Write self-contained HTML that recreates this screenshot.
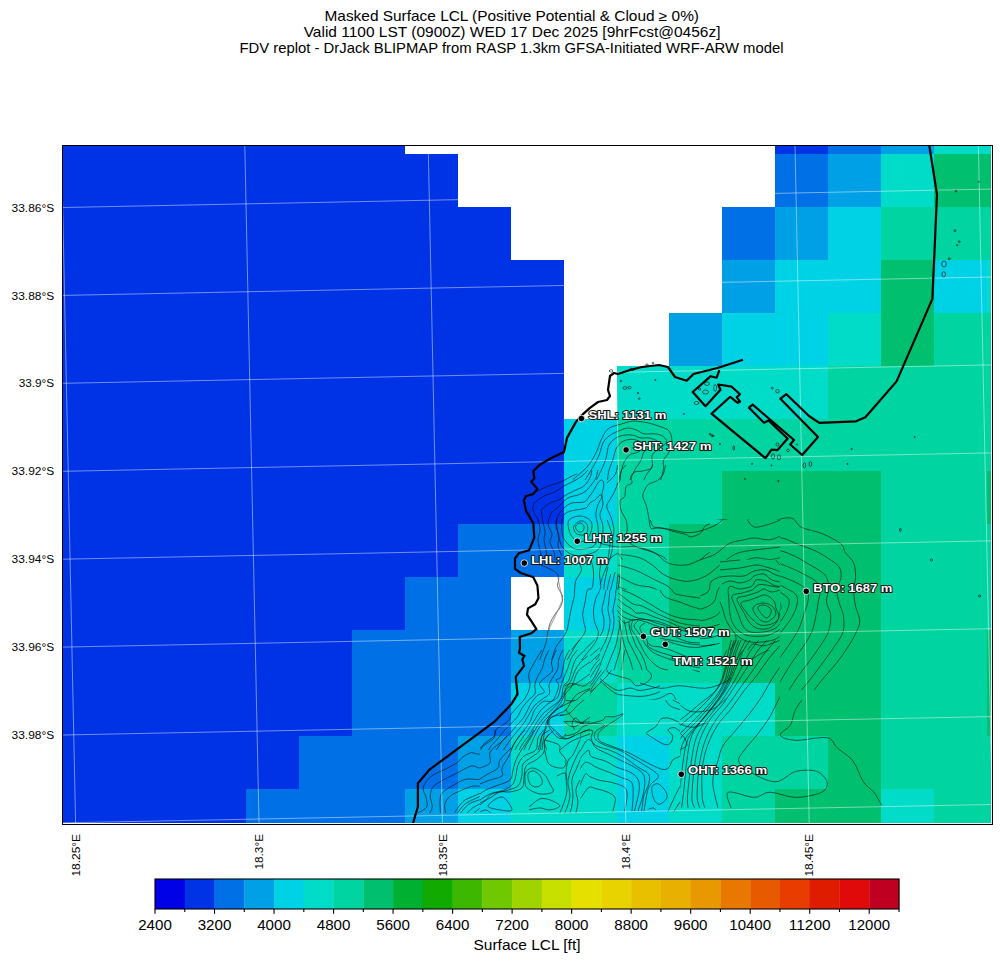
<!DOCTYPE html>
<html><head><meta charset="utf-8">
<style>
html,body{margin:0;padding:0;background:#fff;}
body{width:1001px;height:962px;overflow:hidden;position:relative;}
svg{position:absolute;left:0;top:0;}
text{font-family:"Liberation Sans",sans-serif;fill:#000;}
.st text{font-weight:bold;font-size:11.5px;fill:#fff;stroke:#111;stroke-width:1.9px;paint-order:stroke;stroke-linejoin:round;}
</style></head>
<body>
<svg width="1001" height="962" viewBox="0 0 1001 962">
<g font-size="14.1px">
<text x="511.75" y="21" text-anchor="middle" textLength="374.5" lengthAdjust="spacingAndGlyphs">Masked Surface LCL (Positive Potential &amp; Cloud ≥ 0%)</text>
<text x="512.1" y="37" text-anchor="middle" textLength="416.8" lengthAdjust="spacingAndGlyphs">Valid 1100 LST (0900Z) WED 17 Dec 2025 [9hrFcst@0456z]</text>
<text x="511.5" y="53" text-anchor="middle" textLength="544" lengthAdjust="spacingAndGlyphs">FDV replot - DrJack BLIPMAP from RASP 1.3km GFSA-Initiated WRF-ARW model</text>
</g>
<defs><clipPath id="ax"><rect x="63" y="146" width="928" height="677"/></clipPath><clipPath id="ctc"><rect x="63" y="146" width="928" height="667"/></clipPath></defs>
<g clip-path="url(#ax)">
<g shape-rendering="crispEdges"><rect x="63" y="146" width="342.0" height="8.0" fill="#0033e6"/>
<rect x="775" y="146" width="53.0" height="8.0" fill="#0033e6"/>
<rect x="828" y="146" width="53.0" height="8.0" fill="#0070e6"/>
<rect x="881" y="146" width="53.0" height="8.0" fill="#00a0e6"/>
<rect x="934" y="146" width="57.0" height="8.0" fill="#00dcc8"/>
<rect x="63" y="154" width="395.0" height="53.0" fill="#0033e6"/>
<rect x="775" y="154" width="53.0" height="53.0" fill="#0070e6"/>
<rect x="828" y="154" width="53.0" height="53.0" fill="#00a0e6"/>
<rect x="881" y="154" width="53.0" height="53.0" fill="#00dcc8"/>
<rect x="934" y="154" width="57.0" height="53.0" fill="#00c070"/>
<rect x="63" y="207" width="448.0" height="53.0" fill="#0033e6"/>
<rect x="722" y="207" width="53.0" height="53.0" fill="#0070e6"/>
<rect x="775" y="207" width="53.0" height="53.0" fill="#00a0e6"/>
<rect x="828" y="207" width="53.0" height="53.0" fill="#00d2e6"/>
<rect x="881" y="207" width="110.0" height="53.0" fill="#00d4a0"/>
<rect x="63" y="260" width="501.0" height="53.0" fill="#0033e6"/>
<rect x="722" y="260" width="53.0" height="53.0" fill="#00a0e6"/>
<rect x="775" y="260" width="106.0" height="53.0" fill="#00d2e6"/>
<rect x="881" y="260" width="53.0" height="53.0" fill="#00c070"/>
<rect x="934" y="260" width="53.0" height="53.0" fill="#00d2e6"/>
<rect x="987" y="260" width="4.0" height="53.0" fill="#00dcc8"/>
<rect x="63" y="313" width="501.0" height="53.0" fill="#0033e6"/>
<rect x="669" y="313" width="53.0" height="53.0" fill="#00a0e6"/>
<rect x="722" y="313" width="106.0" height="53.0" fill="#00d2e6"/>
<rect x="828" y="313" width="53.0" height="53.0" fill="#00dcc8"/>
<rect x="881" y="313" width="53.0" height="53.0" fill="#00c070"/>
<rect x="934" y="313" width="57.0" height="53.0" fill="#00d4a0"/>
<rect x="63" y="366" width="501.0" height="53.0" fill="#0033e6"/>
<rect x="617" y="366" width="211.0" height="53.0" fill="#00dcc8"/>
<rect x="828" y="366" width="163.0" height="53.0" fill="#00d4a0"/>
<rect x="63" y="419" width="501.0" height="52.0" fill="#0033e6"/>
<rect x="564" y="419" width="53.0" height="52.0" fill="#00d2e6"/>
<rect x="617" y="419" width="374.0" height="52.0" fill="#00d4a0"/>
<rect x="63" y="471" width="501.0" height="53.0" fill="#0033e6"/>
<rect x="564" y="471" width="53.0" height="53.0" fill="#00d2e6"/>
<rect x="617" y="471" width="105.0" height="53.0" fill="#00d4a0"/>
<rect x="722" y="471" width="159.0" height="53.0" fill="#00c070"/>
<rect x="881" y="471" width="106.0" height="53.0" fill="#00d4a0"/>
<rect x="987" y="471" width="4.0" height="53.0" fill="#00c070"/>
<rect x="63" y="524" width="395.0" height="53.0" fill="#0033e6"/>
<rect x="458" y="524" width="106.0" height="53.0" fill="#0070e6"/>
<rect x="564" y="524" width="53.0" height="53.0" fill="#00dcc8"/>
<rect x="617" y="524" width="52.0" height="53.0" fill="#00d4a0"/>
<rect x="669" y="524" width="212.0" height="53.0" fill="#00c070"/>
<rect x="881" y="524" width="110.0" height="53.0" fill="#00d4a0"/>
<rect x="63" y="577" width="342.0" height="53.0" fill="#0033e6"/>
<rect x="405" y="577" width="106.0" height="53.0" fill="#0070e6"/>
<rect x="564" y="577" width="53.0" height="53.0" fill="#00d2e6"/>
<rect x="617" y="577" width="52.0" height="53.0" fill="#00d4a0"/>
<rect x="669" y="577" width="212.0" height="53.0" fill="#00c070"/>
<rect x="881" y="577" width="110.0" height="53.0" fill="#00d4a0"/>
<rect x="63" y="630" width="289.0" height="53.0" fill="#0033e6"/>
<rect x="352" y="630" width="159.0" height="53.0" fill="#0070e6"/>
<rect x="511" y="630" width="53.0" height="53.0" fill="#00a0e6"/>
<rect x="564" y="630" width="53.0" height="53.0" fill="#00dcc8"/>
<rect x="617" y="630" width="105.0" height="53.0" fill="#00d4a0"/>
<rect x="722" y="630" width="159.0" height="53.0" fill="#00c070"/>
<rect x="881" y="630" width="106.0" height="53.0" fill="#00d4a0"/>
<rect x="987" y="630" width="4.0" height="53.0" fill="#00c070"/>
<rect x="63" y="683" width="289.0" height="53.0" fill="#0033e6"/>
<rect x="352" y="683" width="159.0" height="53.0" fill="#0070e6"/>
<rect x="511" y="683" width="53.0" height="53.0" fill="#00d2e6"/>
<rect x="564" y="683" width="53.0" height="53.0" fill="#00d4a0"/>
<rect x="617" y="683" width="158.0" height="53.0" fill="#00dcc8"/>
<rect x="775" y="683" width="106.0" height="53.0" fill="#00c070"/>
<rect x="881" y="683" width="106.0" height="53.0" fill="#00d4a0"/>
<rect x="987" y="683" width="4.0" height="53.0" fill="#00c070"/>
<rect x="63" y="736" width="236.0" height="53.0" fill="#0033e6"/>
<rect x="299" y="736" width="159.0" height="53.0" fill="#0070e6"/>
<rect x="458" y="736" width="53.0" height="53.0" fill="#00a0e6"/>
<rect x="511" y="736" width="106.0" height="53.0" fill="#00dcc8"/>
<rect x="617" y="736" width="52.0" height="53.0" fill="#00d2e6"/>
<rect x="669" y="736" width="53.0" height="53.0" fill="#00dcc8"/>
<rect x="722" y="736" width="106.0" height="53.0" fill="#00d4a0"/>
<rect x="828" y="736" width="53.0" height="53.0" fill="#00c070"/>
<rect x="881" y="736" width="110.0" height="53.0" fill="#00d4a0"/>
<rect x="63" y="789" width="183.0" height="34.0" fill="#0033e6"/>
<rect x="246" y="789" width="159.0" height="34.0" fill="#0070e6"/>
<rect x="405" y="789" width="53.0" height="34.0" fill="#00a0e6"/>
<rect x="458" y="789" width="53.0" height="34.0" fill="#00d2e6"/>
<rect x="511" y="789" width="106.0" height="34.0" fill="#00dcc8"/>
<rect x="617" y="789" width="52.0" height="34.0" fill="#00d2e6"/>
<rect x="669" y="789" width="53.0" height="34.0" fill="#00dcc8"/>
<rect x="722" y="789" width="53.0" height="34.0" fill="#00d4a0"/>
<rect x="775" y="789" width="106.0" height="34.0" fill="#00c070"/>
<rect x="881" y="789" width="53.0" height="34.0" fill="#00dcc8"/>
<rect x="934" y="789" width="57.0" height="34.0" fill="#00d4a0"/></g>
<g clip-path="url(#ctc)"><g fill="none" stroke="#000" stroke-opacity="0.7" stroke-width="0.8" stroke-linejoin="round">
<defs><mask id="cx0" maskUnits="userSpaceOnUse" x="0" y="0" width="1001" height="962"><rect x="0" y="0" width="1001" height="962" fill="#fff"/><rect x="470" y="650" width="120" height="100" fill="#000"/><rect x="480" y="730" width="100" height="85" fill="#000"/></mask><mask id="cx1" maskUnits="userSpaceOnUse" x="0" y="0" width="1001" height="962"><rect x="0" y="0" width="1001" height="962" fill="#fff"/><rect x="600" y="520" width="180" height="140" fill="#000"/><rect x="530" y="470" width="100" height="90" fill="#000"/><rect x="560" y="410" width="140" height="70" fill="#000"/><rect x="590" y="465" width="120" height="95" fill="#000"/></mask><mask id="cx2" maskUnits="userSpaceOnUse" x="0" y="0" width="1001" height="962"><rect x="0" y="0" width="1001" height="962" fill="#fff"/><rect x="560" y="560" width="140" height="120" fill="#000"/><rect x="640" y="640" width="260" height="175" fill="#000"/><rect x="600" y="520" width="180" height="140" fill="#000"/><rect x="720" y="560" width="100" height="90" fill="#000"/><rect x="780" y="490" width="120" height="210" fill="#000"/></mask><mask id="cx3" maskUnits="userSpaceOnUse" x="0" y="0" width="1001" height="962"><rect x="0" y="0" width="1001" height="962" fill="#fff"/><rect x="540" y="640" width="120" height="100" fill="#000"/><rect x="470" y="650" width="120" height="100" fill="#000"/><rect x="560" y="700" width="120" height="115" fill="#000"/><rect x="640" y="640" width="260" height="175" fill="#000"/></mask><mask id="cx4" maskUnits="userSpaceOnUse" x="0" y="0" width="1001" height="962"><rect x="0" y="0" width="1001" height="962" fill="#fff"/><rect x="600" y="520" width="180" height="140" fill="#000"/><rect x="560" y="410" width="140" height="70" fill="#000"/><rect x="590" y="465" width="120" height="95" fill="#000"/></mask><mask id="cx5" maskUnits="userSpaceOnUse" x="0" y="0" width="1001" height="962"><rect x="0" y="0" width="1001" height="962" fill="#fff"/><rect x="500" y="560" width="120" height="100" fill="#000"/><rect x="540" y="660" width="120" height="80" fill="#000"/><rect x="600" y="520" width="180" height="140" fill="#000"/><rect x="600" y="590" width="100" height="80" fill="#000"/><rect x="560" y="680" width="140" height="60" fill="#000"/></mask><mask id="cx8" maskUnits="userSpaceOnUse" x="0" y="0" width="1001" height="962"><rect x="0" y="0" width="1001" height="962" fill="#fff"/><rect x="560" y="465" width="45" height="95" fill="#000"/></mask><mask id="cx10" maskUnits="userSpaceOnUse" x="0" y="0" width="1001" height="962"><rect x="0" y="0" width="1001" height="962" fill="#fff"/><rect x="700" y="490" width="80" height="210" fill="#000"/></mask><mask id="cx11" maskUnits="userSpaceOnUse" x="0" y="0" width="1001" height="962"><rect x="0" y="0" width="1001" height="962" fill="#fff"/><rect x="600" y="590" width="100" height="80" fill="#000"/></mask><mask id="cx12" maskUnits="userSpaceOnUse" x="0" y="0" width="1001" height="962"><rect x="0" y="0" width="1001" height="962" fill="#fff"/><rect x="470" y="650" width="120" height="100" fill="#000"/><rect x="600" y="590" width="100" height="80" fill="#000"/><rect x="560" y="700" width="120" height="40" fill="#000"/></mask><mask id="cx13" maskUnits="userSpaceOnUse" x="0" y="0" width="1001" height="962"><rect x="0" y="0" width="1001" height="962" fill="#fff"/><rect x="555" y="730" width="25" height="85" fill="#000"/></mask><mask id="cx15" maskUnits="userSpaceOnUse" x="0" y="0" width="1001" height="962"><rect x="0" y="0" width="1001" height="962" fill="#fff"/><rect x="640" y="700" width="40" height="115" fill="#000"/><rect x="640" y="600" width="260" height="40" fill="#000"/><rect x="600" y="590" width="100" height="80" fill="#000"/><rect x="780" y="490" width="120" height="210" fill="#000"/></mask><mask id="cx16" maskUnits="userSpaceOnUse" x="0" y="0" width="1001" height="962"><rect x="0" y="0" width="1001" height="962" fill="#fff"/><rect x="720" y="560" width="100" height="90" fill="#000"/><rect x="600" y="590" width="100" height="80" fill="#000"/></mask><mask id="cx17" maskUnits="userSpaceOnUse" x="0" y="0" width="1001" height="962"><rect x="0" y="0" width="1001" height="962" fill="#fff"/><rect x="780" y="490" width="120" height="210" fill="#000"/></mask><mask id="cx18" maskUnits="userSpaceOnUse" x="0" y="0" width="1001" height="962"><rect x="0" y="0" width="1001" height="962" fill="#fff"/><rect x="605" y="465" width="105" height="95" fill="#000"/></mask></defs>
<g mask="url(#cx0)">
<path d="M418.4,812.6 C419.8,811.7 425.4,809.6 426.7,807.1 C428.0,804.5 426.6,800.6 426.0,797.3 C425.4,794.1 422.4,791.0 423.2,787.6 C424.1,784.1 427.3,779.4 430.9,776.4 C434.5,773.4 440.4,771.8 444.8,769.4 C449.3,767.1 454.4,764.6 457.4,762.5 C460.4,760.4 460.6,758.5 463.0,756.9 C465.3,755.3 468.5,753.2 471.3,752.7 C474.1,752.3 477.8,755.0 479.7,754.1 C481.5,753.2 480.6,749.0 482.5,747.1 C484.3,745.3 488.7,744.8 490.8,743.0 C492.9,741.1 494.3,738.1 495.0,736.0 C495.7,733.9 493.9,732.3 495.0,730.4 C496.2,728.6 499.4,727.2 502.0,724.8 C504.5,722.5 508.7,719.5 510.3,716.5 C512.0,713.5 510.1,709.7 511.7,706.7 C513.4,703.7 517.8,701.1 520.1,698.4 C522.4,695.6 524.8,691.4 525.7,690.0"/>
<path d="M428.1,815.4 C428.8,814.0 432.0,810.3 432.3,807.1 C432.6,803.8 430.0,799.4 430.2,795.9 C430.4,792.4 431.3,789.0 433.7,786.2 C436.1,783.4 441.1,781.3 444.8,779.2 C448.6,777.1 451.6,775.8 456.0,773.6 C460.4,771.4 467.4,766.9 471.3,766.0 C475.3,765.0 476.9,768.4 479.7,768.0 C482.5,767.7 486.2,765.7 488.0,763.9 C489.9,762.0 490.1,759.0 490.8,756.9 C491.5,754.8 490.8,753.6 492.2,751.3 C493.6,749.0 496.9,746.0 499.2,743.0 C501.5,739.9 503.4,736.9 506.2,733.2 C509.0,729.5 513.4,724.1 515.9,720.7 C518.5,717.2 519.9,714.9 521.5,712.3 C523.1,709.7 524.5,707.7 525.7,705.3 C526.8,703.0 528.0,699.5 528.5,698.4"/>
<path d="M440.7,815.4 C440.5,813.1 439.7,805.2 440.0,801.5 C440.2,797.8 440.1,795.7 442.1,793.1 C444.0,790.6 447.9,788.5 451.8,786.2 C455.8,783.8 460.9,780.4 465.7,779.2 C470.6,778.0 476.4,780.6 481.1,779.2 C485.7,777.8 490.1,774.1 493.6,770.8 C497.1,767.6 499.7,762.9 502.0,759.7 C504.3,756.4 505.7,754.1 507.6,751.3 C509.4,748.5 510.8,746.2 513.1,743.0 C515.5,739.7 518.7,734.8 521.5,731.8 C524.3,728.8 528.6,726.0 530.0,724.8"/>
<path d="M446.2,815.4 C446.0,813.6 444.1,807.5 444.8,804.3 C445.5,801.0 447.6,798.2 450.4,795.9 C453.2,793.6 457.9,792.0 461.6,790.3 C465.3,788.7 469.0,786.9 472.7,786.2 C476.4,785.5 479.9,786.9 483.9,786.2 C487.8,785.5 492.0,784.1 496.4,782.0 C500.8,779.9 506.6,776.9 510.3,773.6 C514.1,770.4 515.4,766.2 518.7,762.5 C522.0,758.8 528.1,753.2 530.0,751.3"/>
<path d="M454.6,812.6 C456.0,810.8 459.7,804.3 463.0,801.5 C466.2,798.7 469.9,797.8 474.1,795.9 C478.3,794.1 483.9,791.7 488.0,790.3 C492.2,789.0 495.5,789.4 499.2,787.6 C502.9,785.7 506.6,782.5 510.3,779.2 C514.1,775.9 518.2,771.3 521.5,768.0 C524.8,764.8 528.6,761.1 530.0,759.7"/>
<path d="M458.8,815.4 C460.4,813.6 464.6,807.1 468.5,804.3 C472.5,801.5 478.3,800.6 482.5,798.7 C486.7,796.9 489.7,794.5 493.6,793.1 C497.6,791.7 502.5,792.2 506.2,790.3 C509.9,788.5 512.7,785.2 515.9,782.0 C519.2,778.7 523.3,773.6 525.7,770.8 C528.0,768.0 529.3,766.2 530.0,765.3"/>
<path d="M471.3,815.4 C472.7,814.3 476.4,810.6 479.7,808.5 C482.9,806.4 487.1,805.0 490.8,802.9 C494.6,800.8 498.3,797.5 502.0,795.9 C505.7,794.3 509.9,794.8 513.1,793.1 C516.4,791.5 518.7,788.5 521.5,786.2 C524.3,783.8 528.6,780.4 530.0,779.2"/>
<path d="M489.4,805.7 C488.7,804.1 493.4,801.5 496.4,801.5 C499.4,801.5 504.8,804.3 507.6,805.7 C510.3,807.1 514.3,808.9 513.1,809.9 C512.0,810.8 504.5,812.0 500.6,811.3 C496.6,810.6 490.1,807.3 489.4,805.7Z"/>
<path d="M456.7,814.0 C458.0,812.5 461.4,807.1 464.4,804.5 C467.5,801.9 471.4,800.4 475.0,798.7 C478.7,796.9 482.5,795.3 486.3,793.8 C490.1,792.4 494.3,791.6 498.0,790.0 C501.7,788.5 505.3,786.7 508.5,784.4 C511.8,782.0 514.6,778.9 517.5,776.0 C520.4,773.1 523.8,769.3 525.9,767.1 C528.0,764.8 529.3,763.2 530.0,762.5"/>
<path d="M465.1,815.4 C466.3,814.2 469.8,810.0 472.6,807.9 C475.4,805.9 478.7,804.6 481.8,802.9 C484.9,801.3 488.2,799.7 491.3,798.2 C494.5,796.7 497.7,795.1 500.9,793.8 C504.2,792.5 507.8,792.1 510.8,790.4 C513.8,788.7 516.3,785.9 518.8,783.6 C521.4,781.2 524.5,778.0 526.4,776.1 C528.2,774.2 529.4,772.9 530.0,772.2"/>
</g>
<g mask="url(#cx1)">
<path d="M575.9,525.1 C576.6,523.8 579.4,521.6 580.7,521.9 C582.1,522.2 583.8,525.1 583.9,526.7 C584.1,528.3 582.7,531.0 581.5,531.5 C580.3,532.0 577.7,531.0 576.7,529.9 C575.8,528.8 575.3,526.4 575.9,525.1Z"/>
<path d="M571.2,521.9 C572.0,519.2 576.5,517.1 579.1,517.1 C581.8,517.1 585.5,519.5 587.1,521.9 C588.7,524.3 589.5,529.1 588.7,531.5 C587.9,533.9 584.7,536.0 582.3,536.3 C579.9,536.5 576.2,535.5 574.3,533.1 C572.5,530.7 570.4,524.6 571.2,521.9Z"/>
<path d="M566.4,518.7 C567.7,514.4 573.5,512.8 577.5,512.3 C581.5,511.8 587.7,512.8 590.3,515.5 C593.0,518.2 593.5,524.6 593.5,528.3 C593.5,532.0 592.7,535.5 590.3,537.9 C587.9,540.3 582.6,542.7 579.1,542.7 C575.7,542.7 571.7,541.9 569.6,537.9 C567.4,533.9 565.0,523.0 566.4,518.7Z"/>
<path d="M540.8,509.1 C542.6,507.5 548.0,502.2 552.0,499.5 C556.0,496.8 560.5,495.3 564.8,493.1 C569.0,491.0 573.8,488.9 577.5,486.7 C581.3,484.6 584.2,483.0 587.1,480.3 C590.1,477.7 593.0,474.5 595.1,470.7 C597.3,467.0 598.1,462.7 599.9,458.0 C601.8,453.2 604.5,446.5 606.3,442.0 C608.2,437.4 609.0,433.7 611.1,430.8 C613.2,427.8 615.6,426.0 619.1,424.4 C622.6,422.8 627.1,421.5 631.9,421.2 C636.7,420.9 642.5,421.5 647.9,422.8 C653.2,424.1 659.9,426.0 663.9,429.2 C667.9,432.4 670.8,437.2 671.9,442.0 C672.9,446.8 670.5,455.3 670.3,458.0"/>
<path d="M534.4,502.7 C536.8,501.1 544.0,496.1 548.8,493.1 C553.6,490.2 558.6,487.5 563.2,485.1 C567.7,482.7 572.0,480.9 575.9,478.7 C579.9,476.6 584.2,475.0 587.1,472.3 C590.1,469.7 591.7,466.5 593.5,462.7 C595.4,459.0 596.7,454.5 598.3,450.0 C599.9,445.4 601.3,439.6 603.1,435.6 C605.0,431.6 606.3,428.6 609.5,426.0 C612.7,423.3 620.2,420.7 622.3,419.6"/>
<path d="M552.0,512.3 C553.6,511.2 557.8,508.0 561.6,505.9 C565.3,503.8 570.1,501.4 574.3,499.5 C578.6,497.6 582.9,496.3 587.1,494.7 C591.4,493.1 596.7,492.3 599.9,489.9 C603.1,487.5 604.5,484.1 606.3,480.3 C608.2,476.6 610.0,471.8 611.1,467.5 C612.2,463.3 611.4,459.6 612.7,454.8 C614.0,450.0 615.9,442.8 619.1,438.8 C622.3,434.8 626.6,431.8 631.9,430.8 C637.2,429.7 645.7,431.0 651.1,432.4 C656.4,433.7 662.3,435.3 663.9,438.8 C665.5,442.2 662.5,449.2 660.7,453.2 C658.8,457.2 654.0,461.2 652.7,462.7"/>
<path d="M556.8,521.9 C558.1,520.6 560.8,516.3 564.8,513.9 C568.8,511.5 575.9,509.1 580.7,507.5 C585.5,505.9 589.8,506.2 593.5,504.3 C597.3,502.4 600.5,499.2 603.1,496.3 C605.8,493.4 608.4,488.3 609.5,486.7"/>
<path d="M620.7,442.0 C622.6,439.6 627.9,437.4 631.9,437.2 C635.9,436.9 641.5,438.5 644.7,440.4 C647.9,442.2 651.6,445.7 651.1,448.4 C650.5,451.0 645.2,454.8 641.5,456.4 C637.8,458.0 632.2,458.8 628.7,458.0 C625.2,457.2 622.0,454.2 620.7,451.6 C619.4,448.9 618.8,444.4 620.7,442.0Z"/>
<path d="M540.8,509.1 C540.5,511.2 538.9,517.1 539.2,521.9 C539.4,526.7 541.6,531.5 542.4,537.9 C543.2,544.2 543.7,556.3 544.0,559.9"/>
<path d="M552.0,512.3 C551.4,514.4 548.8,520.3 548.8,525.1 C548.8,529.9 550.9,535.3 552.0,541.1 C553.0,546.9 554.6,556.8 555.2,559.9"/>
<path d="M560.0,521.9 C559.7,524.6 557.8,533.1 558.4,537.9 C558.9,542.7 561.6,547.0 563.2,550.7 C564.8,554.3 567.2,558.4 568.0,559.9"/>
<path d="M534.4,502.7 C533.6,504.6 529.6,509.4 529.6,513.9 C529.6,518.4 533.3,524.6 534.4,529.9 C535.5,535.2 536.3,540.9 536.0,545.9 C535.7,550.9 533.3,557.6 532.8,559.9"/>
<path d="M537.6,505.9 C539.1,504.8 543.3,501.1 546.4,499.0 C549.5,497.0 552.8,495.2 556.1,493.4 C559.4,491.6 562.8,490.1 566.1,488.3 C569.3,486.4 572.7,484.7 575.7,482.5 C578.6,480.3 581.4,477.8 583.8,475.2 C586.2,472.6 588.0,469.6 590.1,466.7 C592.2,463.9 594.5,461.2 596.4,458.1 C598.3,455.1 599.4,451.2 601.5,448.2 C603.5,445.2 606.1,442.5 608.6,440.3 C611.2,438.1 614.1,436.4 616.8,435.0 C619.5,433.5 622.2,432.4 625.0,431.6 C627.7,430.8 630.7,430.1 633.2,430.2 C635.7,430.2 638.1,430.8 640.0,431.8 C641.9,432.9 643.6,435.2 644.7,436.4 C645.7,437.5 646.0,438.4 646.3,438.8"/>
<path d="M546.4,510.7 C548.1,509.4 553.2,505.1 556.9,502.8 C560.6,500.5 564.7,498.7 568.6,496.8 C572.6,494.9 576.7,493.3 580.7,491.5 C584.6,489.6 589.1,488.2 592.4,485.6 C595.7,482.9 598.4,479.3 600.6,475.5 C602.7,471.8 604.0,467.4 605.3,463.2 C606.7,459.1 607.5,454.8 608.9,450.6 C610.3,446.5 611.3,441.9 613.7,438.4 C616.0,434.9 619.2,431.7 622.8,429.7 C626.4,427.7 630.9,426.6 635.1,426.3 C639.4,425.9 644.0,426.5 648.2,427.6 C652.5,428.6 657.5,429.9 660.4,432.4 C663.3,434.9 665.2,438.8 665.8,442.5 C666.4,446.2 664.6,451.5 663.8,454.5 C663.1,457.5 661.9,459.4 661.5,460.4"/>
<path d="M546.4,510.7 C546.0,513.0 544.1,520.0 544.2,524.7 C544.3,529.4 546.3,534.0 547.0,538.7 C547.8,543.4 548.3,549.3 548.7,552.9 C549.2,556.4 549.4,558.8 549.6,559.9"/>
<path d="M556.0,517.1 C555.6,519.2 553.8,525.4 553.9,529.5 C553.9,533.7 555.2,537.8 556.2,541.9 C557.2,545.9 558.8,551.0 559.7,554.0 C560.6,557.0 561.2,558.9 561.6,559.9"/>
<path d="M537.6,505.9 C537.1,507.9 534.7,513.7 534.6,517.6 C534.6,521.6 536.7,525.6 537.4,529.6 C538.1,533.6 538.8,537.7 539.1,541.7 C539.3,545.8 539.0,550.8 538.9,553.9 C538.8,556.9 538.5,558.9 538.4,559.9"/>
</g>
<g mask="url(#cx2)">
<path d="M660.0,526.4 C664.4,527.5 679.0,533.3 686.4,533.0 C693.7,532.6 698.1,526.4 704.0,524.2 C709.8,522.0 714.2,519.8 721.5,519.8 C728.9,519.8 742.4,522.7 747.9,524.2 C753.4,525.6 750.8,528.9 754.5,528.6 C758.2,528.2 763.7,523.6 769.9,522.0 C776.1,520.3 786.4,517.6 791.9,518.7 C797.4,519.8 797.4,525.8 802.9,528.6 C808.4,531.3 818.2,532.2 824.8,535.2 C831.4,538.1 838.0,542.5 842.4,546.2 C846.8,549.8 849.0,552.0 851.2,557.1 C853.4,562.3 855.2,570.0 855.6,576.9 C856.0,583.9 852.7,591.6 853.4,598.9 C854.1,606.2 860.0,614.7 860.0,620.9 C860.0,627.1 856.7,630.8 853.4,636.3 C850.1,641.8 845.0,647.3 840.2,653.8 C835.5,660.4 829.2,668.1 824.8,675.8 C820.4,683.5 815.7,696.0 813.8,700.0"/>
<path d="M660.0,548.4 C665.1,548.0 682.7,547.3 690.8,546.2 C698.8,545.1 701.4,542.9 708.4,541.8 C715.3,540.7 725.2,540.3 732.5,539.6 C739.9,538.8 746.1,537.0 752.3,537.4 C758.5,537.7 763.3,540.7 769.9,541.8 C776.5,542.9 784.5,542.1 791.9,544.0 C799.2,545.8 807.3,549.1 813.8,552.7 C820.4,556.4 827.0,561.9 831.4,565.9 C835.8,570.0 838.4,571.4 840.2,576.9 C842.1,582.4 842.8,591.6 842.4,598.9 C842.1,606.2 840.6,613.6 838.0,620.9 C835.5,628.2 831.1,635.5 827.0,642.9 C823.0,650.2 818.2,657.5 813.8,664.8 C809.5,672.2 804.0,681.0 800.7,686.8 C797.4,692.7 795.2,697.8 794.1,700.0"/>
<path d="M660.0,563.7 C664.8,564.1 679.4,567.0 688.6,565.9 C697.7,564.8 707.6,559.3 714.9,557.1 C722.3,554.9 726.3,554.6 732.5,552.7 C738.8,550.9 745.3,546.2 752.3,546.2 C759.3,546.2 767.7,550.5 774.3,552.7 C780.9,554.9 786.0,556.4 791.9,559.3 C797.7,562.3 804.7,566.3 809.5,570.3 C814.2,574.4 817.5,578.4 820.4,583.5 C823.4,588.6 827.0,594.5 827.0,601.1 C827.0,607.7 823.0,616.5 820.4,623.1 C817.9,629.7 815.7,634.1 811.6,640.7 C807.6,647.3 801.0,655.3 796.3,662.6 C791.5,670.0 786.0,678.4 783.1,684.6 C780.1,690.8 779.4,697.4 778.7,700.0"/>
<path d="M660.0,574.7 C663.7,576.2 674.7,583.9 682.0,583.5 C689.3,583.2 696.6,575.8 704.0,572.5 C711.3,569.2 718.6,566.3 725.9,563.7 C733.3,561.2 741.3,557.9 747.9,557.1 C754.5,556.4 759.6,557.9 765.5,559.3 C771.4,560.8 777.2,562.6 783.1,565.9 C788.9,569.2 796.3,574.7 800.7,579.1 C805.1,583.5 807.3,587.2 809.5,592.3 C811.6,597.4 814.6,604.0 813.8,609.9 C813.1,615.8 808.7,621.6 805.1,627.5 C801.4,633.3 796.3,638.8 791.9,645.1 C787.5,651.3 783.1,657.9 778.7,664.8 C774.3,671.8 768.4,681.0 765.5,686.8 C762.6,692.7 761.8,697.8 761.1,700.0"/>
<path d="M660.0,587.9 C663.7,589.4 673.9,596.7 682.0,596.7 C690.0,596.7 701.0,591.2 708.4,587.9 C715.7,584.6 719.3,579.9 725.9,576.9 C732.5,574.0 740.6,571.1 747.9,570.3 C755.2,569.6 763.3,570.7 769.9,572.5 C776.5,574.4 782.3,578.0 787.5,581.3 C792.6,584.6 797.7,588.3 800.7,592.3 C803.6,596.3 805.8,600.4 805.1,605.5 C804.3,610.6 799.9,617.2 796.3,623.1 C792.6,628.9 787.5,634.8 783.1,640.7 C778.7,646.5 774.3,651.6 769.9,658.2 C765.5,664.8 759.6,673.3 756.7,680.2 C753.8,687.2 753.0,696.7 752.3,700.0"/>
<path d="M660.0,601.1 C664.4,602.2 677.2,608.1 686.4,607.7 C695.5,607.3 708.4,602.2 714.9,598.9 C721.5,595.6 720.4,590.8 725.9,587.9 C731.4,585.0 741.3,582.1 747.9,581.3 C754.5,580.6 759.6,582.4 765.5,583.5 C771.4,584.6 777.9,586.1 783.1,587.9 C788.2,589.7 793.3,591.6 796.3,594.5 C799.2,597.4 801.4,601.5 800.7,605.5 C799.9,609.5 795.5,614.3 791.9,618.7 C788.2,623.1 783.1,626.7 778.7,631.9 C774.3,637.0 769.9,642.9 765.5,649.5 C761.1,656.0 755.2,663.0 752.3,671.4 C749.4,679.9 748.6,695.2 747.9,700.0"/>
<path d="M660.0,612.1 C665.5,612.8 683.1,616.8 693.0,616.5 C702.9,616.1 713.5,613.2 719.3,609.9 C725.2,606.6 722.6,600.0 728.1,596.7 C733.6,593.4 745.3,590.5 752.3,590.1 C759.3,589.7 764.4,593.0 769.9,594.5 C775.4,596.0 781.6,596.3 785.3,598.9 C788.9,601.5 792.2,605.9 791.9,609.9 C791.5,613.9 786.7,618.7 783.1,623.1 C779.4,627.5 774.3,631.1 769.9,636.3 C765.5,641.4 760.7,647.3 756.7,653.8 C752.7,660.4 747.9,668.1 745.7,675.8 C743.5,683.5 743.9,696.0 743.5,700.0"/>
<path d="M730.3,603.3 C733.3,602.2 741.3,596.7 747.9,596.7 C754.5,596.7 764.0,601.1 769.9,603.3 C775.8,605.5 781.6,606.6 783.1,609.9 C784.5,613.2 782.0,619.4 778.7,623.1 C775.4,626.7 767.7,628.2 763.3,631.9 C758.9,635.5 756.0,639.2 752.3,645.1 C748.6,650.9 743.5,657.9 741.3,667.0 C739.1,676.2 739.5,694.5 739.1,700.0"/>
<path d="M736.9,605.5 C738.0,602.2 748.3,602.2 754.5,603.3 C760.7,604.4 771.0,608.8 774.3,612.1 C777.6,615.4 776.5,620.5 774.3,623.1 C772.1,625.6 765.5,627.5 761.1,627.5 C756.7,627.5 751.9,626.7 747.9,623.1 C743.9,619.4 735.8,608.8 736.9,605.5Z"/>
<path d="M752.3,607.7 C753.0,605.1 759.6,602.6 763.3,603.3 C767.0,604.0 773.2,609.2 774.3,612.1 C775.4,615.0 772.5,619.8 769.9,620.9 C767.3,622.0 761.8,620.9 758.9,618.7 C756.0,616.5 751.6,610.3 752.3,607.7Z"/>
<path d="M756.7,607.7 C757.1,605.5 763.3,604.4 765.5,605.5 C767.7,606.6 770.3,612.1 769.9,614.3 C769.5,616.5 765.5,619.8 763.3,618.7 C761.1,617.6 756.3,609.9 756.7,607.7Z"/>
<path d="M660.0,631.9 C663.7,633.3 674.7,639.2 682.0,640.7 C689.3,642.1 696.6,641.4 704.0,640.7 C711.3,639.9 722.3,637.0 725.9,636.3"/>
<path d="M660.0,649.5 C665.5,650.2 683.8,653.5 693.0,653.8 C702.1,654.2 708.4,652.4 714.9,651.6 C721.5,650.9 728.9,648.4 732.5,649.5 C736.2,650.5 736.2,656.8 736.9,658.2"/>
<path d="M660.0,671.4 C665.5,671.4 683.1,671.4 693.0,671.4 C702.9,671.4 712.7,672.2 719.3,671.4 C725.9,670.7 730.3,667.8 732.5,667.0"/>
<path d="M660.0,686.8 C663.7,687.2 674.7,689.0 682.0,689.0 C689.3,689.0 697.4,687.9 704.0,686.8 C710.5,685.7 718.6,683.2 721.5,682.4"/>
<path d="M660.0,537.4 C663.1,537.7 672.4,539.3 678.5,539.1 C684.6,538.9 690.5,537.5 696.5,536.2 C702.5,534.8 708.4,532.1 714.5,531.2 C720.6,530.3 727.0,530.7 733.1,531.0 C739.3,531.3 745.2,533.2 751.2,533.2 C757.2,533.2 763.0,531.4 769.1,531.0 C775.2,530.7 781.8,529.9 787.6,531.1 C793.5,532.4 798.5,536.3 804.2,538.7 C809.9,541.1 816.2,542.6 821.6,545.5 C827.1,548.5 832.8,552.0 836.9,556.4 C841.1,560.8 844.8,566.3 846.7,572.0 C848.6,577.6 848.4,584.4 848.5,590.6 C848.6,596.8 847.6,603.1 847.2,609.1 C846.8,615.1 847.7,621.1 846.1,626.8 C844.5,632.6 840.7,638.1 837.5,643.5 C834.3,648.9 830.5,653.9 827.0,659.1 C823.6,664.3 819.9,669.5 816.8,674.9 C813.6,680.3 810.1,687.3 808.0,691.5 C805.9,695.7 804.6,698.6 804.0,700.0"/>
<path d="M660.0,556.0 C663.4,556.0 673.6,556.6 680.4,556.0 C687.1,555.5 693.7,554.2 700.3,553.0 C706.9,551.7 713.5,549.8 720.1,548.5 C726.8,547.1 733.5,545.7 740.2,544.9 C746.8,544.1 753.3,543.2 759.9,543.7 C766.5,544.2 773.2,546.2 779.8,548.0 C786.3,549.8 792.9,551.7 799.0,554.5 C805.1,557.4 811.2,560.8 816.4,565.1 C821.5,569.4 826.9,574.4 829.9,580.2 C832.8,585.9 834.2,593.1 834.1,599.7 C834.1,606.2 831.9,613.1 829.7,619.5 C827.6,625.9 824.5,632.0 821.2,638.0 C818.0,643.9 814.0,649.5 810.4,655.3 C806.9,661.0 803.1,666.7 799.7,672.6 C796.3,678.5 792.3,686.0 790.1,690.5 C787.9,695.1 787.0,698.4 786.4,700.0"/>
<path d="M660.0,569.2 C663.3,570.0 673.3,573.8 679.8,573.8 C686.4,573.7 692.7,570.9 699.1,568.9 C705.5,566.9 711.9,564.0 718.3,561.8 C724.8,559.5 731.4,556.9 737.9,555.5 C744.5,554.1 751.1,552.8 757.7,553.4 C764.3,554.0 771.1,556.4 777.4,558.9 C783.8,561.3 790.1,564.4 795.6,568.2 C801.1,572.1 806.7,576.6 810.6,582.0 C814.4,587.4 818.2,594.2 818.9,600.5 C819.6,606.8 817.2,613.5 814.9,619.7 C812.6,625.9 808.6,631.8 805.1,637.7 C801.5,643.5 797.4,649.0 793.6,654.7 C789.9,660.5 785.9,666.1 782.5,672.0 C779.0,678.0 775.0,685.5 772.9,690.2 C770.8,694.8 770.4,698.4 769.9,700.0"/>
<path d="M660.0,581.3 C663.0,582.5 672.2,588.2 678.2,588.6 C684.3,589.1 690.3,586.1 696.3,584.1 C702.4,582.0 708.4,579.0 714.3,576.4 C720.3,573.8 726.1,570.5 732.2,568.5 C738.3,566.4 744.7,564.3 751.1,564.1 C757.5,563.9 764.3,565.3 770.4,567.3 C776.5,569.2 782.5,572.3 787.8,575.9 C793.2,579.5 799.2,583.5 802.5,588.7 C805.8,593.8 808.1,600.8 807.8,606.7 C807.5,612.7 803.8,618.7 800.7,624.3 C797.7,629.9 793.2,635.0 789.4,640.3 C785.6,645.6 781.5,650.8 777.9,656.2 C774.2,661.7 770.6,667.2 767.5,672.9 C764.4,678.6 761.1,686.0 759.3,690.5 C757.5,695.1 757.1,698.4 756.7,700.0"/>
<path d="M660.0,594.5 C663.2,595.5 672.8,600.2 679.2,600.7 C685.6,601.3 692.2,599.4 698.5,597.6 C704.8,595.7 711.0,592.7 716.9,589.8 C722.9,586.8 728.0,582.2 734.1,580.0 C740.3,577.7 747.2,576.4 753.7,576.5 C760.3,576.5 767.1,578.1 773.5,580.1 C779.8,582.2 786.8,584.6 791.6,588.7 C796.3,592.7 801.7,598.9 801.9,604.4 C802.1,609.9 796.4,616.2 792.7,621.6 C789.1,627.1 784.2,632.0 780.1,637.3 C776.0,642.7 771.9,648.1 768.1,653.7 C764.4,659.3 760.2,664.8 757.5,670.9 C754.8,676.9 753.2,685.2 752.0,690.1 C750.8,694.9 750.4,698.3 750.1,700.0"/>
<path d="M660.0,606.6 C663.2,607.2 672.7,609.7 679.0,610.3 C685.3,610.8 691.6,610.8 697.8,609.7 C704.0,608.6 710.7,606.9 716.1,603.9 C721.5,600.9 724.7,594.6 730.1,591.8 C735.5,588.9 742.3,587.4 748.5,586.9 C754.8,586.5 761.2,587.7 767.5,589.0 C773.7,590.2 781.2,591.3 785.9,594.7 C790.5,598.0 795.7,604.1 795.3,609.1 C795.0,614.1 787.9,619.6 783.8,624.6 C779.7,629.5 774.8,633.8 770.7,638.8 C766.7,643.8 762.9,649.1 759.5,654.5 C756.0,660.0 752.2,665.5 750.1,671.5 C748.0,677.4 747.6,685.6 746.9,690.4 C746.2,695.2 745.9,698.4 745.7,700.0"/>
<path d="M660.0,640.7 C662.7,641.3 670.7,643.6 676.2,644.7 C681.6,645.8 687.0,646.8 692.5,647.1 C698.1,647.3 703.8,646.7 709.3,646.2 C714.8,645.6 722.0,643.7 725.7,643.9 C729.4,644.1 730.5,646.7 731.4,647.3"/>
<path d="M660.0,660.4 C662.9,660.6 671.5,661.3 677.3,661.7 C683.0,662.0 688.8,662.5 694.5,662.5 C700.3,662.4 706.1,662.0 711.8,661.5 C717.6,661.1 725.0,659.6 728.8,659.8 C732.6,660.0 733.7,662.2 734.7,662.6"/>
<path d="M660.0,679.1 C663.2,679.3 672.9,679.9 679.3,680.0 C685.8,680.1 692.2,680.0 698.6,679.5 C705.0,679.1 713.0,678.3 717.8,677.5 C722.5,676.7 725.5,675.2 727.0,674.7"/>
</g>
<g mask="url(#cx3)">
<path d="M740.2,680.0 C738.0,682.2 732.2,688.8 727.0,693.2 C721.9,697.6 715.3,701.2 709.5,706.4 C703.6,711.5 695.5,718.1 691.9,724.0 C688.2,729.8 689.7,736.4 687.5,741.5 C685.3,746.7 681.6,750.3 678.7,754.7 C675.8,759.1 672.8,762.8 669.9,767.9 C667.0,773.0 664.0,779.6 661.1,785.5 C658.2,791.4 654.5,798.7 652.3,803.1 C650.1,807.5 648.6,810.4 647.9,811.9"/>
<path d="M744.6,680.0 C742.4,682.9 736.6,692.5 731.4,697.6 C726.3,702.7 719.3,705.6 713.8,710.8 C708.4,715.9 701.8,722.5 698.5,728.4 C695.2,734.2 696.3,740.8 694.1,745.9 C691.9,751.1 688.2,754.0 685.3,759.1 C682.3,764.2 679.0,770.8 676.5,776.7 C673.9,782.6 672.5,788.4 669.9,794.3 C667.3,800.1 662.6,808.9 661.1,811.9"/>
<path d="M749.0,680.0 C746.8,683.3 741.0,693.9 735.8,699.8 C730.7,705.6 723.4,709.7 718.2,715.2 C713.1,720.7 708.0,726.9 705.1,732.7 C702.1,738.6 702.9,745.2 700.7,750.3 C698.5,755.5 694.4,758.4 691.9,763.5 C689.3,768.6 687.8,775.2 685.3,781.1 C682.7,787.0 679.0,793.6 676.5,798.7 C673.9,803.8 671.0,809.7 669.9,811.9"/>
<path d="M753.4,680.0 C751.2,683.7 745.3,695.4 740.2,702.0 C735.1,708.6 727.4,713.7 722.6,719.6 C717.9,725.4 714.2,731.3 711.6,737.1 C709.1,743.0 709.5,748.9 707.3,754.7 C705.1,760.6 701.0,766.4 698.5,772.3 C695.9,778.2 694.4,783.3 691.9,789.9 C689.3,796.5 684.5,808.2 683.1,811.9"/>
<path d="M757.8,684.4 C755.6,688.1 749.4,699.8 744.6,706.4 C739.9,713.0 733.6,718.1 729.2,724.0 C724.8,729.8 720.8,735.7 718.2,741.5 C715.7,747.4 716.0,753.3 713.8,759.1 C711.6,765.0 707.3,770.8 705.1,776.7 C702.9,782.6 702.1,788.4 700.7,794.3 C699.2,800.1 697.0,808.9 696.3,811.9"/>
<path d="M762.2,688.8 C760.4,692.8 755.6,706.4 751.2,713.0 C746.8,719.6 739.9,722.9 735.8,728.4 C731.8,733.8 729.6,739.3 727.0,745.9 C724.5,752.5 722.3,760.6 720.4,767.9 C718.6,775.2 717.1,782.6 716.0,789.9 C714.9,797.2 714.2,808.2 713.8,811.9"/>
<path d="M771.0,693.2 C768.8,697.9 761.8,714.4 757.8,721.8 C753.8,729.1 750.1,731.6 746.8,737.1 C743.5,742.6 741.3,746.7 738.0,754.7 C734.7,762.8 728.9,776.0 727.0,785.5 C725.2,795.0 727.0,807.5 727.0,811.9"/>
<path d="M780.0,702.0 C778.1,707.1 773.2,725.4 768.8,732.7 C764.4,740.1 757.4,740.8 753.4,745.9 C749.4,751.1 747.2,756.9 744.6,763.5 C742.1,770.1 739.5,777.4 738.0,785.5 C736.6,793.6 736.2,807.5 735.8,811.9"/>
<path d="M727.0,794.3 C730.3,794.3 739.9,792.8 746.8,794.3 C753.8,795.8 763.3,800.9 768.8,803.1 C774.3,805.3 778.1,806.7 780.0,807.5"/>
<path d="M623.7,713.0 C620.4,715.5 605.8,723.6 604.0,728.4 C602.1,733.1 608.4,737.9 612.7,741.5 C617.1,745.2 624.5,746.7 630.3,750.3 C636.2,754.0 643.5,759.5 647.9,763.5 C652.3,767.5 656.0,771.2 656.7,774.5 C657.4,777.8 653.8,779.3 652.3,783.3 C650.8,787.3 649.4,793.9 647.9,798.7 C646.4,803.4 644.2,809.7 643.5,811.9"/>
<path d="M604.0,724.0 C602.1,726.2 593.0,733.5 593.0,737.1 C593.0,740.8 598.5,742.6 604.0,745.9 C609.5,749.2 619.3,752.5 625.9,756.9 C632.5,761.3 641.0,766.8 643.5,772.3 C646.1,777.8 642.4,783.3 641.3,789.9 C640.2,796.5 637.7,808.2 636.9,811.9"/>
<path d="M588.6,732.7 C588.2,734.9 583.8,742.3 586.4,745.9 C588.9,749.6 598.1,751.1 604.0,754.7 C609.8,758.4 616.8,763.5 621.5,767.9 C626.3,772.3 630.7,776.0 632.5,781.1 C634.4,786.2 632.9,793.6 632.5,798.7 C632.2,803.8 630.7,809.7 630.3,811.9"/>
<path d="M577.6,737.1 C577.9,739.7 576.8,748.1 579.8,752.5 C582.7,756.9 589.3,759.5 595.2,763.5 C601.0,767.5 610.2,772.3 614.9,776.7 C619.7,781.1 622.3,784.0 623.7,789.9 C625.2,795.8 623.7,808.2 623.7,811.9"/>
<path d="M566.6,745.9 C567.3,748.9 567.7,758.8 571.0,763.5 C574.3,768.3 580.9,770.8 586.4,774.5 C591.9,778.2 599.2,781.5 604.0,785.5 C608.7,789.5 612.7,794.3 614.9,798.7 C617.1,803.1 616.8,809.7 617.1,811.9"/>
<path d="M560.0,763.5 C561.5,766.4 565.1,776.7 568.8,781.1 C572.5,785.5 576.8,787.0 582.0,789.9 C587.1,792.8 595.2,795.0 599.6,798.7 C604.0,802.3 606.9,809.7 608.4,811.9"/>
<path d="M582.0,776.7 C584.2,772.3 589.7,770.8 595.2,772.3 C600.7,773.8 612.4,780.4 614.9,785.5 C617.5,790.6 614.2,799.0 610.5,803.1 C606.9,807.1 597.7,810.4 593.0,809.7 C588.2,808.9 583.8,804.2 582.0,798.7 C580.1,793.2 579.8,781.1 582.0,776.7Z"/>
<path d="M599.6,680.0 C603.2,682.2 613.5,691.0 621.5,693.2 C629.6,695.4 639.1,693.9 647.9,693.2 C656.7,692.5 668.4,687.3 674.3,688.8 C680.1,690.3 680.1,701.2 683.1,702.0 C686.0,702.7 686.7,695.4 691.9,693.2 C697.0,691.0 708.0,691.0 713.8,688.8 C719.7,686.6 724.8,681.5 727.0,680.0"/>
<path d="M617.1,684.4 C621.5,688.1 634.7,703.4 643.5,706.4 C652.3,709.3 664.8,701.2 669.9,702.0 C675.0,702.7 669.9,710.0 674.3,710.8 C678.7,711.5 689.7,708.6 696.3,706.4 C702.9,704.2 710.9,699.0 713.8,697.6"/>
<path d="M645.7,732.7 C647.2,730.2 656.3,726.5 661.1,724.0 C665.9,721.4 671.0,716.3 674.3,717.4 C677.6,718.5 681.6,726.2 680.9,730.5 C680.1,734.9 674.7,742.3 669.9,743.7 C665.1,745.2 656.3,741.2 652.3,739.3 C648.3,737.5 644.2,735.3 645.7,732.7Z"/>
<path d="M656.7,785.5 C656.0,787.7 658.2,797.2 661.1,798.7 C664.0,800.1 673.6,796.5 674.3,794.3 C675.0,792.1 668.4,787.0 665.5,785.5 C662.6,784.0 657.4,783.3 656.7,785.5Z"/>
<path d="M560.0,693.2 C561.5,692.5 565.9,690.3 568.8,688.8 C571.7,687.3 573.9,685.9 577.6,684.4 C581.2,682.9 588.6,680.7 590.8,680.0"/>
<path d="M560.0,706.4 C562.2,704.9 568.8,700.1 573.2,697.6 C577.6,695.0 582.7,693.9 586.4,691.0 C590.0,688.1 593.7,681.8 595.2,680.0"/>
<path d="M560.0,719.6 C562.6,718.5 570.6,715.9 575.4,713.0 C580.1,710.0 583.8,705.3 588.6,702.0 C593.3,698.7 601.4,694.7 604.0,693.2"/>
<path d="M564.4,732.7 C567.3,730.9 575.4,725.1 582.0,721.8 C588.6,718.5 597.0,714.4 604.0,713.0 C610.9,711.5 620.4,713.0 623.7,713.0"/>
<path d="M742.4,680.0 C740.6,682.1 735.3,688.9 731.3,692.8 C727.2,696.8 722.5,700.0 718.2,703.6 C713.9,707.3 709.5,710.9 705.6,715.0 C701.6,719.0 697.3,723.0 694.8,727.9 C692.2,732.8 692.5,739.1 690.1,744.2 C687.8,749.3 683.8,753.6 680.9,758.5 C678.0,763.4 675.2,768.3 672.7,773.4 C670.1,778.4 668.1,783.7 665.7,788.9 C663.3,794.0 660.2,800.4 658.3,804.2 C656.5,808.1 655.1,810.6 654.5,811.9"/>
<path d="M746.8,680.0 C745.0,682.5 740.1,690.5 736.1,695.1 C732.0,699.8 726.9,703.3 722.5,707.6 C718.1,711.9 713.3,716.0 709.6,720.8 C705.9,725.6 702.9,731.0 700.3,736.4 C697.7,741.9 696.3,748.0 693.8,753.5 C691.2,759.1 687.5,764.2 684.8,769.7 C682.1,775.3 680.1,781.1 677.5,786.8 C675.0,792.4 671.7,799.4 669.6,803.6 C667.6,807.7 666.2,810.5 665.5,811.9"/>
<path d="M751.2,680.0 C749.6,682.5 745.1,690.5 741.5,695.3 C737.9,700.1 733.6,704.3 729.6,708.7 C725.5,713.1 720.9,717.1 717.3,721.8 C713.6,726.6 710.2,731.7 707.8,737.1 C705.4,742.5 704.9,748.8 702.7,754.4 C700.4,759.9 696.9,764.9 694.4,770.4 C691.8,775.8 689.9,781.6 687.6,787.1 C685.2,792.7 682.0,799.5 680.2,803.6 C678.3,807.7 677.1,810.5 676.5,811.9"/>
<path d="M755.6,682.2 C753.9,685.0 749.2,693.7 745.5,699.1 C741.7,704.4 737.1,709.1 733.0,714.2 C728.9,719.3 724.4,724.1 721.0,729.6 C717.7,735.2 715.4,741.3 712.9,747.3 C710.5,753.3 708.5,759.6 706.2,765.7 C703.8,771.8 701.0,777.7 698.7,783.8 C696.5,790.0 694.2,797.9 692.7,802.5 C691.2,807.2 690.2,810.3 689.7,811.9"/>
<path d="M760.0,686.6 C758.6,689.3 754.6,697.8 751.3,703.0 C748.1,708.2 744.1,712.9 740.4,717.8 C736.6,722.7 732.2,727.2 729.0,732.4 C725.8,737.6 723.4,743.4 721.2,749.1 C718.9,754.9 717.3,760.9 715.4,766.8 C713.6,772.7 711.6,778.5 710.1,784.5 C708.7,790.5 707.5,798.2 706.7,802.7 C705.8,807.3 705.3,810.3 705.1,811.9"/>
<path d="M766.6,691.0 C765.2,694.1 761.4,703.6 758.1,709.5 C754.8,715.3 750.4,720.4 746.8,726.1 C743.1,731.7 739.1,737.2 736.1,743.2 C733.1,749.2 730.9,755.7 728.7,762.1 C726.6,768.5 724.3,775.0 723.0,781.6 C721.7,788.2 721.4,796.7 721.0,801.7 C720.5,806.8 720.5,810.2 720.4,811.9"/>
<path d="M775.5,697.6 C774.0,701.1 770.3,712.0 766.8,718.7 C763.3,725.3 758.4,731.0 754.4,737.3 C750.4,743.7 745.8,749.8 742.6,756.6 C739.4,763.4 736.8,770.8 735.0,778.1 C733.2,785.4 732.5,794.8 731.9,800.5 C731.3,806.1 731.5,810.0 731.4,811.9"/>
<path d="M613.8,718.5 C612.0,720.2 604.6,725.3 603.0,728.8 C601.5,732.2 602.4,735.9 604.7,739.1 C606.9,742.2 612.3,745.2 616.4,747.8 C620.6,750.4 625.5,752.1 629.7,754.8 C633.9,757.6 638.1,760.8 641.4,764.2 C644.7,767.7 648.9,771.5 649.7,775.8 C650.4,780.1 647.1,785.3 645.9,790.1 C644.6,794.9 643.1,801.0 642.2,804.6 C641.2,808.3 640.5,810.7 640.2,811.9"/>
<path d="M596.3,728.4 C595.4,730.7 589.7,738.6 591.3,742.5 C592.8,746.3 601.0,748.3 605.8,751.3 C610.7,754.2 615.9,756.7 620.4,760.0 C625.0,763.4 630.3,767.0 633.1,771.5 C635.9,775.9 636.9,781.2 637.2,786.5 C637.6,791.9 635.8,799.2 635.2,803.5 C634.6,807.7 633.9,810.5 633.6,811.9"/>
<path d="M583.1,734.9 C583.3,737.4 581.8,745.7 584.1,749.4 C586.5,753.2 592.8,754.6 597.0,757.4 C601.2,760.2 605.5,763.1 609.5,766.2 C613.5,769.3 618.1,772.1 621.2,775.9 C624.3,779.7 627.0,784.3 628.1,789.0 C629.2,793.7 627.9,800.4 627.7,804.3 C627.5,808.1 627.1,810.6 627.0,811.9"/>
<path d="M572.1,741.5 C572.7,744.2 573.1,753.2 575.9,757.6 C578.7,761.9 584.5,764.5 589.0,767.7 C593.5,770.9 598.7,773.5 603.0,776.9 C607.2,780.4 611.9,784.0 614.7,788.4 C617.5,792.9 618.8,799.6 619.8,803.5 C620.7,807.5 620.3,810.5 620.4,811.9"/>
<path d="M563.3,754.7 C564.1,757.0 565.7,764.4 568.1,768.3 C570.6,772.2 574.4,775.2 578.1,778.1 C581.8,781.0 586.3,783.3 590.3,785.9 C594.4,788.5 598.9,790.6 602.3,793.8 C605.6,797.0 608.5,802.2 610.3,805.2 C612.0,808.2 612.3,810.8 612.7,811.9"/>
<path d="M560.0,699.8 C561.6,698.8 566.3,695.9 569.6,694.1 C572.8,692.3 576.3,690.7 579.5,688.9 C582.7,687.1 586.5,684.7 588.7,683.2 C590.9,681.8 592.3,680.5 593.0,680.0"/>
<path d="M560.0,713.0 C562.0,711.9 568.2,708.8 572.1,706.5 C576.0,704.2 579.8,701.6 583.5,699.0 C587.2,696.4 591.7,693.0 594.4,690.9 C597.0,688.8 598.7,687.3 599.6,686.6"/>
<path d="M562.2,726.2 C564.6,724.9 572.0,721.0 576.8,718.4 C581.5,715.7 586.1,712.6 591.0,710.3 C595.9,708.1 602.2,706.1 606.1,704.9 C609.9,703.7 612.5,703.4 613.8,703.1"/>
</g>
<g mask="url(#cx4)">
<path d="M673.1,452.8 C671.8,454.4 666.7,459.2 665.1,462.4 C663.5,465.6 664.9,468.8 663.5,472.0 C662.2,475.2 659.8,479.2 657.1,481.6 C654.5,484.0 649.9,484.0 647.5,486.4 C645.1,488.8 643.0,492.2 642.7,495.9 C642.5,499.7 644.9,504.7 645.9,508.7 C647.0,512.7 647.8,516.7 649.1,519.9 C650.5,523.1 650.5,526.3 653.9,527.9 C657.4,529.5 664.6,528.4 669.9,529.5 C675.3,530.6 680.6,534.0 685.9,534.3 C691.2,534.6 697.6,533.0 701.9,531.1 C706.2,529.2 708.0,525.0 711.5,523.1 C714.9,521.3 718.9,520.2 722.7,519.9 C726.4,519.7 729.3,521.5 733.9,521.5 C738.4,521.5 747.3,520.2 750.0,519.9"/>
<path d="M657.1,449.6 C656.1,451.2 652.1,456.0 650.7,459.2 C649.4,462.4 651.5,466.4 649.1,468.8 C646.7,471.2 639.6,471.4 636.4,473.6 C633.2,475.7 631.0,478.6 630.0,481.6 C628.9,484.5 631.3,488.0 630.0,491.2 C628.6,494.3 623.6,498.1 622.0,500.7 C620.4,503.4 619.8,503.9 620.4,507.1 C620.9,510.3 623.6,515.7 625.2,519.9 C626.8,524.2 628.4,529.0 630.0,532.7 C631.6,536.4 632.1,539.4 634.8,542.3 C637.4,545.2 641.4,547.6 645.9,550.3 C650.5,553.0 659.3,557.0 661.9,558.3"/>
<path d="M645.9,448.0 C644.6,449.9 641.4,456.0 638.0,459.2 C634.5,462.4 628.4,463.4 625.2,467.2 C622.0,470.9 619.8,477.0 618.8,481.6 C617.7,486.1 619.0,490.6 618.8,494.3 C618.5,498.1 616.9,499.1 617.2,503.9 C617.4,508.7 619.3,517.8 620.4,523.1 C621.4,528.4 622.2,531.6 623.6,535.9 C624.9,540.2 626.0,544.7 628.4,548.7 C630.8,552.7 636.4,558.2 638.0,560.0"/>
<path d="M615.6,440.0 C614.5,442.7 610.8,450.7 609.2,456.0 C607.6,461.3 607.6,466.6 606.0,472.0 C604.4,477.3 601.5,482.6 599.6,488.0 C597.7,493.3 596.1,499.1 594.8,503.9 C593.5,508.7 592.1,514.6 591.6,516.7"/>
<path d="M607.6,440.0 C606.8,442.7 604.4,450.7 602.8,456.0 C601.2,461.3 599.6,466.6 598.0,472.0 C596.4,477.3 594.5,484.0 593.2,488.0 C591.9,492.0 590.5,494.6 590.0,495.9"/>
<path d="M620.4,440.0 C619.8,442.7 618.8,450.7 617.2,456.0 C615.6,461.3 612.4,467.2 610.8,472.0 C609.2,476.8 609.2,480.5 607.6,484.8 C606.0,489.0 602.0,493.8 601.2,497.5 C600.4,501.3 601.5,504.5 602.8,507.1 C604.1,509.8 607.3,510.9 609.2,513.5 C611.0,516.2 613.7,519.4 614.0,523.1 C614.2,526.8 611.3,533.8 610.8,535.9"/>
<path d="M590.0,507.1 C591.3,507.9 596.1,509.3 598.0,511.9 C599.9,514.6 600.9,519.1 601.2,523.1 C601.5,527.1 599.1,531.6 599.6,535.9 C600.1,540.2 603.6,546.6 604.4,548.7"/>
<path d="M669.9,560.0 C675.3,558.7 692.6,554.8 701.9,551.9 C711.2,548.9 717.9,544.4 725.9,542.3 C733.9,540.2 746.0,539.6 750.0,539.1"/>
<path d="M717.9,560.0 C720.5,558.7 728.5,553.8 733.9,551.9 C739.2,550.0 747.3,549.2 750.0,548.7"/>
<path d="M665.1,451.2 C664.0,452.6 660.2,456.6 658.6,459.7 C657.1,462.9 657.6,467.1 655.9,470.0 C654.3,472.9 651.3,474.8 648.7,477.0 C646.1,479.1 642.2,480.3 640.3,482.8 C638.3,485.4 637.4,489.0 637.1,492.3 C636.8,495.6 638.3,499.5 638.4,502.7 C638.5,506.0 637.3,509.3 637.8,511.9 C638.4,514.4 639.7,516.1 641.6,518.1 C643.4,520.0 646.7,521.6 649.2,523.5 C651.7,525.4 654.2,527.9 656.7,529.5 C659.2,531.0 661.9,531.9 664.4,532.6 C666.8,533.3 668.8,533.3 671.5,533.6 C674.2,533.8 677.5,533.5 680.7,534.0 C683.8,534.5 687.3,535.9 690.6,536.6 C694.0,537.4 698.3,538.0 700.8,538.4 C703.4,538.8 705.1,539.0 706.0,539.1"/>
<path d="M651.5,448.8 C650.5,450.3 647.3,454.9 645.4,457.7 C643.4,460.6 642.3,463.8 639.9,466.1 C637.4,468.3 633.1,468.8 630.6,471.2 C628.1,473.6 626.3,477.1 625.1,480.3 C623.9,483.6 624.4,487.4 623.5,490.7 C622.6,494.1 620.4,497.0 619.8,500.4 C619.3,503.8 619.8,507.4 620.3,510.9 C620.9,514.4 622.2,517.9 623.2,521.4 C624.2,524.8 625.1,528.4 626.4,531.7 C627.6,535.0 629.0,538.4 630.9,541.3 C632.7,544.2 634.9,547.0 637.4,549.4 C639.8,551.8 643.6,554.3 645.7,555.9 C647.8,557.6 649.2,558.6 649.9,559.2"/>
<path d="M611.6,440.0 C610.9,442.0 608.6,447.9 607.3,451.9 C606.1,455.9 605.3,460.1 604.1,464.1 C603.0,468.2 601.5,472.2 600.2,476.2 C598.9,480.2 597.6,484.2 596.3,488.2 C595.1,492.2 593.6,497.3 592.7,500.3 C591.8,503.3 591.1,505.3 590.8,506.3"/>
<path d="M633.2,444.0 C632.3,445.8 630.2,451.6 628.2,454.8 C626.1,458.1 623.0,460.4 620.9,463.7 C618.9,466.9 617.0,470.7 615.7,474.5 C614.5,478.3 614.4,482.5 613.5,486.4 C612.7,490.3 611.1,494.2 610.7,498.1 C610.2,502.0 610.0,506.0 610.7,509.8 C611.3,513.6 613.1,517.3 614.5,521.0 C616.0,524.7 618.1,528.3 619.5,532.0 C620.9,535.6 622.0,540.1 622.9,542.8 C623.7,545.4 624.1,547.1 624.4,548.0"/>
</g>
<g mask="url(#cx5)">
<path d="M582.4,568.4 C581.4,570.5 577.5,577.7 576.8,581.0 C576.1,584.2 578.9,584.9 578.2,588.0 C577.5,591.0 574.0,594.5 572.6,599.2 C571.2,603.8 570.5,610.8 569.8,615.9 C569.1,621.1 569.3,626.2 568.4,629.9 C567.5,633.7 565.6,635.5 564.2,638.3 C562.8,641.1 560.7,645.3 560.0,646.7"/>
<path d="M593.6,560.0 C593.3,562.3 593.1,569.3 592.2,574.0 C591.2,578.6 589.1,583.3 588.0,588.0 C586.8,592.6 586.1,597.3 585.2,602.0 C584.2,606.6 582.4,611.3 582.4,615.9 C582.4,620.6 586.6,625.3 585.2,629.9 C583.8,634.6 577.0,639.3 574.0,643.9 C571.0,648.6 569.3,653.7 567.0,657.9 C564.7,662.1 561.2,667.2 560.0,669.1"/>
<path d="M602.0,565.6 C601.7,568.2 601.3,576.1 600.6,581.0 C599.9,585.9 598.9,590.3 597.8,595.0 C596.6,599.6 594.0,604.3 593.6,609.0 C593.1,613.6 594.5,619.0 595.0,622.9 C595.4,626.9 597.5,629.2 596.4,632.7 C595.2,636.2 591.2,639.7 588.0,643.9 C584.7,648.1 580.0,653.2 576.8,657.9 C573.5,662.6 569.8,669.6 568.4,671.9"/>
<path d="M609.0,568.4 C608.7,570.5 608.0,576.6 607.6,581.0 C607.1,585.4 607.1,591.0 606.2,595.0 C605.2,598.9 602.9,600.8 602.0,604.8 C601.0,608.7 599.9,614.1 600.6,618.7 C601.3,623.4 605.9,628.1 606.2,632.7 C606.4,637.4 605.0,642.5 602.0,646.7 C598.9,650.9 591.9,652.4 588.0,657.9 C584.0,663.4 579.8,676.3 578.2,680.0"/>
<path d="M615.9,576.8 C615.5,579.8 614.3,590.1 613.1,595.0 C612.0,599.9 609.9,602.0 609.0,606.2 C608.0,610.3 606.9,615.7 607.6,620.1 C608.3,624.6 612.7,628.3 613.1,632.7 C613.6,637.2 612.7,642.5 610.3,646.7 C608.0,650.9 602.9,652.4 599.2,657.9 C595.4,663.4 589.8,676.3 588.0,680.0"/>
<path d="M618.7,590.8 C618.0,593.6 615.0,602.7 614.5,607.6 C614.1,612.4 615.2,615.9 615.9,620.1 C616.6,624.3 618.3,628.3 618.7,632.7 C619.2,637.2 620.1,642.5 618.7,646.7 C617.3,650.9 613.8,652.4 610.3,657.9 C606.9,663.4 599.9,676.3 597.8,680.0"/>
<path d="M620.1,606.2 C619.9,608.3 618.0,614.3 618.7,618.7 C619.4,623.2 623.2,628.5 624.3,632.7 C625.5,636.9 626.7,639.7 625.7,643.9 C624.8,648.1 622.0,651.9 618.7,657.9 C615.5,663.9 608.3,676.3 606.2,680.0"/>
<path d="M618.7,596.4 C619.9,598.5 623.9,605.2 625.7,609.0 C627.6,612.7 629.5,614.8 629.9,618.7 C630.4,622.7 628.1,628.1 628.5,632.7 C629.0,637.4 633.0,642.5 632.7,646.7 C632.5,650.9 629.9,652.4 627.1,657.9 C624.3,663.4 617.8,676.3 615.9,680.0"/>
<path d="M618.7,588.0 C620.6,590.3 626.7,597.3 629.9,602.0 C633.2,606.6 635.5,613.1 638.3,615.9 C641.1,618.7 643.4,617.8 646.7,618.7 C650.0,619.7 653.7,620.1 657.9,621.5 C662.1,622.9 667.2,624.3 671.9,627.1 C676.6,629.9 681.2,635.5 685.9,638.3 C690.6,641.1 697.6,643.0 700.0,643.9"/>
<path d="M618.7,582.4 C621.1,584.2 628.5,589.8 632.7,593.6 C636.9,597.3 639.7,601.5 643.9,604.8 C648.1,608.0 653.2,610.8 657.9,613.1 C662.6,615.5 667.2,616.6 671.9,618.7 C676.6,620.8 681.2,623.4 685.9,625.7 C690.6,628.1 697.6,631.6 700.0,632.7"/>
<path d="M622.9,574.0 C625.3,575.9 632.3,581.4 636.9,585.2 C641.6,588.9 646.2,593.6 650.9,596.4 C655.6,599.2 660.2,600.1 664.9,602.0 C669.6,603.8 673.0,605.7 678.9,607.6 C684.7,609.4 696.5,612.2 700.0,613.1"/>
<path d="M624.3,565.6 C626.7,567.0 633.2,571.7 638.3,574.0 C643.4,576.3 650.0,577.9 655.1,579.6 C660.2,581.2 664.0,582.4 669.1,583.8 C674.2,585.2 680.7,586.6 685.9,588.0 C691.0,589.4 697.6,591.5 700.0,592.2"/>
<path d="M629.9,560.0 C632.3,560.9 639.3,563.7 643.9,565.6 C648.6,567.5 653.2,569.6 657.9,571.2 C662.6,572.8 667.2,574.2 671.9,575.4 C676.6,576.6 681.2,577.2 685.9,578.2 C690.6,579.1 697.6,580.5 700.0,581.0"/>
<path d="M631.3,621.5 C632.5,623.4 636.2,629.0 638.3,632.7 C640.4,636.5 643.4,640.2 643.9,643.9 C644.4,647.6 642.5,651.8 641.1,655.1 C639.7,658.4 636.5,662.1 635.5,663.5"/>
<path d="M629.9,624.3 C630.6,626.7 632.7,634.1 634.1,638.3 C635.5,642.5 638.1,645.8 638.3,649.5 C638.6,653.2 637.4,657.4 635.5,660.7 C633.7,664.0 628.5,667.7 627.1,669.1"/>
<path d="M643.9,643.9 C646.2,644.8 653.2,647.6 657.9,649.5 C662.6,651.4 667.2,653.7 671.9,655.1 C676.6,656.5 681.2,657.0 685.9,657.9 C690.6,658.8 697.6,660.2 700.0,660.7"/>
<path d="M632.7,618.7 C634.6,620.1 639.7,624.3 643.9,627.1 C648.1,629.9 653.2,632.7 657.9,635.5 C662.6,638.3 667.2,642.3 671.9,643.9 C676.6,645.5 681.2,644.8 685.9,645.3 C690.6,645.8 697.6,646.5 700.0,646.7"/>
<path d="M641.1,657.9 C643.9,658.8 651.6,662.1 657.9,663.5 C664.2,664.9 671.9,664.9 678.9,666.3 C685.9,667.7 696.5,671.0 700.0,671.9"/>
<path d="M669.1,560.0 C670.7,560.9 674.9,564.9 678.9,565.6 C682.8,566.3 689.3,564.7 692.9,564.2 C696.4,563.7 698.8,563.0 700.0,562.8"/>
<path d="M669.1,588.0 C671.0,589.4 676.3,594.3 680.3,596.4 C684.2,598.5 689.6,599.6 692.9,600.6 C696.2,601.5 698.8,601.7 700.0,602.0"/>
<path d="M669.1,599.2 C671.4,600.6 677.9,605.7 683.1,607.6 C688.2,609.4 697.2,609.9 700.0,610.3"/>
<path d="M613.1,649.5 C611.3,650.9 605.7,655.1 602.0,657.9 C598.2,660.7 594.3,662.6 590.8,666.3 C587.3,670.0 582.6,677.7 581.0,680.0"/>
<path d="M621.5,652.3 C619.7,653.7 614.1,657.4 610.3,660.7 C606.6,664.0 602.2,668.7 599.2,671.9 C596.1,675.1 593.3,678.6 592.2,680.0"/>
<path d="M588.0,564.2 C587.5,566.1 586.1,571.8 585.3,575.6 C584.5,579.4 584.0,583.2 583.1,586.9 C582.2,590.7 580.9,594.4 579.9,598.2 C578.9,601.9 577.6,605.8 577.2,609.6 C576.7,613.5 578.1,617.6 577.4,621.3 C576.8,625.0 574.8,628.3 573.3,631.8 C571.8,635.3 570.2,638.8 568.5,642.3 C566.8,645.8 564.4,650.2 562.9,652.8 C561.5,655.4 560.5,657.0 560.0,657.9"/>
<path d="M597.8,562.8 C597.5,565.1 597.2,572.0 596.5,576.5 C595.7,581.1 594.3,585.5 593.2,589.9 C592.1,594.4 590.7,598.8 589.9,603.3 C589.2,607.8 588.6,612.4 588.6,616.9 C588.7,621.4 591.5,626.4 590.5,630.5 C589.5,634.6 585.4,637.9 582.8,641.6 C580.2,645.3 577.4,649.0 574.9,652.8 C572.4,656.7 569.6,661.7 567.8,664.6 C566.0,667.5 564.8,669.5 564.2,670.5"/>
<path d="M605.5,567.0 C605.2,569.3 604.7,576.4 604.0,581.0 C603.4,585.7 602.8,590.3 601.7,594.9 C600.7,599.4 598.4,603.8 597.9,608.4 C597.4,612.9 598.4,617.5 598.8,622.1 C599.2,626.7 601.3,631.5 600.3,635.7 C599.3,639.9 595.5,643.5 592.7,647.1 C589.8,650.7 585.9,653.6 583.2,657.4 C580.5,661.1 578.2,666.6 576.5,669.7 C574.9,672.8 573.8,674.9 573.3,675.9"/>
<path d="M612.4,572.6 C612.1,574.9 611.4,581.8 610.6,586.4 C609.9,590.9 608.8,595.4 607.8,599.8 C606.8,604.3 604.8,608.8 604.7,613.2 C604.6,617.7 606.5,622.1 607.1,626.5 C607.6,630.9 608.9,635.6 608.0,639.7 C607.0,643.8 603.9,647.6 601.3,651.1 C598.6,654.7 594.5,657.4 592.0,661.2 C589.4,664.9 587.5,670.6 586.0,673.7 C584.6,676.9 583.6,679.0 583.1,680.0"/>
<path d="M618.7,585.2 C620.3,586.7 625.1,591.3 628.0,594.5 C631.0,597.8 633.5,601.6 636.5,604.6 C639.6,607.6 642.8,610.5 646.5,612.7 C650.2,614.9 654.6,616.0 658.7,617.6 C662.7,619.3 667.1,620.6 671.0,622.6 C674.9,624.6 678.4,627.4 682.2,629.6 C686.0,631.7 691.0,634.2 693.9,635.6 C696.9,637.1 699.0,637.9 700.0,638.3"/>
<path d="M620.8,578.2 C622.7,579.7 628.3,584.0 631.9,587.0 C635.5,590.1 638.8,593.5 642.5,596.4 C646.3,599.2 650.1,602.0 654.2,604.2 C658.3,606.5 662.9,608.0 667.2,609.9 C671.5,611.7 675.9,613.6 680.2,615.4 C684.6,617.2 690.1,619.2 693.4,620.4 C696.7,621.7 698.9,622.5 700.0,622.9"/>
<path d="M623.6,569.8 C625.7,571.2 631.9,575.8 636.2,578.5 C640.4,581.3 644.7,583.8 649.3,586.0 C653.8,588.2 658.6,589.9 663.4,591.6 C668.2,593.4 673.0,595.0 677.9,596.5 C682.8,598.0 688.9,599.6 692.6,600.6 C696.3,601.6 698.8,602.3 700.0,602.7"/>
<path d="M627.1,562.8 C629.2,563.8 635.4,567.2 639.6,569.0 C643.9,570.9 648.3,572.5 652.7,574.0 C657.1,575.5 661.5,577.0 666.0,578.2 C670.5,579.5 675.1,580.5 679.6,581.6 C684.1,582.8 689.8,584.1 693.2,584.9 C696.6,585.7 698.9,586.3 700.0,586.6"/>
<path d="M642.5,650.9 C644.6,651.7 650.8,654.1 655.0,655.5 C659.2,656.8 663.4,658.1 667.6,659.2 C671.9,660.2 676.3,660.9 680.6,661.8 C684.9,662.7 690.3,664.0 693.5,664.8 C696.8,665.5 698.9,666.0 700.0,666.3"/>
</g>
<g>
<path d="M541.9,650.0 C540.7,652.0 536.9,658.0 534.7,662.0 C532.5,666.0 529.6,670.0 528.8,674.0 C528.0,678.0 530.6,682.0 530.0,686.0 C529.4,690.0 527.4,694.4 525.2,698.0 C523.0,701.6 519.2,704.8 516.8,707.6 C514.4,710.4 512.0,712.7 510.8,714.7 C509.6,716.7 511.0,717.7 509.6,719.5 C508.2,721.3 504.6,723.9 502.4,725.5 C500.2,727.1 497.8,727.3 496.4,729.1 C495.0,730.9 496.0,733.9 494.0,736.3 C492.0,738.7 486.6,741.2 484.4,743.5 C482.2,745.8 481.4,748.9 480.8,750.0"/>
<path d="M556.3,650.0 C555.5,652.0 552.1,658.6 551.5,662.0 C550.9,665.4 553.5,668.0 552.7,670.4 C551.9,672.8 548.9,674.2 546.7,676.4 C544.5,678.6 539.9,681.0 539.5,683.6 C539.1,686.2 544.7,690.0 544.3,692.0 C543.9,694.0 539.5,693.4 537.1,695.6 C534.7,697.8 532.2,701.6 530.0,705.2 C527.8,708.8 526.4,713.5 524.0,717.1 C521.6,720.7 518.0,723.9 515.6,726.7 C513.2,729.5 511.8,731.5 509.6,733.9 C507.4,736.3 504.6,738.4 502.4,741.1 C500.2,743.8 497.4,748.5 496.4,750.0"/>
<path d="M569.5,650.0 C568.7,651.6 566.1,655.2 564.7,659.6 C563.3,664.0 562.5,673.0 561.1,676.4 C559.7,679.8 556.7,678.4 556.3,680.0 C555.9,681.6 559.3,682.6 558.7,686.0 C558.1,689.4 555.3,697.8 552.7,700.4 C550.1,703.0 546.1,700.0 543.1,701.6 C540.1,703.2 536.9,706.6 534.7,710.0 C532.5,713.3 532.0,718.3 530.0,721.9 C528.0,725.5 525.2,728.3 522.8,731.5 C520.4,734.7 517.6,738.0 515.6,741.1 C513.6,744.2 511.6,748.5 510.8,750.0"/>
<path d="M585.1,650.0 C583.5,651.6 577.9,655.6 575.5,659.6 C573.1,663.6 571.9,670.4 570.7,674.0 C569.5,677.6 569.5,679.2 568.3,681.2 C567.1,683.2 564.7,683.2 563.5,686.0 C562.3,688.8 562.7,694.8 561.1,698.0 C559.5,701.2 556.7,702.8 553.9,705.2 C551.1,707.6 547.1,709.6 544.3,712.4 C541.5,715.1 539.5,718.3 537.1,721.9 C534.7,725.5 532.4,730.3 530.0,733.9 C527.6,737.5 524.6,740.8 522.8,743.5 C521.0,746.2 519.8,748.9 519.2,750.0"/>
<path d="M590.0,662.0 C588.0,663.6 580.9,667.6 577.9,671.6 C574.9,675.6 573.9,682.4 571.9,686.0 C569.9,689.6 567.9,690.2 565.9,693.2 C563.9,696.2 562.3,700.6 559.9,704.0 C557.5,707.4 553.9,711.0 551.5,713.5 C549.1,716.1 547.7,716.9 545.5,719.5 C543.3,722.1 540.5,725.5 538.3,729.1 C536.1,732.7 533.9,737.6 532.4,741.1 C530.8,744.6 529.4,748.5 528.8,750.0"/>
<path d="M590.0,674.0 C588.0,675.4 581.9,679.8 577.9,682.4 C573.9,685.0 568.1,686.4 565.9,689.6 C563.7,692.8 565.9,698.6 564.7,701.6 C563.5,704.6 561.3,705.0 558.7,707.6 C556.1,710.2 551.1,713.9 549.1,717.1 C547.1,720.3 547.9,723.5 546.7,726.7 C545.5,729.9 543.3,732.5 541.9,736.3 C540.5,740.2 538.9,747.7 538.3,750.0"/>
<path d="M590.0,688.4 C587.6,689.6 579.5,692.0 575.5,695.6 C571.5,699.2 569.1,706.8 565.9,710.0 C562.7,713.1 559.3,712.7 556.3,714.7 C553.3,716.7 548.3,718.7 547.9,721.9 C547.5,725.1 551.7,731.1 553.9,733.9 C556.1,736.7 559.1,738.7 561.1,738.7 C563.1,738.7 565.1,734.7 565.9,733.9"/>
<path d="M563.5,705.2 C561.9,706.4 556.7,709.6 553.9,712.4 C551.1,715.1 548.3,718.3 546.7,721.9 C545.1,725.5 545.1,729.3 544.3,733.9 C543.5,738.6 542.3,747.3 541.9,750.0"/>
<path d="M563.5,714.7 C561.5,715.1 553.9,715.5 551.5,717.1 C549.1,718.7 548.3,721.9 549.1,724.3 C549.9,726.7 553.5,729.1 556.3,731.5 C559.1,733.9 562.3,738.3 565.9,738.7 C569.5,739.1 573.9,735.5 577.9,733.9 C581.9,732.3 588.0,729.9 590.0,729.1"/>
<path d="M590.0,717.1 C587.4,718.7 578.5,725.9 574.3,726.7 C570.1,727.5 566.3,722.7 564.7,721.9"/>
<path d="M546.7,750.0 C546.3,748.5 543.9,743.8 544.3,741.1 C544.7,738.4 548.3,735.1 549.1,733.9"/>
<path d="M590.0,733.9 C587.0,735.1 576.9,738.4 571.9,741.1 C566.9,743.8 561.9,748.5 559.9,750.0"/>
<path d="M564.7,686.0 C565.9,685.6 568.7,683.6 571.9,683.6 C575.1,683.6 580.9,686.4 583.9,686.0 C586.9,685.6 589.0,682.0 590.0,681.2"/>
<path d="M565.9,700.4 C567.5,700.4 572.5,701.6 575.5,700.4 C578.5,699.2 581.5,695.0 583.9,693.2 C586.3,691.4 589.0,690.2 590.0,689.6"/>
<path d="M565.9,710.0 C566.9,711.2 569.9,715.1 571.9,717.1 C573.9,719.1 574.9,721.1 577.9,721.9 C580.9,722.7 588.0,721.9 590.0,721.9"/>
<path d="M549.1,650.0 C548.4,651.5 545.9,655.9 544.7,658.9 C543.6,661.9 543.6,665.2 542.4,668.1 C541.2,671.0 539.0,673.6 537.7,676.4 C536.4,679.1 535.3,682.0 534.8,684.8 C534.4,687.7 536.1,691.0 535.0,693.6 C533.9,696.2 530.3,697.9 528.2,700.4 C526.0,702.8 523.8,705.4 522.0,708.2 C520.2,710.9 519.3,714.2 517.4,716.9 C515.5,719.5 513.0,721.7 510.8,724.1 C508.6,726.5 506.1,728.6 504.0,731.0 C501.8,733.4 500.0,736.1 497.9,738.6 C495.7,741.0 492.7,743.9 491.2,745.8 C489.6,747.7 489.0,749.3 488.6,750.0"/>
<path d="M562.9,650.0 C562.2,651.5 559.7,656.0 558.8,659.1 C558.0,662.3 558.7,665.9 557.7,668.9 C556.7,671.9 554.4,674.5 553.0,677.1 C551.6,679.7 549.7,681.9 549.1,684.7 C548.5,687.4 550.5,691.0 549.4,693.5 C548.2,695.9 544.6,697.4 542.2,699.3 C539.8,701.3 537.0,702.8 534.9,705.2 C532.8,707.6 531.2,710.7 529.5,713.5 C527.8,716.3 526.4,719.3 524.6,722.1 C522.7,724.8 520.5,727.3 518.4,729.9 C516.3,732.5 514.0,735.0 512.0,737.6 C510.0,740.3 507.6,743.7 506.2,745.7 C504.8,747.8 504.0,749.3 503.6,750.0"/>
<path d="M577.3,650.0 C576.3,651.4 572.7,655.5 571.1,658.6 C569.5,661.7 569.0,665.4 567.7,668.6 C566.5,671.9 564.7,675.0 563.6,678.1 C562.4,681.2 561.7,684.0 560.7,687.2 C559.7,690.4 559.4,694.8 557.5,697.4 C555.6,700.0 552.1,700.8 549.4,702.8 C546.7,704.9 543.6,707.1 541.2,709.7 C538.9,712.4 537.4,715.6 535.5,718.6 C533.5,721.5 531.7,724.6 529.7,727.6 C527.8,730.6 525.6,733.5 523.6,736.4 C521.6,739.4 519.0,743.0 517.5,745.3 C516.1,747.5 515.4,749.2 515.0,750.0"/>
<path d="M587.6,656.0 C586.3,657.1 582.2,660.2 580.1,662.7 C577.9,665.2 576.3,668.0 574.8,670.9 C573.3,673.8 572.8,677.4 571.3,680.3 C569.8,683.3 567.2,685.6 565.7,688.5 C564.1,691.4 563.6,694.8 562.0,697.7 C560.4,700.5 558.3,703.1 556.1,705.6 C553.9,708.1 551.1,710.1 548.7,712.4 C546.4,714.8 544.1,717.2 542.0,719.9 C539.9,722.5 538.0,725.3 536.2,728.1 C534.4,730.9 532.9,733.9 531.2,736.8 C529.5,739.7 527.3,743.3 526.1,745.5 C524.9,747.7 524.3,749.2 524.0,750.0"/>
</g>
<g>
<path d="M572.6,479.9 C575.2,477.6 584.0,470.6 588.0,465.9 C591.9,461.3 594.0,456.6 596.4,452.0 C598.7,447.3 599.9,441.9 602.0,438.0 C604.1,434.0 605.7,430.5 609.0,428.2 C612.2,425.9 617.6,425.2 621.5,424.0 C625.5,422.8 628.5,421.4 632.7,421.2 C636.9,421.0 642.1,421.7 646.7,422.6 C651.4,423.5 657.0,425.4 660.7,426.8 C664.4,428.2 667.2,428.6 669.1,431.0 C671.0,433.3 671.9,437.3 671.9,440.8 C671.9,444.3 670.5,448.7 669.1,452.0 C667.7,455.2 664.4,457.6 663.5,460.3 C662.6,463.1 664.0,465.5 663.5,468.7 C663.0,472.0 661.2,478.1 660.7,479.9"/>
<path d="M585.2,479.9 C586.6,477.6 591.2,470.1 593.6,465.9 C595.9,461.7 597.5,458.7 599.2,454.8 C600.8,450.8 601.5,445.4 603.4,442.2 C605.2,438.9 607.8,437.0 610.3,435.2 C612.9,433.3 615.9,432.1 618.7,431.0 C621.5,429.8 624.3,428.4 627.1,428.2 C629.9,427.9 632.7,428.6 635.5,429.6 C638.3,430.5 640.7,433.1 643.9,433.8 C647.2,434.5 651.8,433.3 655.1,433.8 C658.4,434.2 661.6,435.2 663.5,436.6 C665.4,438.0 666.8,440.3 666.3,442.2 C665.8,444.0 663.0,445.7 660.7,447.8 C658.4,449.9 653.7,451.7 652.3,454.8 C650.9,457.8 653.2,462.7 652.3,465.9 C651.4,469.2 648.1,472.0 646.7,474.3 C645.3,476.7 644.4,479.0 643.9,479.9"/>
<path d="M596.4,479.9 C597.3,478.1 600.3,472.5 602.0,468.7 C603.6,465.0 605.0,461.5 606.2,457.6 C607.3,453.6 607.3,448.2 609.0,445.0 C610.6,441.7 613.4,439.6 615.9,438.0 C618.5,436.3 621.5,435.6 624.3,435.2 C627.1,434.7 629.9,434.7 632.7,435.2 C635.5,435.6 638.3,437.5 641.1,438.0 C643.9,438.4 646.7,437.3 649.5,438.0 C652.3,438.7 657.7,440.5 657.9,442.2 C658.1,443.8 653.2,446.1 650.9,447.8 C648.6,449.4 645.5,449.9 643.9,452.0 C642.3,454.1 642.5,457.6 641.1,460.3 C639.7,463.1 637.4,465.5 635.5,468.7 C633.7,472.0 630.9,478.1 629.9,479.9"/>
<path d="M607.6,479.9 C607.8,478.3 608.0,473.6 609.0,470.1 C609.9,466.6 612.0,462.4 613.1,459.0 C614.3,455.5 614.5,452.0 615.9,449.2 C617.3,446.4 619.2,443.8 621.5,442.2 C623.9,440.5 627.1,439.6 629.9,439.4 C632.7,439.1 636.0,439.8 638.3,440.8 C640.7,441.7 643.9,443.1 643.9,445.0 C643.9,446.8 640.7,450.3 638.3,452.0 C636.0,453.6 632.3,453.1 629.9,454.8 C627.6,456.4 625.7,459.2 624.3,461.7 C622.9,464.3 622.5,467.1 621.5,470.1 C620.6,473.2 619.2,478.3 618.7,479.9"/>
</g>
<g mask="url(#cx8)">
<path d="M652.4,465.0 C652.2,465.6 652.7,467.6 651.2,468.6 C649.6,469.6 645.6,470.4 642.8,471.0 C640.0,471.6 636.4,471.2 634.4,472.2 C632.4,473.2 631.2,475.2 630.8,477.0 C630.4,478.8 632.8,481.4 632.0,483.0 C631.2,484.6 627.2,484.4 626.0,486.6 C624.8,488.8 625.8,493.8 624.8,496.2 C623.8,498.6 620.6,498.6 620.0,501.0 C619.4,503.4 620.2,507.4 621.2,510.6 C622.2,513.8 625.0,517.0 626.0,520.2 C627.0,523.4 627.2,526.6 627.2,529.7 C627.2,532.9 624.6,536.5 626.0,539.3 C627.4,542.1 631.6,544.5 635.6,546.5 C639.6,548.5 645.6,549.7 650.0,551.3 C654.3,552.9 659.1,554.7 661.9,556.1 C664.7,557.6 665.9,559.3 666.7,560.0"/>
<path d="M665.5,465.0 C665.1,466.6 664.5,472.0 663.1,474.6 C661.7,477.2 659.5,479.0 657.1,480.6 C654.7,482.2 650.8,482.8 648.8,484.2 C646.8,485.6 646.2,487.0 645.2,489.0 C644.2,491.0 642.6,493.4 642.8,496.2 C643.0,499.0 645.4,502.2 646.4,505.8 C647.4,509.4 648.0,514.0 648.8,517.8 C649.6,521.6 649.4,527.0 651.2,528.5 C652.9,530.1 656.1,527.0 659.5,527.4 C662.9,527.7 667.1,529.7 671.5,530.9 C675.9,532.1 682.7,533.5 685.9,534.5 C689.1,535.5 688.3,537.1 690.7,536.9 C693.1,536.7 697.9,535.1 700.3,533.3 C702.7,531.5 703.5,527.7 705.1,526.2 C706.7,524.6 709.2,524.2 710.0,523.8"/>
<path d="M626.0,465.0 C625.2,466.0 622.2,468.4 621.2,471.0 C620.2,473.6 620.8,478.4 620.0,480.6 C619.2,482.8 617.0,483.6 616.4,484.2"/>
<path d="M590.0,486.6 C591.2,485.6 595.6,483.4 597.2,480.6 C598.8,477.8 599.4,472.4 599.6,469.8 C599.8,467.2 598.6,465.8 598.4,465.0"/>
<path d="M590.0,503.4 C591.6,502.2 597.4,497.8 599.6,496.2 C601.8,494.6 603.2,493.2 603.2,493.8 C603.2,494.4 600.6,497.4 599.6,499.8 C598.6,502.2 597.2,505.6 597.2,508.2 C597.2,510.8 598.6,512.6 599.6,515.4 C600.6,518.2 603.0,521.4 603.2,525.0 C603.4,528.5 601.8,532.9 600.8,536.9 C599.8,540.9 599.0,545.7 597.2,548.9 C595.4,552.1 591.2,554.9 590.0,556.1"/>
<path d="M606.8,483.0 C608.2,481.6 613.4,477.6 615.2,474.6 C617.0,471.6 617.2,466.6 617.6,465.0"/>
<path d="M590.0,510.6 C590.8,511.4 594.2,513.4 594.8,515.4 C595.4,517.4 594.4,520.2 593.6,522.6 C592.8,525.0 590.6,528.5 590.0,529.7"/>
<path d="M604.4,465.0 C604.0,467.0 603.6,473.4 602.0,477.0 C600.4,480.6 596.8,484.0 594.8,486.6 C592.8,489.2 590.8,491.6 590.0,492.6"/>
<path d="M617.6,484.2 C617.0,485.6 615.4,489.8 614.0,492.6 C612.6,495.4 610.4,498.6 609.2,501.0 C608.0,503.4 606.4,504.0 606.8,507.0 C607.2,510.0 610.4,514.8 611.6,519.0 C612.8,523.2 614.2,528.1 614.0,532.1 C613.8,536.1 611.4,538.3 610.4,542.9 C609.4,547.6 608.4,557.1 608.0,560.0"/>
<path d="M590.0,539.3 C590.8,540.5 594.8,543.7 594.8,546.5 C594.8,549.3 590.8,554.5 590.0,556.1"/>
<path d="M608.0,560.0 C609.6,558.9 615.2,553.8 617.6,553.7 C620.0,553.7 621.6,558.7 622.4,559.7"/>
<path d="M700.3,560.0 C701.5,558.9 705.9,555.0 707.5,553.7 C709.1,552.5 709.6,552.7 710.0,552.5"/>
</g>
<g>
<path d="M622.0,590.0 C623.3,590.5 627.3,591.8 630.0,593.0 C632.6,594.2 635.5,595.7 638.0,597.0 C640.5,598.3 642.6,599.7 645.0,601.0 C647.3,602.3 649.5,603.5 651.9,605.0 C654.4,606.5 657.3,608.5 659.9,610.0 C662.6,611.5 665.3,612.8 667.9,614.0 C670.6,615.1 672.9,616.1 675.9,617.0 C678.9,617.8 681.9,618.5 685.9,619.0 C689.9,619.5 697.7,619.8 700.0,620.0"/>
<path d="M618.0,593.0 C619.3,594.0 623.5,597.2 626.0,599.0 C628.5,600.8 630.3,602.8 633.0,604.0 C635.6,605.2 639.1,605.0 642.0,606.0 C644.8,607.0 647.3,608.6 650.0,610.0 C652.6,611.3 655.4,612.8 657.9,614.0 C660.4,615.1 662.6,616.0 664.9,617.0 C667.3,618.0 669.4,619.0 671.9,620.0 C674.4,621.0 676.9,622.1 679.9,623.0 C682.9,623.8 686.6,624.5 689.9,625.0 C693.3,625.5 698.3,625.8 700.0,626.0"/>
<path d="M618.0,599.0 C619.1,600.0 622.6,603.3 625.0,605.0 C627.3,606.7 630.1,607.6 632.0,609.0 C633.8,610.3 634.0,612.3 636.0,613.0 C638.0,613.6 641.3,612.5 644.0,613.0 C646.6,613.5 649.3,615.0 651.9,616.0 C654.6,617.0 657.1,618.0 659.9,619.0 C662.8,620.0 665.9,620.8 668.9,622.0 C671.9,623.1 674.8,624.8 677.9,626.0 C681.1,627.1 684.2,628.3 687.9,629.0 C691.6,629.6 698.0,629.8 700.0,630.0"/>
<path d="M617.0,605.0 C618.0,606.0 621.0,609.5 623.0,611.0 C625.0,612.5 627.0,613.0 629.0,614.0 C631.0,615.0 632.8,616.1 635.0,617.0 C637.1,617.8 639.5,618.5 642.0,619.0 C644.5,619.5 647.0,619.5 650.0,620.0 C652.9,620.5 656.6,621.0 659.9,622.0 C663.3,623.0 666.6,624.6 669.9,626.0 C673.3,627.3 676.6,629.0 679.9,630.0 C683.3,631.0 686.6,631.3 689.9,632.0 C693.3,632.6 698.3,633.6 700.0,634.0"/>
<path d="M617.0,610.0 C617.8,611.0 620.1,614.5 622.0,616.0 C623.8,617.5 626.0,618.3 628.0,619.0 C630.0,619.6 632.0,620.0 634.0,620.0 C636.0,620.0 637.6,619.0 640.0,619.0 C642.3,619.0 645.3,619.3 648.0,620.0 C650.6,620.6 652.9,622.0 655.9,623.0 C658.9,624.0 662.6,624.5 665.9,626.0 C669.3,627.5 672.6,630.3 675.9,632.0 C679.3,633.6 681.9,635.1 685.9,636.0 C689.9,636.8 697.7,636.8 700.0,637.0"/>
<path d="M618.0,616.0 C618.8,617.0 621.6,620.8 623.0,622.0 C624.3,623.1 624.5,623.3 626.0,623.0 C627.5,622.6 630.0,620.5 632.0,620.0 C634.0,619.5 635.6,619.6 638.0,620.0 C640.3,620.3 643.3,621.1 646.0,622.0 C648.6,622.8 651.3,624.0 653.9,625.0 C656.6,626.0 659.3,626.6 661.9,628.0 C664.6,629.3 667.3,631.3 669.9,633.0 C672.6,634.6 674.9,636.5 677.9,638.0 C680.9,639.5 684.2,641.1 687.9,641.9 C691.6,642.8 698.0,642.8 700.0,642.9"/>
<path d="M619.0,620.0 C619.3,621.6 620.3,626.6 621.0,630.0 C621.6,633.3 622.1,636.6 623.0,640.0 C623.8,643.3 624.8,646.6 626.0,649.9 C627.1,653.3 628.8,656.6 630.0,659.9 C631.1,663.3 632.5,668.3 633.0,670.0"/>
<path d="M624.0,620.0 C624.3,621.6 625.3,626.6 626.0,630.0 C626.6,633.3 627.0,637.0 628.0,640.0 C629.0,642.9 630.6,645.3 632.0,647.9 C633.3,650.6 634.6,653.3 636.0,655.9 C637.3,658.6 639.0,661.6 640.0,663.9 C641.0,666.3 641.6,669.0 642.0,670.0"/>
<path d="M629.0,622.0 C629.1,623.3 629.3,627.3 630.0,630.0 C630.6,632.6 632.0,635.3 633.0,638.0 C634.0,640.6 634.8,643.6 636.0,645.9 C637.1,648.3 638.6,649.6 640.0,651.9 C641.3,654.3 642.8,656.9 644.0,659.9 C645.1,662.9 646.5,668.3 647.0,670.0"/>
<path d="M633.0,620.0 C632.6,621.3 630.5,625.3 631.0,628.0 C631.5,630.6 634.6,633.6 636.0,636.0 C637.3,638.3 638.0,640.0 639.0,641.9 C640.0,643.9 640.8,645.8 642.0,647.9 C643.1,650.1 644.3,652.6 646.0,654.9 C647.6,657.3 649.6,659.8 651.9,661.9 C654.3,664.1 657.3,666.6 659.9,667.9 C662.6,669.3 666.6,669.7 667.9,670.0"/>
<path d="M638.0,621.0 C637.3,621.8 634.0,624.1 634.0,626.0 C634.0,627.8 636.6,630.0 638.0,632.0 C639.3,634.0 640.8,636.0 642.0,638.0 C643.1,640.0 643.6,641.9 645.0,643.9 C646.3,645.9 648.1,648.3 650.0,649.9 C651.8,651.6 653.3,652.6 655.9,653.9 C658.6,655.3 662.3,656.6 665.9,657.9 C669.6,659.3 673.9,660.6 677.9,661.9 C681.9,663.3 686.2,664.9 689.9,665.9 C693.6,666.9 698.3,667.6 700.0,667.9"/>
<path d="M645.0,623.0 C644.1,623.6 640.5,625.3 640.0,627.0 C639.5,628.6 640.8,630.8 642.0,633.0 C643.1,635.1 646.0,637.8 647.0,640.0 C648.0,642.1 646.8,644.3 648.0,645.9 C649.1,647.6 651.6,648.8 653.9,649.9 C656.3,651.1 658.9,651.9 661.9,652.9 C664.9,653.9 668.3,654.8 671.9,655.9 C675.6,657.1 679.2,658.9 683.9,659.9 C688.6,660.9 697.3,661.6 700.0,661.9"/>
<path d="M647.0,641.9 C647.8,642.6 649.8,645.1 651.9,645.9 C654.1,646.8 656.9,646.3 659.9,646.9 C662.9,647.6 666.6,648.8 669.9,649.9 C673.3,651.1 676.6,652.6 679.9,653.9 C683.3,655.3 686.6,656.9 689.9,657.9 C693.3,658.9 698.3,659.6 700.0,659.9"/>
<path d="M659.9,638.0 C661.6,638.3 666.6,639.3 669.9,640.0 C673.3,640.6 676.6,641.3 679.9,641.9 C683.3,642.6 686.6,643.4 689.9,643.9 C693.3,644.4 698.3,644.8 700.0,644.9"/>
<path d="M663.9,640.0 C665.9,640.6 671.9,642.8 675.9,643.9 C679.9,645.1 683.9,646.4 687.9,646.9 C691.9,647.5 698.0,647.4 700.0,647.4"/>
<path d="M616.0,590.0 C615.8,591.7 615.5,596.7 615.0,600.0 C614.5,603.3 613.2,606.7 613.0,610.0 C612.8,613.3 614.0,616.6 614.0,620.0 C614.0,623.3 613.7,626.6 613.0,630.0 C612.3,633.3 611.2,636.6 610.0,640.0 C608.8,643.3 607.3,646.6 606.0,649.9 C604.7,653.3 603.0,657.3 602.0,659.9 C601.0,662.6 600.3,664.9 600.0,665.9"/>
<path d="M610.0,590.0 C609.8,591.7 609.3,596.7 609.0,600.0 C608.7,603.3 607.8,606.7 608.0,610.0 C608.2,613.3 609.8,616.6 610.0,620.0 C610.2,623.3 609.7,626.6 609.0,630.0 C608.3,633.3 607.2,637.0 606.0,640.0 C604.8,642.9 603.0,645.9 602.0,647.9 C601.0,649.9 600.3,651.3 600.0,651.9"/>
<path d="M606.0,590.0 C605.7,591.7 604.7,596.7 604.0,600.0 C603.3,603.3 602.0,606.7 602.0,610.0 C602.0,613.3 603.8,616.6 604.0,620.0 C604.2,623.3 603.7,627.3 603.0,630.0 C602.3,632.6 600.5,635.0 600.0,636.0"/>
<path d="M620.0,625.0 C619.6,626.6 618.6,631.6 618.0,635.0 C617.3,638.3 617.0,641.6 616.0,644.9 C615.0,648.3 613.3,651.6 612.0,654.9 C610.7,658.3 609.0,662.4 608.0,664.9 C607.0,667.4 606.3,669.2 606.0,670.0"/>
<path d="M622.0,630.0 C621.8,631.6 621.3,636.6 621.0,640.0 C620.6,643.3 620.6,646.6 620.0,649.9 C619.3,653.3 618.0,656.6 617.0,659.9 C616.0,663.3 614.5,668.3 614.0,670.0"/>
<path d="M625.0,649.9 C624.6,651.6 623.5,656.6 623.0,659.9 C622.5,663.3 622.1,668.3 622.0,670.0"/>
<path d="M659.9,590.0 C660.6,591.0 662.3,594.5 663.9,596.0 C665.6,597.5 667.3,598.0 669.9,599.0 C672.6,600.0 676.6,600.8 679.9,602.0 C683.3,603.2 686.6,604.8 689.9,606.0 C693.3,607.1 698.3,608.5 700.0,609.0"/>
<path d="M671.9,590.0 C672.6,590.7 673.6,593.0 675.9,594.0 C678.3,595.0 681.9,595.3 685.9,596.0 C689.9,596.7 697.7,597.7 700.0,598.0"/>
</g>
<g mask="url(#cx10)">
<path d="M760.0,527.4 C762.1,526.4 767.3,522.7 772.5,521.2 C777.7,519.6 786.3,517.0 791.2,518.1 C796.0,519.1 796.4,524.8 801.6,527.4 C806.8,530.0 815.8,530.9 822.4,533.7 C829.0,536.4 837.3,540.9 841.1,544.1 C844.9,547.2 843.2,549.3 845.2,552.4 C847.3,555.5 851.8,558.6 853.6,562.8 C855.3,566.9 855.6,572.8 855.6,577.3 C855.6,581.8 853.6,584.9 853.6,589.8 C853.6,594.6 854.6,601.2 855.6,606.4 C856.7,611.6 859.8,616.5 859.8,621.0 C859.8,625.5 857.7,628.9 855.6,633.5 C853.6,638.0 850.4,643.2 847.3,648.0 C844.2,652.9 840.7,657.7 836.9,662.6 C833.1,667.4 828.3,672.5 824.4,677.1 C820.6,681.7 815.8,687.9 814.1,690.0"/>
<path d="M760.0,539.9 C763.5,539.5 774.6,537.1 780.8,537.8 C787.0,538.5 791.9,542.0 797.4,544.1 C803.0,546.1 808.9,547.9 814.1,550.3 C819.3,552.7 824.4,555.8 828.6,558.6 C832.8,561.4 836.9,563.8 839.0,566.9 C841.1,570.0 841.4,573.5 841.1,577.3 C840.7,581.1 837.3,585.6 836.9,589.8 C836.6,594.0 838.0,598.1 839.0,602.3 C840.0,606.4 842.5,609.9 843.2,614.7 C843.9,619.6 844.5,626.2 843.2,631.4 C841.8,636.6 838.0,641.1 834.8,645.9 C831.7,650.8 828.3,655.3 824.4,660.5 C820.6,665.7 815.8,672.2 812.0,677.1 C808.2,682.0 803.3,687.9 801.6,690.0"/>
<path d="M760.0,550.3 C763.1,550.3 772.8,549.3 778.7,550.3 C784.6,551.3 790.1,554.1 795.3,556.5 C800.5,559.0 805.7,562.4 809.9,564.8 C814.1,567.3 817.5,569.0 820.3,571.1 C823.1,573.2 825.1,574.5 826.5,577.3 C827.9,580.1 828.6,583.6 828.6,587.7 C828.6,591.9 826.2,597.8 826.5,602.3 C826.9,606.8 830.3,609.9 830.7,614.7 C831.0,619.6 830.3,626.2 828.6,631.4 C826.9,636.6 823.4,641.1 820.3,645.9 C817.2,650.8 813.7,655.3 809.9,660.5 C806.1,665.7 800.9,672.2 797.4,677.1 C794.0,682.0 790.5,687.9 789.1,690.0"/>
<path d="M760.0,560.7 C762.8,561.0 771.1,561.4 776.6,562.8 C782.2,564.2 788.4,566.9 793.3,569.0 C798.1,571.1 801.9,573.2 805.7,575.2 C809.5,577.3 813.7,579.1 816.1,581.5 C818.6,583.9 819.9,586.3 820.3,589.8 C820.6,593.3 818.9,598.1 818.2,602.3 C817.5,606.4 817.2,609.9 816.1,614.7 C815.1,619.6 814.1,626.2 812.0,631.4 C809.9,636.6 806.8,641.1 803.7,645.9 C800.5,650.8 796.7,655.3 793.3,660.5 C789.8,665.7 785.6,672.2 782.9,677.1 C780.1,682.0 777.7,687.9 776.6,690.0"/>
<path d="M760.0,573.2 C762.8,573.5 771.8,574.2 776.6,575.2 C781.5,576.3 784.9,577.7 789.1,579.4 C793.3,581.1 798.5,583.6 801.6,585.6 C804.7,587.7 806.8,589.1 807.8,591.9 C808.9,594.6 808.5,598.5 807.8,602.3 C807.1,606.1 805.0,610.6 803.7,614.7 C802.3,618.9 801.6,622.7 799.5,627.2 C797.4,631.7 794.3,636.9 791.2,641.8 C788.1,646.6 784.3,651.1 780.8,656.3 C777.3,661.5 773.2,667.3 770.4,673.0 C767.6,678.6 765.2,687.2 764.2,690.0"/>
<path d="M760.0,579.4 C762.1,579.7 768.3,580.1 772.5,581.5 C776.6,582.9 781.1,585.6 784.9,587.7 C788.8,589.8 793.3,591.5 795.3,594.0 C797.4,596.4 797.8,598.8 797.4,602.3 C797.1,605.7 795.3,610.6 793.3,614.7 C791.2,618.9 788.1,623.1 784.9,627.2 C781.8,631.4 778.0,635.5 774.6,639.7 C771.1,643.8 766.6,649.4 764.2,652.2 C761.7,654.9 760.7,655.6 760.0,656.3"/>
<path d="M760.0,585.6 C762.1,586.0 768.7,586.3 772.5,587.7 C776.3,589.1 780.1,591.9 782.9,594.0 C785.6,596.0 788.4,597.4 789.1,600.2 C789.8,603.0 788.4,607.1 787.0,610.6 C785.6,614.0 783.2,617.5 780.8,621.0 C778.4,624.4 775.9,628.3 772.5,631.4 C769.0,634.5 762.1,638.3 760.0,639.7"/>
<path d="M760.0,591.9 C761.7,592.2 767.3,592.6 770.4,594.0 C773.5,595.3 777.0,597.8 778.7,600.2 C780.4,602.6 781.5,605.7 780.8,608.5 C780.1,611.3 777.3,614.0 774.6,616.8 C771.8,619.6 766.6,623.4 764.2,625.1 C761.7,626.9 760.7,626.9 760.0,627.2"/>
<path d="M760.0,598.1 C761.4,598.8 766.2,600.2 768.3,602.3 C770.4,604.3 773.2,608.2 772.5,610.6 C771.8,613.0 766.2,615.4 764.2,616.8 C762.1,618.2 760.7,618.6 760.0,618.9"/>
</g>
<g mask="url(#cx11)">
<path d="M540.8,564.8 C543.2,566.0 552.2,569.8 555.2,572.0 C558.2,574.2 558.4,575.6 558.8,578.0 C559.2,580.4 557.0,583.4 557.6,586.4 C558.2,589.4 561.8,592.8 562.4,596.0 C562.9,599.2 562.4,602.6 561.2,605.6 C560.0,608.6 557.0,611.2 555.2,614.0 C553.4,616.8 551.6,619.4 550.4,622.4 C549.2,625.3 548.8,628.3 548.0,631.9 C547.2,635.5 547.0,639.3 545.6,643.9 C544.2,648.6 540.6,657.3 539.6,660.0"/>
<path d="M576.7,560.0 C577.5,561.6 581.7,566.0 581.5,569.6 C581.3,573.2 576.7,577.2 575.5,581.6 C574.3,586.0 574.9,592.0 574.3,596.0 C573.7,600.0 572.7,602.0 571.9,605.6 C571.1,609.2 570.3,613.6 569.5,617.6 C568.7,621.6 568.1,626.3 567.1,629.5 C566.1,632.7 565.3,633.9 563.5,636.7 C561.8,639.5 558.4,642.5 556.4,646.3 C554.4,650.2 552.4,657.7 551.6,660.0"/>
<path d="M591.1,560.0 C591.5,562.0 593.3,567.4 593.5,572.0 C593.7,576.6 593.3,584.6 592.3,587.6 C591.3,590.6 588.7,587.6 587.5,590.0 C586.3,592.4 585.9,598.0 585.1,602.0 C584.3,606.0 582.9,610.6 582.7,614.0 C582.5,617.4 583.5,619.4 583.9,622.4 C584.3,625.3 586.3,628.3 585.1,631.9 C583.9,635.5 579.7,639.3 576.7,643.9 C573.7,648.6 568.7,657.3 567.1,660.0"/>
<path d="M600.7,564.8 C600.5,566.4 599.5,570.6 599.5,574.4 C599.5,578.2 601.3,583.6 600.7,587.6 C600.1,591.6 597.1,594.6 595.9,598.4 C594.7,602.2 593.7,606.4 593.5,610.4 C593.3,614.4 593.9,618.8 594.7,622.4 C595.5,625.9 598.1,628.7 598.3,631.9 C598.5,635.1 597.5,638.3 595.9,641.5 C594.3,644.7 591.1,648.0 588.7,651.1 C586.3,654.2 582.7,658.5 581.5,660.0"/>
<path d="M607.9,567.2 C607.3,570.0 605.1,578.8 604.3,584.0 C603.5,589.2 603.5,594.0 603.1,598.4 C602.7,602.8 602.3,606.4 601.9,610.4 C601.5,614.4 600.1,618.4 600.7,622.4 C601.3,626.3 604.5,630.7 605.5,634.3 C606.5,637.9 607.5,640.7 606.7,643.9 C605.9,647.1 602.5,650.8 600.7,653.5 C598.9,656.2 596.7,658.9 595.9,660.0"/>
<path d="M615.1,572.0 C614.5,574.4 612.7,581.6 611.5,586.4 C610.3,591.2 608.1,596.0 607.9,600.8 C607.7,605.6 609.7,610.8 610.3,615.2 C610.9,619.6 610.7,623.1 611.5,627.1 C612.3,631.1 614.7,635.3 615.1,639.1 C615.5,642.9 615.1,646.5 613.9,649.9 C612.7,653.4 608.9,658.3 607.9,660.0"/>
<path d="M620.0,574.4 C619.6,577.2 618.7,586.0 617.5,591.2 C616.3,596.4 613.1,601.2 612.7,605.6 C612.3,610.0 613.9,614.0 615.1,617.6 C616.3,621.2 619.2,625.5 620.0,627.1"/>
<path d="M620.0,596.0 C619.2,598.0 615.1,604.0 615.1,608.0 C615.1,612.0 619.2,618.0 620.0,620.0"/>
</g>
<g mask="url(#cx12)">
<path d="M579.6,640.0 C578.0,642.0 572.6,648.0 570.0,652.0 C567.4,656.0 564.2,660.0 564.0,664.0 C563.8,668.0 568.8,672.4 568.8,676.0 C568.8,679.6 565.2,682.2 564.0,685.6 C562.8,689.0 563.2,692.8 561.6,696.4 C560.0,700.0 556.8,704.1 554.4,707.1 C552.0,710.1 549.6,711.9 547.2,714.3 C544.8,716.7 541.2,720.3 540.0,721.5"/>
<path d="M609.5,640.0 C607.5,641.6 601.2,646.6 597.6,649.6 C594.0,652.6 590.6,655.6 588.0,658.0 C585.4,660.4 583.6,661.4 582.0,664.0 C580.4,666.6 580.2,670.6 578.4,673.6 C576.6,676.6 573.2,678.8 571.2,682.0 C569.2,685.2 567.8,689.4 566.4,692.8 C565.0,696.2 564.8,699.2 562.8,702.4 C560.8,705.5 557.0,709.1 554.4,711.9 C551.8,714.7 549.6,716.7 547.2,719.1 C544.8,721.5 541.2,725.1 540.0,726.3"/>
<path d="M616.7,647.2 C614.3,648.8 605.9,654.0 602.4,656.8 C598.8,659.6 597.2,661.6 595.2,664.0 C593.2,666.4 592.0,668.6 590.4,671.2 C588.8,673.8 588.0,676.8 585.6,679.6 C583.2,682.4 578.6,685.0 576.0,688.0 C573.4,691.0 572.0,694.4 570.0,697.6 C568.0,700.8 566.6,703.9 564.0,707.1 C561.4,710.3 557.2,713.9 554.4,716.7 C551.6,719.5 549.6,721.5 547.2,723.9 C544.8,726.3 541.2,729.9 540.0,731.1"/>
<path d="M621.5,652.0 C619.1,653.2 610.7,656.8 607.1,659.2 C603.5,661.6 602.0,663.6 600.0,666.4 C598.0,669.2 597.2,672.8 595.2,676.0 C593.2,679.2 590.6,682.6 588.0,685.6 C585.4,688.6 582.0,691.2 579.6,694.0 C577.2,696.8 575.6,699.4 573.6,702.4 C571.6,705.3 570.2,708.7 567.6,711.9 C565.0,715.1 560.8,718.7 558.0,721.5 C555.2,724.3 552.8,725.7 550.8,728.7 C548.8,731.8 546.8,738.1 546.0,740.0"/>
<path d="M623.9,658.0 C621.5,659.0 613.1,661.4 609.5,664.0 C605.9,666.6 604.5,670.8 602.4,673.6 C600.2,676.4 598.4,678.0 596.4,680.8 C594.4,683.6 592.6,687.2 590.4,690.4 C588.2,693.6 585.6,697.0 583.2,700.0 C580.8,702.9 578.2,705.5 576.0,708.3 C573.8,711.1 572.0,714.1 570.0,716.7 C568.0,719.3 566.6,721.5 564.0,723.9 C561.4,726.3 556.4,728.4 554.4,731.1 C552.4,733.8 552.4,738.5 552.0,740.0"/>
<path d="M623.9,662.8 C621.9,664.0 614.7,667.8 611.9,670.0 C609.1,672.2 609.1,673.8 607.1,676.0 C605.1,678.2 602.4,680.8 600.0,683.2 C597.6,685.6 595.2,687.6 592.8,690.4 C590.4,693.2 588.4,697.6 585.6,700.0 C582.8,702.4 579.2,703.5 576.0,704.7 C572.8,705.9 568.4,705.5 566.4,707.1 C564.4,708.7 563.4,711.5 564.0,714.3 C564.6,717.1 568.0,720.7 570.0,723.9 C572.0,727.1 574.4,730.8 576.0,733.5 C577.6,736.2 579.0,738.9 579.6,740.0"/>
<path d="M616.7,662.8 C620.7,661.2 626.3,660.6 631.1,661.6 C635.9,662.6 642.1,666.4 645.5,668.8 C648.9,671.2 651.5,673.6 651.5,676.0 C651.5,678.4 648.1,681.6 645.5,683.2 C642.9,684.8 638.5,686.2 635.9,685.6 C633.3,685.0 632.9,681.2 629.9,679.6 C626.9,678.0 621.7,677.4 617.9,676.0 C614.1,674.6 607.3,673.4 607.1,671.2 C606.9,669.0 612.7,664.4 616.7,662.8Z"/>
<path d="M600.0,678.4 C601.2,679.4 604.1,682.4 607.1,684.4 C610.1,686.4 614.1,689.8 617.9,690.4 C621.7,691.0 626.3,688.0 629.9,688.0 C633.5,688.0 635.5,690.4 639.5,690.4 C643.5,690.4 650.5,688.8 653.9,688.0 C657.3,687.2 659.0,686.0 660.0,685.6"/>
<path d="M600.0,680.8 C602.4,682.8 610.3,690.4 614.3,692.8 C618.3,695.2 619.3,694.6 623.9,695.2 C628.5,695.8 636.9,696.6 641.9,696.4 C646.9,696.2 650.9,694.8 653.9,694.0 C656.9,693.2 659.0,692.0 660.0,691.6"/>
<path d="M617.9,714.3 C616.1,714.7 612.1,715.5 607.1,716.7 C602.2,717.9 592.8,720.3 588.0,721.5 C583.2,722.7 580.8,721.9 578.4,723.9 C576.0,725.9 574.0,730.8 573.6,733.5 C573.2,736.2 575.6,738.9 576.0,740.0"/>
<path d="M622.7,714.3 C620.9,715.9 615.7,721.9 611.9,723.9 C608.1,725.9 603.5,725.1 600.0,726.3 C596.4,727.5 592.4,728.8 590.4,731.1 C588.4,733.4 588.4,738.5 588.0,740.0"/>
<path d="M645.5,733.5 C647.1,732.3 652.7,727.3 655.1,726.3 C657.5,725.3 659.2,727.3 660.0,727.5"/>
<path d="M621.5,640.0 C621.9,642.0 623.1,648.4 623.9,652.0 C624.7,655.6 625.9,660.0 626.3,661.6"/>
<path d="M626.3,640.0 C627.1,642.0 629.5,648.4 631.1,652.0 C632.7,655.6 635.1,660.0 635.9,661.6"/>
<path d="M635.9,640.0 C636.5,642.0 638.3,648.8 639.5,652.0 C640.7,655.2 639.7,657.2 643.1,659.2 C646.5,661.2 657.2,663.2 660.0,664.0"/>
<path d="M645.5,640.0 C645.9,641.6 645.5,647.2 647.9,649.6 C650.3,652.0 658.0,653.6 660.0,654.4"/>
<path d="M564.0,685.6 C565.0,686.4 568.0,689.0 570.0,690.4 C572.0,691.8 573.0,693.6 576.0,694.0 C579.0,694.4 584.8,693.8 588.0,692.8 C591.2,691.8 594.0,688.8 595.2,688.0"/>
<path d="M564.0,692.8 C565.6,693.6 570.4,696.8 573.6,697.6 C576.8,698.4 580.4,698.0 583.2,697.6 C586.0,697.2 589.2,695.6 590.4,695.2"/>
<path d="M594.6,640.0 C593.4,641.2 589.8,644.6 587.5,647.0 C585.2,649.3 582.9,651.7 580.8,654.2 C578.6,656.7 576.0,659.2 574.7,662.0 C573.5,664.7 574.1,667.9 573.3,670.8 C572.6,673.7 571.6,676.5 570.3,679.4 C569.1,682.3 567.2,685.2 565.9,688.2 C564.6,691.3 564.1,694.7 562.7,697.6 C561.3,700.6 559.3,703.3 557.3,706.0 C555.3,708.6 552.9,710.9 550.6,713.3 C548.3,715.7 545.3,718.6 543.5,720.4 C541.8,722.2 540.6,723.3 540.0,723.9"/>
<path d="M613.1,643.6 C611.7,644.7 607.2,647.8 604.4,650.0 C601.5,652.2 598.6,654.4 596.0,656.9 C593.4,659.3 590.7,661.9 588.6,664.7 C586.4,667.6 585.2,671.0 583.1,674.0 C581.1,676.9 578.4,679.3 576.3,682.2 C574.2,685.0 572.1,688.0 570.3,691.1 C568.5,694.2 567.2,697.7 565.4,700.7 C563.5,703.8 561.3,706.6 559.0,709.4 C556.7,712.1 554.1,714.6 551.5,717.2 C549.0,719.8 545.8,723.0 543.8,724.9 C541.9,726.8 540.6,728.1 540.0,728.7"/>
<path d="M619.1,649.6 C617.5,650.5 612.6,653.1 609.5,655.2 C606.5,657.2 603.4,659.3 600.8,661.9 C598.3,664.5 596.4,667.8 594.4,670.8 C592.3,673.9 590.7,677.3 588.4,680.2 C586.1,683.1 583.2,685.4 580.7,688.2 C578.3,690.9 576.0,693.8 573.9,696.8 C571.7,699.8 570.1,703.2 567.9,706.2 C565.7,709.1 563.2,711.9 560.7,714.6 C558.2,717.3 555.3,719.7 552.9,722.5 C550.4,725.2 547.7,728.8 546.0,731.0 C544.4,733.2 543.5,734.8 543.0,735.6"/>
<path d="M622.7,655.0 C621.1,655.8 615.8,657.7 612.8,659.6 C609.7,661.4 606.8,663.6 604.3,666.2 C601.9,668.8 600.1,672.1 598.0,675.1 C595.9,678.1 594.0,681.2 591.8,684.1 C589.6,687.0 587.3,689.8 585.0,692.7 C582.7,695.5 580.3,698.3 578.1,701.2 C575.9,704.1 573.9,707.2 571.7,710.1 C569.5,713.0 567.2,715.9 564.8,718.6 C562.3,721.3 559.3,723.5 557.0,726.2 C554.6,728.9 552.1,732.5 550.8,734.8 C549.5,737.1 549.3,739.1 549.0,740.0"/>
</g>
<g mask="url(#cx13)">
<path d="M560.0,736.0 C561.2,736.4 564.8,739.2 567.2,738.4 C569.6,737.6 573.6,733.6 574.4,731.2 C575.2,728.8 571.8,726.2 572.0,724.0 C572.2,721.8 573.6,718.0 575.6,718.0 C577.6,718.0 579.6,723.6 584.0,724.0 C588.4,724.4 598.4,721.6 602.0,720.4 C605.6,719.2 603.6,717.4 605.6,716.8 C607.6,716.2 611.0,717.3 614.0,716.8 C617.0,716.3 623.3,713.2 623.5,713.8 C623.7,714.4 618.2,718.3 615.2,720.4 C612.2,722.5 608.4,724.2 605.6,726.4 C602.8,728.6 599.4,731.2 598.4,733.6 C597.4,736.0 597.6,738.8 599.6,740.8 C601.6,742.8 606.0,743.8 610.4,745.6 C614.8,747.4 621.4,749.6 625.9,751.6 C630.5,753.6 633.7,755.4 637.9,757.6 C642.1,759.8 646.9,762.7 651.1,764.7 C655.3,766.7 660.1,769.1 663.1,769.5 C666.1,769.9 667.5,768.7 669.1,767.1 C670.7,765.5 670.9,761.8 672.7,760.0 C674.5,758.2 678.8,757.0 680.0,756.4"/>
<path d="M560.0,755.2 C561.2,756.0 565.2,760.8 567.2,760.0 C569.2,759.2 570.4,753.8 572.0,750.4 C573.6,747.0 575.4,743.2 576.8,739.6 C578.2,736.0 578.0,731.4 580.4,728.8 C582.8,726.2 587.2,724.6 591.2,724.0 C595.2,723.4 603.6,724.0 604.4,725.2 C605.2,726.4 597.6,729.0 596.0,731.2 C594.4,733.4 593.6,736.2 594.8,738.4 C596.0,740.6 599.0,742.4 603.2,744.4 C607.4,746.4 615.2,748.2 620.0,750.4 C624.7,752.6 627.9,755.2 631.9,757.6 C635.9,760.0 639.5,761.8 643.9,764.7 C648.3,767.7 657.1,772.3 658.3,775.5 C659.5,778.7 652.9,781.3 651.1,783.9 C649.3,786.5 648.7,786.5 647.5,791.1 C646.3,795.7 644.5,808.1 643.9,811.5"/>
<path d="M564.8,762.4 C565.8,760.8 568.4,756.2 570.8,752.8 C573.2,749.4 577.4,745.4 579.2,742.0 C581.0,738.6 579.4,734.3 581.6,732.4 C583.8,730.5 590.8,729.6 592.4,730.6 C594.0,731.6 590.6,735.9 591.2,738.4 C591.8,740.9 592.8,743.6 596.0,745.6 C599.2,747.6 605.6,748.4 610.4,750.4 C615.2,752.4 620.2,754.8 624.7,757.6 C629.3,760.4 633.9,764.3 637.9,767.1 C641.9,769.9 646.9,771.5 648.7,774.3 C650.5,777.1 649.5,780.3 648.7,783.9 C647.9,787.5 645.1,791.3 643.9,795.9 C642.7,800.5 641.9,808.9 641.5,811.5"/>
<path d="M566.0,771.9 C567.2,770.3 571.0,765.5 573.2,762.4 C575.4,759.2 577.0,756.4 579.2,752.8 C581.4,749.2 584.4,742.8 586.4,740.8 C588.4,738.8 589.6,739.6 591.2,740.8 C592.8,742.0 593.2,745.8 596.0,748.0 C598.8,750.2 604.0,752.0 608.0,754.0 C612.0,756.0 615.6,757.8 620.0,760.0 C624.3,762.2 630.3,764.5 634.3,767.1 C638.3,769.7 642.3,771.5 643.9,775.5 C645.5,779.5 644.9,785.1 643.9,791.1 C642.9,797.1 638.9,808.1 637.9,811.5"/>
<path d="M567.2,781.5 C568.4,779.5 572.0,773.7 574.4,769.5 C576.8,765.3 579.2,759.6 581.6,756.4 C584.0,753.2 587.2,750.4 588.8,750.4 C590.4,750.4 588.4,754.6 591.2,756.4 C594.0,758.2 601.4,759.4 605.6,761.2 C609.8,762.9 612.4,765.3 616.4,767.1 C620.4,768.9 625.9,769.9 629.5,771.9 C633.1,773.9 636.3,775.9 637.9,779.1 C639.5,782.3 639.7,785.7 639.1,791.1 C638.5,796.5 635.1,808.1 634.3,811.5"/>
<path d="M567.2,791.1 C568.4,789.1 571.8,783.5 574.4,779.1 C577.0,774.7 580.6,767.5 582.8,764.7 C585.0,762.0 585.4,762.0 587.6,762.4 C589.8,762.7 592.6,765.5 596.0,767.1 C599.4,768.7 603.6,770.1 608.0,771.9 C612.4,773.7 618.4,776.1 622.4,777.9 C626.3,779.7 630.1,779.7 631.9,782.7 C633.7,785.7 633.1,791.1 633.1,795.9 C633.1,800.7 632.1,808.9 631.9,811.5"/>
<path d="M567.2,801.9 C569.0,799.7 575.0,793.3 578.0,788.7 C581.0,784.1 583.2,776.3 585.2,774.3 C587.2,772.3 587.6,775.7 590.0,776.7 C592.4,777.7 595.8,779.3 599.6,780.3 C603.4,781.3 608.6,781.5 612.8,782.7 C617.0,783.9 622.4,785.3 624.7,787.5 C627.1,789.7 627.1,791.9 627.1,795.9 C627.1,799.9 625.1,808.9 624.7,811.5"/>
<path d="M569.6,811.5 C571.4,809.3 577.2,802.3 580.4,798.3 C583.6,794.3 586.2,789.1 588.8,787.5 C591.4,785.9 592.8,787.9 596.0,788.7 C599.2,789.5 604.8,790.7 608.0,792.3 C611.2,793.9 614.4,795.1 615.2,798.3 C616.0,801.5 613.2,809.3 612.8,811.5"/>
<path d="M652.3,786.3 C653.3,784.7 656.1,783.1 658.3,783.9 C660.5,784.7 664.1,788.7 665.5,791.1 C666.9,793.5 667.7,796.1 666.7,798.3 C665.7,800.5 661.5,803.9 659.5,804.3 C657.5,804.7 655.9,802.5 654.7,800.7 C653.5,798.9 652.7,795.9 652.3,793.5 C651.9,791.1 651.3,787.9 652.3,786.3Z"/>
<path d="M646.3,732.4 C647.9,731.4 653.5,728.6 655.9,726.4 C658.3,724.2 658.7,720.6 660.7,719.2 C662.7,717.8 665.1,717.6 667.9,718.0 C670.7,718.4 675.5,720.6 677.5,721.6 C679.5,722.6 679.6,723.6 680.0,724.0"/>
<path d="M646.3,733.6 C647.5,734.4 650.5,736.6 653.5,738.4 C656.5,740.2 661.5,743.6 664.3,744.4 C667.1,745.2 668.9,744.6 670.3,743.2 C671.7,741.8 673.1,738.2 672.7,736.0 C672.3,733.8 667.7,731.4 667.9,730.0 C668.1,728.6 671.9,727.4 673.9,727.6 C675.9,727.8 679.0,730.6 680.0,731.2"/>
<path d="M665.5,700.0 C666.3,701.0 667.9,704.4 670.3,706.0 C672.7,707.6 678.4,709.0 680.0,709.6"/>
<path d="M672.7,700.0 L680.0,703.6"/>
<path d="M667.9,811.5 C669.1,808.9 673.1,800.1 675.1,795.9 C677.1,791.7 679.2,787.9 680.0,786.3"/>
<path d="M673.9,811.5 L680.0,801.9"/>
<path d="M648.7,809.1 C649.5,808.9 652.3,807.7 653.5,807.9 C654.7,808.1 655.5,809.9 655.9,810.3"/>
<path d="M560.0,707.2 C561.2,706.6 564.8,704.8 567.2,703.6 C569.6,702.4 573.2,700.6 574.4,700.0"/>
<path d="M560.0,715.6 C561.6,715.2 566.6,715.0 569.6,713.2 C572.6,711.4 575.6,707.0 578.0,704.8 C580.4,702.6 583.0,700.8 584.0,700.0"/>
<path d="M563.6,721.6 C565.4,721.6 571.0,721.2 574.4,721.6 C577.8,722.0 582.4,723.6 584.0,724.0"/>
<path d="M560.0,769.5 C560.6,770.7 562.8,773.9 563.6,776.7 C564.4,779.5 565.4,783.1 564.8,786.3 C564.2,789.5 560.8,794.3 560.0,795.9"/>
</g>
<g>
<path d="M495.0,730.0 C494.8,731.3 495.5,735.7 494.0,738.0 C492.5,740.3 488.3,742.3 486.0,744.0 C483.7,745.7 481.0,747.3 480.0,748.0"/>
<path d="M507.0,736.0 C505.8,737.2 502.8,740.3 500.0,743.0 C497.1,745.7 491.7,748.6 490.0,752.0 C488.3,755.3 491.7,760.3 490.0,763.0 C488.3,765.6 481.7,767.1 480.0,768.0"/>
<path d="M511.0,748.0 C509.1,750.0 502.1,756.6 500.0,760.0 C497.8,763.3 500.0,765.6 498.0,768.0 C496.0,770.3 491.0,772.1 488.0,774.0 C485.0,775.8 481.3,778.1 480.0,779.0"/>
<path d="M525.0,730.0 C523.8,731.3 520.0,735.3 518.0,738.0 C516.0,740.7 514.5,743.0 513.0,746.0 C511.5,749.0 510.8,752.3 509.0,756.0 C507.1,759.6 503.1,764.6 502.0,768.0 C500.8,771.3 504.0,774.0 502.0,776.0 C500.0,778.0 493.7,778.6 490.0,780.0 C486.3,781.3 481.7,783.3 480.0,783.9"/>
<path d="M533.9,730.0 C532.9,731.7 530.0,736.8 528.0,740.0 C526.0,743.2 524.0,745.7 522.0,749.0 C520.0,752.3 517.5,756.5 516.0,760.0 C514.5,763.5 514.0,766.6 513.0,770.0 C512.0,773.3 512.8,777.3 510.0,780.0 C507.1,782.6 500.0,784.3 496.0,785.9 C492.0,787.6 488.7,788.6 486.0,789.9 C483.3,791.3 481.0,793.3 480.0,793.9"/>
<path d="M543.9,730.0 C542.9,731.3 539.3,734.7 537.9,738.0 C536.6,741.3 538.3,747.0 535.9,750.0 C533.6,753.0 527.0,753.5 524.0,756.0 C521.0,758.5 519.3,761.8 518.0,765.0 C516.6,768.1 516.8,771.8 516.0,775.0 C515.1,778.1 515.0,781.4 513.0,783.9 C511.0,786.4 507.8,788.3 504.0,789.9 C500.1,791.6 494.0,792.3 490.0,793.9 C486.0,795.6 481.7,798.9 480.0,799.9"/>
<path d="M549.9,730.0 C548.6,731.0 543.6,732.7 541.9,736.0 C540.3,739.3 541.6,746.5 539.9,750.0 C538.3,753.5 534.8,754.6 531.9,757.0 C529.1,759.3 524.6,761.0 523.0,764.0 C521.3,767.0 522.8,771.3 522.0,775.0 C521.1,778.6 520.8,783.3 518.0,785.9 C515.1,788.6 509.3,789.6 505.0,790.9 C500.6,792.3 495.2,792.4 492.0,793.9 C488.8,795.4 488.0,798.1 486.0,799.9 C484.0,801.8 481.0,804.1 480.0,804.9"/>
<path d="M553.9,730.0 C552.4,731.7 546.6,736.3 544.9,740.0 C543.3,743.7 545.4,748.6 543.9,752.0 C542.4,755.3 538.9,757.6 535.9,760.0 C532.9,762.3 528.0,763.0 526.0,766.0 C524.0,769.0 524.6,774.3 524.0,778.0 C523.3,781.6 524.3,785.6 522.0,787.9 C519.6,790.3 513.6,791.3 510.0,791.9 C506.3,792.6 503.3,790.9 500.0,791.9 C496.7,792.9 493.3,796.1 490.0,797.9 C486.7,799.8 481.7,802.1 480.0,802.9"/>
<path d="M528.0,774.0 C528.6,771.8 531.8,770.5 533.9,771.0 C536.1,771.5 539.6,774.8 540.9,777.0 C542.3,779.1 542.8,782.3 541.9,783.9 C541.1,785.6 537.9,786.9 535.9,786.9 C533.9,786.9 531.3,786.1 530.0,783.9 C528.6,781.8 527.3,776.1 528.0,774.0Z"/>
<path d="M526.0,772.0 C527.3,770.0 530.0,767.6 532.9,768.0 C535.9,768.3 541.1,771.3 543.9,774.0 C546.8,776.6 548.4,780.9 549.9,783.9 C551.4,786.9 554.6,790.3 552.9,791.9 C551.3,793.6 544.3,794.6 539.9,793.9 C535.6,793.3 529.5,790.3 527.0,787.9 C524.5,785.6 525.1,782.6 525.0,780.0 C524.8,777.3 524.6,774.0 526.0,772.0Z"/>
<path d="M544.9,740.0 C547.3,740.8 556.4,743.0 558.9,745.0 C561.4,747.0 558.8,749.5 559.9,752.0 C561.1,754.5 565.4,757.3 565.9,760.0 C566.4,762.6 565.6,767.1 562.9,768.0 C560.3,768.8 552.8,767.0 549.9,765.0 C547.1,763.0 546.8,758.5 545.9,756.0 C545.1,753.5 545.1,751.0 544.9,750.0"/>
<path d="M564.9,736.0 C566.4,735.7 571.4,735.0 573.9,734.0 C576.4,733.0 579.0,730.7 580.0,730.0"/>
<path d="M555.9,733.0 C557.3,734.0 560.9,738.5 563.9,739.0 C566.9,739.5 572.2,736.5 573.9,736.0"/>
<path d="M580.0,740.0 C578.8,742.5 574.9,751.5 572.9,755.0 C570.9,758.5 569.1,757.6 567.9,761.0 C566.7,764.3 566.1,770.1 565.9,775.0 C565.7,779.8 567.1,785.8 566.9,789.9 C566.7,794.1 566.1,796.1 564.9,799.9 C563.7,803.8 560.8,810.8 559.9,812.9"/>
<path d="M580.0,750.0 C579.2,751.6 576.4,756.6 574.9,760.0 C573.4,763.3 572.1,766.3 570.9,770.0 C569.7,773.6 568.1,777.8 567.9,781.9 C567.7,786.1 569.9,791.1 569.9,794.9 C569.9,798.8 568.7,801.9 567.9,804.9 C567.1,807.9 565.4,811.6 564.9,812.9"/>
<path d="M580.0,760.0 C579.3,761.6 577.3,766.6 575.9,770.0 C574.6,773.3 572.4,775.8 571.9,780.0 C571.4,784.1 572.9,790.6 572.9,794.9 C572.9,799.3 572.4,802.9 571.9,805.9 C571.4,808.9 570.2,811.8 569.9,812.9"/>
<path d="M580.0,780.0 C579.3,781.6 576.3,786.3 575.9,789.9 C575.6,793.6 577.9,798.1 577.9,801.9 C577.9,805.8 576.2,811.1 575.9,812.9"/>
<path d="M556.9,776.0 C558.3,775.5 563.3,772.3 564.9,773.0 C566.6,773.6 566.6,778.8 566.9,780.0"/>
<path d="M529.0,806.9 C530.8,805.6 536.4,800.1 539.9,798.9 C543.4,797.8 546.6,798.8 549.9,799.9 C553.3,801.1 559.9,804.3 559.9,805.9 C559.9,807.6 553.3,809.6 549.9,809.9 C546.6,810.3 543.4,807.9 539.9,807.9 C536.4,807.9 530.8,809.6 529.0,809.9"/>
<path d="M488.0,805.9 C488.3,803.8 498.0,796.3 502.0,796.9 C506.0,797.6 512.3,807.8 512.0,809.9 C511.6,812.1 504.0,810.6 500.0,809.9 C496.0,809.3 487.7,808.1 488.0,805.9Z"/>
<path d="M480.0,811.9 C481.0,811.6 484.0,809.6 486.0,809.9 C488.0,810.3 491.0,813.3 492.0,813.9"/>
</g>
<g mask="url(#cx15)">
<path d="M853.0,600.0 C854.3,603.5 860.3,614.3 860.8,620.8 C861.2,627.3 858.6,633.8 855.6,639.0 C852.6,644.2 847.4,646.3 842.6,651.9 C837.8,657.6 832.2,666.7 827.0,672.7 C821.8,678.8 816.6,682.3 811.4,688.3 C806.2,694.4 799.3,703.0 795.8,709.1 C792.4,715.2 793.2,720.3 790.6,724.7 C788.1,729.0 779.4,732.5 780.3,735.1 C781.1,737.7 788.1,739.8 795.8,740.3 C803.6,740.7 820.1,736.4 827.0,737.7 C833.9,739.0 833.1,744.2 837.4,748.1 C841.7,751.9 848.7,755.4 853.0,761.0 C857.3,766.7 859.9,776.6 863.4,781.8 C866.8,787.0 870.7,788.3 873.8,792.2 C876.8,796.1 880.3,803.0 881.6,805.2"/>
<path d="M832.2,600.0 C832.2,603.5 833.9,614.3 832.2,620.8 C830.5,627.3 825.7,632.9 821.8,639.0 C817.9,645.0 813.6,650.6 808.8,657.1 C804.1,663.6 798.0,671.4 793.2,677.9 C788.5,684.4 784.2,689.6 780.3,696.1 C776.4,702.6 773.8,710.4 769.9,716.9 C766.0,723.4 761.2,729.4 756.9,735.1 C752.6,740.7 746.9,746.3 743.9,750.6 C740.9,755.0 737.8,757.6 738.7,761.0 C739.6,764.5 743.0,768.0 749.1,771.4 C755.2,774.9 767.3,781.8 775.1,781.8 C782.9,781.8 788.9,773.2 795.8,771.4 C802.8,769.7 811.4,769.7 816.6,771.4 C821.8,773.2 826.1,778.4 827.0,781.8 C827.9,785.3 827.0,789.6 821.8,792.2 C816.6,794.8 804.5,797.4 795.8,797.4 C787.2,797.4 776.8,792.2 769.9,792.2 C762.9,792.2 761.2,797.4 754.3,797.4 C747.4,797.4 732.2,790.5 728.3,792.2 C724.4,793.9 730.5,805.2 730.9,807.8"/>
<path d="M816.6,600.0 C815.8,603.5 814.0,613.9 811.4,620.8 C808.8,627.7 805.4,635.1 801.0,641.6 C796.7,648.1 790.2,653.7 785.5,659.7 C780.7,665.8 776.4,671.9 772.5,677.9 C768.6,684.0 766.0,690.0 762.1,696.1 C758.2,702.2 753.4,708.7 749.1,714.3 C744.8,719.9 740.4,724.7 736.1,729.9 C731.8,735.1 726.1,740.3 723.1,745.5 C720.1,750.6 719.7,755.0 717.9,761.0 C716.2,767.1 712.7,774.0 712.7,781.8 C712.7,789.6 717.1,803.5 717.9,807.8"/>
<path d="M801.0,600.0 C800.2,603.5 798.4,614.3 795.8,620.8 C793.2,627.3 789.8,632.9 785.5,639.0 C781.1,645.0 774.6,651.1 769.9,657.1 C765.1,663.2 761.2,669.7 756.9,675.3 C752.6,681.0 748.2,685.3 743.9,690.9 C739.6,696.5 735.2,703.5 730.9,709.1 C726.6,714.7 721.8,718.6 717.9,724.7 C714.0,730.7 710.1,738.1 707.5,745.5 C704.9,752.8 703.2,760.2 702.3,768.8 C701.5,777.5 701.9,790.9 702.3,797.4 C702.8,803.9 704.5,806.1 704.9,807.8"/>
<path d="M788.1,600.0 C786.8,603.5 783.3,614.7 780.3,620.8 C777.2,626.8 773.8,631.2 769.9,636.4 C766.0,641.6 761.2,645.9 756.9,651.9 C752.6,658.0 747.8,666.7 743.9,672.7 C740.0,678.8 737.0,683.1 733.5,688.3 C730.0,693.5 727.0,698.7 723.1,703.9 C719.2,709.1 714.0,713.4 710.1,719.5 C706.2,725.5 702.3,732.5 699.7,740.3 C697.1,748.1 695.8,756.7 694.5,766.2 C693.2,775.8 691.9,790.5 691.9,797.4 C691.9,804.3 694.1,806.1 694.5,807.8"/>
<path d="M775.1,600.0 C773.8,602.6 770.3,610.4 767.3,615.6 C764.2,620.8 760.8,625.5 756.9,631.2 C753.0,636.8 747.4,643.3 743.9,649.4 C740.4,655.4 738.7,661.5 736.1,667.5 C733.5,673.6 731.3,680.1 728.3,685.7 C725.3,691.3 721.8,696.1 717.9,701.3 C714.0,706.5 709.3,711.3 704.9,716.9 C700.6,722.5 695.0,727.7 691.9,735.1 C688.9,742.4 688.1,752.4 686.8,761.0 C685.5,769.7 685.0,779.2 684.2,787.0 C683.3,794.8 682.0,804.3 681.6,807.8"/>
<path d="M759.5,600.0 C758.2,602.6 754.3,610.0 751.7,615.6 C749.1,621.2 746.5,627.7 743.9,633.8 C741.3,639.8 738.3,645.5 736.1,651.9 C733.9,658.4 733.1,666.2 730.9,672.7 C728.7,679.2 726.1,685.3 723.1,690.9 C720.1,696.5 716.6,701.3 712.7,706.5 C708.8,711.7 704.5,716.5 699.7,722.1 C695.0,727.7 687.6,733.8 684.2,740.3 C680.7,746.8 680.3,753.2 679.0,761.0 C677.7,768.8 677.7,779.2 676.4,787.0 C675.1,794.8 672.0,804.3 671.2,807.8"/>
<path d="M749.1,600.0 C748.2,602.6 745.6,610.0 743.9,615.6 C742.2,621.2 740.9,627.3 738.7,633.8 C736.5,640.3 733.1,647.2 730.9,654.5 C728.7,661.9 727.9,671.4 725.7,677.9 C723.5,684.4 721.4,688.3 717.9,693.5 C714.5,698.7 709.7,703.9 704.9,709.1 C700.2,714.3 694.5,719.5 689.4,724.7 C684.2,729.9 677.2,735.1 673.8,740.3 C670.3,745.5 669.9,748.9 668.6,755.8 C667.3,762.8 667.3,773.2 666.0,781.8 C664.7,790.5 661.6,803.5 660.8,807.8"/>
<path d="M738.7,610.4 C737.8,613.9 735.2,624.2 733.5,631.2 C731.8,638.1 730.0,644.6 728.3,651.9 C726.6,659.3 725.3,668.8 723.1,675.3 C721.0,681.8 719.2,686.1 715.3,690.9 C711.4,695.7 704.9,699.6 699.7,703.9 C694.5,708.2 689.8,712.6 684.2,716.9 C678.5,721.2 670.7,726.0 666.0,729.9 C661.2,733.8 657.7,735.1 655.6,740.3 C653.4,745.5 653.9,753.2 653.0,761.0 C652.1,768.8 651.3,779.2 650.4,787.0 C649.5,794.8 648.2,804.3 647.8,807.8"/>
<path d="M640.0,683.1 C643.5,684.0 654.3,687.9 660.8,688.3 C667.3,688.7 671.6,685.7 679.0,685.7 C686.3,685.7 697.6,688.7 704.9,688.3 C712.3,687.9 718.8,684.8 723.1,683.1 C727.4,681.4 729.6,678.8 730.9,677.9"/>
<path d="M640.0,701.3 C643.0,700.9 653.0,700.0 658.2,698.7 C663.4,697.4 667.7,692.6 671.2,693.5 C674.6,694.4 675.5,700.9 679.0,703.9 C682.4,706.9 686.3,710.8 691.9,711.7 C697.6,712.6 707.1,711.3 712.7,709.1 C718.4,706.9 723.5,700.4 725.7,698.7"/>
<path d="M640.0,722.1 C642.6,721.6 650.0,719.5 655.6,719.5 C661.2,719.5 667.7,720.8 673.8,722.1 C679.8,723.4 686.3,727.3 691.9,727.3 C697.6,727.3 704.9,722.9 707.5,722.1"/>
<path d="M645.2,735.1 C646.1,732.5 655.2,730.3 660.8,729.9 C666.4,729.4 674.6,729.9 679.0,732.5 C683.3,735.1 688.1,742.4 686.8,745.5 C685.5,748.5 676.4,750.6 671.2,750.6 C666.0,750.6 659.9,748.1 655.6,745.5 C651.3,742.9 644.3,737.7 645.2,735.1Z"/>
<path d="M794.5,600.0 C793.5,603.3 791.2,613.4 788.4,619.6 C785.7,625.8 781.9,631.7 777.9,637.2 C774.0,642.8 768.8,647.5 764.7,653.0 C760.6,658.5 757.1,664.4 753.1,670.0 C749.2,675.6 745.0,681.0 741.1,686.6 C737.1,692.2 733.3,697.9 729.2,703.4 C725.1,708.9 720.1,713.7 716.3,719.4 C712.5,725.0 709.0,731.1 706.4,737.4 C703.8,743.6 702.1,750.3 700.7,757.0 C699.3,763.6 698.5,770.5 698.0,777.3 C697.4,784.1 697.0,792.7 697.2,797.8 C697.5,802.9 699.3,806.1 699.7,807.8"/>
<path d="M781.6,600.0 C780.2,603.1 776.5,612.6 773.3,618.5 C770.0,624.5 766.0,630.0 762.1,635.5 C758.2,641.1 753.5,646.1 749.9,651.8 C746.3,657.5 743.7,663.8 740.5,669.7 C737.3,675.7 734.2,681.7 730.6,687.4 C727.1,693.2 723.2,698.8 719.1,704.2 C715.1,709.6 710.1,714.4 706.3,720.0 C702.5,725.5 698.7,731.3 696.3,737.6 C693.9,743.8 693.1,750.7 691.9,757.4 C690.7,764.1 690.1,770.8 689.4,777.6 C688.6,784.3 687.7,792.8 687.4,797.8 C687.2,802.8 687.9,806.1 688.1,807.8"/>
<path d="M767.3,600.0 C765.8,603.0 761.3,612.0 758.2,618.0 C755.1,623.9 751.7,629.7 748.6,635.5 C745.4,641.4 741.8,647.1 739.2,653.2 C736.5,659.3 735.1,665.9 732.6,672.1 C730.2,678.3 727.6,684.6 724.3,690.4 C721.0,696.2 716.8,701.6 712.8,706.9 C708.8,712.3 704.1,717.2 700.0,722.5 C695.9,727.8 690.9,732.6 688.1,738.5 C685.4,744.5 684.7,751.5 683.5,758.1 C682.3,764.6 682.0,771.4 681.2,778.0 C680.3,784.7 679.0,793.0 678.2,797.9 C677.4,802.9 676.7,806.1 676.4,807.8"/>
<path d="M754.3,600.0 C753.0,603.1 749.2,612.3 746.8,618.6 C744.4,624.8 742.2,631.2 739.9,637.4 C737.5,643.7 734.8,649.8 732.8,656.2 C730.8,662.6 730.3,669.5 728.1,675.7 C725.8,682.0 722.8,688.1 719.3,693.8 C715.8,699.4 711.4,704.6 707.1,709.7 C702.8,714.8 698.1,719.6 693.6,724.5 C689.0,729.4 683.2,733.6 679.9,739.3 C676.6,744.9 675.3,751.8 674.0,758.3 C672.6,764.8 672.8,771.6 671.8,778.2 C670.8,784.9 669.1,793.1 668.2,798.0 C667.2,802.9 666.3,806.2 666.0,807.8"/>
<path d="M743.9,605.2 C743.0,608.4 740.2,618.1 738.4,624.5 C736.5,630.9 734.8,637.4 733.0,643.8 C731.1,650.3 729.3,656.7 727.4,663.1 C725.5,669.5 724.5,676.3 721.5,682.2 C718.6,688.0 714.2,693.0 709.9,698.0 C705.6,703.0 700.6,707.6 695.7,712.1 C690.8,716.7 685.5,720.8 680.6,725.2 C675.6,729.7 669.2,733.5 666.0,739.0 C662.7,744.4 662.0,751.5 660.9,758.0 C659.7,764.5 659.6,771.4 658.8,778.0 C658.0,784.7 656.7,792.9 655.9,797.9 C655.1,802.8 654.6,806.1 654.3,807.8"/>
</g>
<g mask="url(#cx16)">
<path d="M650.4,520.0 C651.0,521.2 651.0,525.7 654.0,527.2 C657.0,528.7 662.9,528.1 668.3,529.0 C673.7,529.9 680.9,532.3 686.3,532.6 C691.7,532.9 695.9,532.0 700.7,530.8 C705.5,529.6 711.5,527.2 715.1,525.4 C718.7,523.6 721.1,520.9 722.3,520.0"/>
<path d="M747.5,520.0 C748.7,521.2 750.8,526.6 754.7,527.2 C758.6,527.8 766.6,524.8 770.9,523.6 C775.1,522.4 778.5,520.6 780.0,520.0"/>
<path d="M600.0,543.4 C603.0,544.0 612.0,546.4 618.0,547.0 C624.0,547.6 630.0,546.1 636.0,547.0 C642.0,547.9 648.6,549.7 654.0,552.4 C659.4,555.1 662.9,561.1 668.3,563.2 C673.7,565.3 680.9,565.6 686.3,565.0 C691.7,564.4 695.9,561.4 700.7,559.6 C705.5,557.8 710.3,556.9 715.1,554.2 C719.9,551.5 724.7,545.8 729.5,543.4 C734.3,541.0 739.7,540.7 743.9,539.8 C748.1,538.9 750.5,538.0 754.7,538.0 C758.9,538.0 764.8,540.1 769.1,539.8 C773.3,539.5 778.2,536.8 780.0,536.2"/>
<path d="M619.8,554.2 C623.1,554.8 634.2,556.0 639.6,557.8 C645.0,559.6 648.3,562.3 652.2,565.0 C656.1,567.7 659.1,571.6 662.9,574.0 C666.8,576.4 671.0,578.2 675.5,579.4 C680.0,580.6 684.8,581.8 689.9,581.2 C695.0,580.6 700.7,578.8 706.1,575.8 C711.5,572.8 717.5,566.8 722.3,563.2 C727.1,559.6 730.4,556.3 734.9,554.2 C739.4,552.1 744.2,551.5 749.3,550.6 C754.4,549.7 760.3,549.4 765.5,548.8 C770.6,548.2 777.6,547.3 780.0,547.0"/>
<path d="M618.0,565.0 C621.0,565.9 630.0,568.0 636.0,570.4 C642.0,572.8 648.6,576.7 654.0,579.4 C659.4,582.1 664.4,583.8 668.3,586.5 C672.2,589.2 673.1,593.7 677.3,595.5 C681.5,597.3 688.4,597.9 693.5,597.3 C698.6,596.7 704.9,594.6 707.9,591.9 C710.9,589.2 708.5,584.1 711.5,581.2 C714.5,578.2 721.1,577.0 725.9,574.0 C730.7,571.0 735.5,565.9 740.3,563.2 C745.1,560.5 749.9,558.4 754.7,557.8 C759.5,557.2 764.8,559.6 769.1,559.6 C773.3,559.6 778.2,558.1 780.0,557.8"/>
<path d="M618.0,575.8 C621.0,577.3 630.0,582.6 636.0,584.7 C642.0,586.8 648.6,585.9 654.0,588.3 C659.4,590.7 664.1,595.8 668.3,599.1 C672.5,602.4 674.3,606.3 679.1,608.1 C683.9,609.9 691.4,610.8 697.1,609.9 C702.8,609.0 709.7,606.3 713.3,602.7 C716.9,599.1 716.0,591.6 718.7,588.3 C721.4,585.0 725.3,585.3 729.5,582.9 C733.7,580.6 739.1,575.8 743.9,574.0 C748.7,572.2 753.8,572.2 758.3,572.2 C762.8,572.2 767.2,574.0 770.9,574.0 C774.5,574.0 778.5,572.5 780.0,572.2"/>
<path d="M618.0,586.5 C621.0,587.7 630.0,591.6 636.0,593.7 C642.0,595.8 648.9,596.4 654.0,599.1 C659.1,601.8 662.1,606.6 666.5,609.9 C671.0,613.2 675.2,617.1 680.9,618.9 C686.6,620.7 694.4,621.6 700.7,620.7 C707.0,619.8 714.5,617.7 718.7,613.5 C722.9,609.3 722.9,599.7 725.9,595.5 C728.9,591.3 732.5,590.4 736.7,588.3 C740.9,586.2 746.3,583.8 751.1,582.9 C755.9,582.1 760.6,582.6 765.5,582.9 C770.3,583.2 777.6,584.4 780.0,584.7"/>
<path d="M618.0,597.3 C621.0,598.5 630.6,602.4 636.0,604.5 C641.4,606.6 645.6,607.2 650.4,609.9 C655.2,612.6 659.4,617.7 664.7,620.7 C670.1,623.7 676.1,626.7 682.7,627.9 C689.3,629.1 697.1,629.1 704.3,627.9 C711.5,626.7 721.7,624.6 725.9,620.7 C730.1,616.8 726.5,608.4 729.5,604.5 C732.5,600.6 738.5,598.8 743.9,597.3 C749.3,595.8 755.8,595.5 761.9,595.5 C767.9,595.5 777.0,597.0 780.0,597.3"/>
<path d="M614.4,606.3 C616.5,607.5 621.9,611.7 627.0,613.5 C632.1,615.3 639.3,615.3 645.0,617.1 C650.7,618.9 656.1,621.3 661.2,624.3 C666.2,627.3 669.5,632.7 675.5,635.1 C681.5,637.5 689.9,638.7 697.1,638.7 C704.3,638.7 712.7,638.1 718.7,635.1 C724.7,632.1 730.1,625.5 733.1,620.7 C736.1,615.9 733.7,609.6 736.7,606.3 C739.7,603.0 745.4,601.5 751.1,600.9 C756.8,600.3 766.0,601.8 770.9,602.7 C775.7,603.6 778.5,605.7 780.0,606.3"/>
<path d="M616.2,613.5 C618.6,614.7 625.5,619.2 630.6,620.7 C635.7,622.2 641.1,620.7 646.8,622.5 C652.5,624.3 659.4,628.2 664.7,631.5 C670.1,634.8 673.1,639.9 679.1,642.3 C685.1,644.7 693.5,645.9 700.7,645.9 C707.9,645.9 716.3,644.7 722.3,642.3 C728.3,639.9 733.1,635.7 736.7,631.5 C740.3,627.3 740.9,620.7 743.9,617.1 C746.9,613.5 749.9,611.1 754.7,609.9 C759.5,608.7 768.4,609.3 772.7,609.9 C776.9,610.5 778.8,612.9 780.0,613.5"/>
<path d="M743.9,604.5 C746.3,600.9 756.5,598.8 761.9,599.1 C767.3,599.4 773.9,602.7 776.3,606.3 C778.7,609.9 778.7,617.1 776.3,620.7 C773.9,624.3 766.7,627.9 761.9,627.9 C757.1,627.9 750.5,624.6 747.5,620.7 C744.5,616.8 741.5,608.1 743.9,604.5Z"/>
<path d="M752.9,608.1 C754.1,605.4 762.2,603.9 765.5,604.5 C768.8,605.1 772.1,609.3 772.7,611.7 C773.3,614.1 771.5,617.4 769.1,618.9 C766.7,620.4 761.0,622.5 758.3,620.7 C755.6,618.9 751.7,610.8 752.9,608.1Z"/>
<path d="M733.1,595.5 C736.7,594.6 748.1,590.7 754.7,590.1 C761.3,589.5 768.4,590.1 772.7,591.9 C776.9,593.7 778.8,599.4 780.0,600.9"/>
<path d="M610.8,574.0 C610.2,577.0 607.2,586.5 607.2,591.9 C607.2,597.3 609.9,601.5 610.8,606.3 C611.7,611.1 611.4,615.6 612.6,620.7 C613.8,625.8 615.9,630.3 618.0,636.9 C620.1,643.5 624.0,656.2 625.2,660.1"/>
<path d="M618.0,574.0 C617.7,577.0 616.5,585.9 616.2,591.9 C615.9,597.9 615.3,604.5 616.2,609.9 C617.1,615.3 619.5,619.5 621.6,624.3 C623.7,629.1 626.4,632.7 628.8,638.7 C631.2,644.7 634.8,656.5 636.0,660.1"/>
<path d="M607.2,520.0 C608.1,523.0 612.0,532.0 612.6,538.0 C613.2,544.0 612.3,550.0 610.8,556.0 C609.3,562.0 605.4,569.2 603.6,574.0 C601.8,578.8 600.6,582.9 600.0,584.7"/>
<path d="M600.0,599.1 C601.2,600.9 605.7,605.1 607.2,609.9 C608.7,614.7 608.4,621.9 609.0,627.9 C609.6,633.9 609.9,640.5 610.8,645.9 C611.7,651.3 613.8,657.7 614.4,660.1"/>
<path d="M722.3,660.1 C723.5,657.7 726.5,649.5 729.5,645.9 C732.5,642.3 736.1,640.5 740.3,638.7 C744.5,636.9 749.9,636.3 754.7,635.1 C759.5,633.9 764.8,632.7 769.1,631.5 C773.3,630.3 778.2,628.5 780.0,627.9"/>
<path d="M736.7,660.1 C737.9,658.3 740.3,652.5 743.9,649.5 C747.5,646.5 753.5,644.1 758.3,642.3 C763.1,640.5 769.0,639.6 772.7,638.7 C776.3,637.8 778.8,637.2 780.0,636.9"/>
<path d="M751.1,660.1 C752.9,658.9 757.0,655.5 761.9,653.1 C766.7,650.7 777.0,647.1 780.0,645.9"/>
<path d="M632.4,617.1 C636.0,619.5 647.4,627.0 654.0,631.5 C660.6,636.0 665.3,641.4 671.9,644.1 C678.5,646.8 686.3,647.7 693.5,647.7 C700.7,647.7 711.5,644.7 715.1,644.1"/>
<path d="M632.4,627.9 C636.0,629.7 647.4,635.4 654.0,638.7 C660.6,642.0 664.7,645.6 671.9,647.7 C679.1,649.8 692.9,650.7 697.1,651.3"/>
</g>
<g mask="url(#cx17)">
<path d="M758.0,607.0 C758.6,605.8 761.8,604.6 764.0,605.0 C766.1,605.3 770.0,607.3 770.9,609.0 C771.9,610.6 770.8,613.4 770.0,614.9 C769.1,616.4 767.6,618.4 766.0,617.9 C764.3,617.4 761.3,613.8 760.0,611.9 C758.6,610.1 757.3,608.1 758.0,607.0Z"/>
<path d="M753.0,608.0 C753.6,605.5 758.8,603.3 762.0,603.0 C765.1,602.6 769.6,604.1 771.9,606.0 C774.3,607.8 776.1,611.6 775.9,613.9 C775.8,616.3 772.8,618.6 770.9,619.9 C769.1,621.3 767.1,622.3 765.0,621.9 C762.8,621.6 760.0,620.3 758.0,617.9 C756.0,615.6 752.3,610.4 753.0,608.0Z"/>
<path d="M741.0,603.0 C741.6,601.0 747.1,601.0 750.0,600.0 C752.8,599.0 755.3,597.8 758.0,597.0 C760.6,596.1 763.3,594.3 766.0,595.0 C768.6,595.6 772.3,598.8 773.9,601.0 C775.6,603.1 775.1,605.5 775.9,608.0 C776.8,610.4 778.9,613.6 778.9,615.9 C778.9,618.3 777.8,620.4 775.9,621.9 C774.1,623.4 770.6,624.4 768.0,624.9 C765.3,625.4 762.5,625.8 760.0,624.9 C757.5,624.1 755.3,622.1 753.0,619.9 C750.6,617.8 748.0,614.8 746.0,611.9 C744.0,609.1 740.3,605.0 741.0,603.0Z"/>
<path d="M737.0,599.0 C737.3,596.1 742.5,597.1 746.0,596.0 C749.5,594.8 755.0,593.1 758.0,592.0 C761.0,590.8 761.6,589.0 764.0,589.0 C766.3,589.0 768.6,592.0 771.9,592.0 C775.3,592.0 780.9,589.3 783.9,589.0 C786.9,588.6 789.3,588.5 789.9,590.0 C790.6,591.5 789.3,595.8 787.9,598.0 C786.6,600.1 783.3,600.6 781.9,603.0 C780.6,605.3 780.6,609.1 779.9,611.9 C779.3,614.8 779.1,617.6 777.9,619.9 C776.8,622.3 774.9,624.4 772.9,625.9 C770.9,627.4 768.8,628.6 766.0,628.9 C763.1,629.3 758.8,629.1 756.0,627.9 C753.1,626.8 751.0,624.4 749.0,621.9 C747.0,619.4 746.0,616.8 744.0,612.9 C742.0,609.1 736.7,601.8 737.0,599.0Z"/>
<path d="M732.0,596.0 C733.2,593.8 738.6,594.0 742.0,593.0 C745.3,592.0 749.3,591.3 752.0,590.0 C754.6,588.6 755.6,585.8 758.0,585.0 C760.3,584.1 763.0,584.6 766.0,585.0 C769.0,585.3 772.6,586.6 775.9,587.0 C779.3,587.3 782.6,586.1 785.9,587.0 C789.3,587.8 794.9,589.8 795.9,592.0 C796.9,594.1 793.6,597.6 791.9,600.0 C790.3,602.3 787.3,603.3 785.9,606.0 C784.6,608.6 784.9,612.9 783.9,615.9 C782.9,618.9 781.6,621.8 779.9,623.9 C778.3,626.1 776.6,627.6 773.9,628.9 C771.3,630.3 768.0,631.4 764.0,631.9 C760.0,632.4 753.5,632.9 750.0,631.9 C746.5,630.9 744.8,628.6 743.0,625.9 C741.1,623.3 740.3,619.3 739.0,615.9 C737.6,612.6 736.2,609.3 735.0,606.0 C733.8,602.6 730.8,598.1 732.0,596.0Z"/>
<path d="M729.0,587.0 C730.8,584.8 736.2,589.1 740.0,589.0 C743.8,588.8 749.3,587.5 752.0,586.0 C754.6,584.5 753.6,580.8 756.0,580.0 C758.3,579.1 762.6,580.0 766.0,581.0 C769.3,582.0 771.9,585.0 775.9,586.0 C779.9,587.0 786.1,585.6 789.9,587.0 C793.8,588.3 797.8,591.5 798.9,594.0 C800.1,596.5 798.4,599.6 796.9,602.0 C795.4,604.3 791.4,605.3 789.9,608.0 C788.4,610.6 788.9,614.9 787.9,617.9 C786.9,620.9 785.9,623.6 783.9,625.9 C781.9,628.3 779.1,630.3 775.9,631.9 C772.8,633.6 769.3,635.3 765.0,635.9 C760.6,636.6 754.1,636.6 750.0,635.9 C745.8,635.3 742.8,633.9 740.0,631.9 C737.1,629.9 734.7,626.9 733.0,623.9 C731.3,620.9 730.7,617.6 730.0,613.9 C729.3,610.3 729.2,606.5 729.0,602.0 C728.8,597.5 727.2,589.1 729.0,587.0Z"/>
<path d="M722.0,584.0 C723.3,583.5 727.0,581.1 730.0,581.0 C733.0,580.8 736.7,583.1 740.0,583.0 C743.3,582.8 747.6,581.1 750.0,580.0 C752.3,578.8 751.6,577.0 754.0,576.0 C756.3,575.0 761.0,573.3 764.0,574.0 C767.0,574.7 768.6,578.5 771.9,580.0 C775.3,581.5 779.9,581.5 783.9,583.0 C787.9,584.5 792.8,587.3 795.9,589.0 C799.1,590.6 802.4,590.5 802.9,593.0 C803.4,595.5 800.8,600.8 798.9,604.0 C797.1,607.1 793.4,609.0 791.9,611.9 C790.4,614.9 791.3,618.6 789.9,621.9 C788.6,625.3 786.3,629.1 783.9,631.9 C781.6,634.8 779.4,637.3 775.9,638.9 C772.4,640.6 767.3,641.4 763.0,641.9 C758.6,642.4 753.8,642.6 750.0,641.9 C746.1,641.3 743.0,639.9 740.0,637.9 C737.0,635.9 734.3,632.9 732.0,629.9 C729.7,626.9 727.5,623.3 726.0,619.9 C724.5,616.6 724.0,612.9 723.0,610.0 C722.0,607.0 720.5,603.3 720.0,602.0"/>
<path d="M720.0,577.0 C721.7,576.8 726.0,576.2 730.0,576.0 C734.0,575.8 740.0,576.8 744.0,576.0 C748.0,575.2 750.3,572.0 754.0,571.0 C757.6,570.0 762.3,569.3 766.0,570.0 C769.6,570.7 771.9,573.5 775.9,575.0 C779.9,576.5 785.4,577.6 789.9,579.0 C794.4,580.3 799.3,581.8 802.9,583.0 C806.6,584.1 809.1,585.8 811.9,586.0 C814.8,586.1 818.7,584.3 820.0,584.0"/>
<path d="M720.0,570.0 C721.7,569.8 726.7,569.3 730.0,569.0 C733.3,568.7 736.7,568.5 740.0,568.0 C743.3,567.5 747.0,566.5 750.0,566.0 C753.0,565.5 755.3,564.8 758.0,565.0 C760.6,565.2 763.0,566.2 766.0,567.0 C769.0,567.8 772.6,568.8 775.9,570.0 C779.3,571.2 781.9,572.8 785.9,574.0 C789.9,575.2 795.1,576.7 799.9,577.0 C804.7,577.3 811.6,576.3 814.9,576.0 C818.3,575.7 819.2,575.2 820.0,575.0"/>
<path d="M720.0,562.0 C721.7,561.8 726.7,561.3 730.0,561.0 C733.3,560.7 738.3,560.2 740.0,560.0"/>
<path d="M775.9,560.0 C776.9,561.0 778.6,564.7 781.9,566.0 C785.3,567.3 792.1,567.7 795.9,568.0 C799.8,568.3 801.8,568.2 804.9,568.0 C808.1,567.8 812.4,567.3 814.9,567.0 C817.4,566.7 819.2,566.2 820.0,566.0"/>
<path d="M820.0,592.0 C818.7,592.5 814.1,593.3 811.9,595.0 C809.7,596.6 808.4,599.1 806.9,602.0 C805.4,604.8 804.1,608.6 802.9,611.9 C801.8,615.3 801.1,618.6 799.9,621.9 C798.8,625.3 797.3,628.9 795.9,631.9 C794.6,634.9 793.6,636.9 791.9,639.9 C790.3,642.9 786.9,648.3 785.9,650.0"/>
<path d="M820.0,600.0 C819.2,601.3 816.6,605.3 814.9,608.0 C813.2,610.6 811.6,612.9 809.9,615.9 C808.2,618.9 806.4,622.6 804.9,625.9 C803.4,629.3 802.1,631.9 800.9,635.9 C799.8,639.9 798.4,647.7 797.9,650.0"/>
<path d="M820.0,619.9 C818.7,621.6 814.1,626.6 811.9,629.9 C809.7,633.3 808.2,636.6 806.9,639.9 C805.6,643.3 804.4,648.3 803.9,650.0"/>
<path d="M730.0,650.0 C731.0,648.3 735.3,642.9 736.0,639.9 C736.7,636.9 734.3,633.3 734.0,631.9"/>
<path d="M748.0,650.0 C748.8,649.0 750.5,644.6 753.0,643.9 C755.5,643.2 759.1,646.2 763.0,645.9 C766.8,645.6 772.4,643.3 775.9,641.9 C779.4,640.6 782.6,638.6 783.9,637.9"/>
</g>
<g mask="url(#cx18)">
<path d="M576.0,525.9 C576.6,524.9 578.6,522.9 580.0,522.9 C581.3,522.9 583.4,524.6 583.9,525.9 C584.4,527.3 583.8,529.9 582.9,530.9 C582.1,531.9 580.1,532.3 579.0,531.9 C577.8,531.6 576.5,529.9 576.0,528.9 C575.5,527.9 575.3,526.9 576.0,525.9Z"/>
<path d="M574.0,525.9 C575.0,524.4 578.0,521.4 580.0,520.9 C581.9,520.4 584.6,521.4 585.9,522.9 C587.3,524.4 588.3,527.9 587.9,529.9 C587.6,531.9 585.8,534.3 583.9,534.9 C582.1,535.6 578.6,534.8 577.0,533.9 C575.3,533.1 574.5,531.3 574.0,529.9 C573.5,528.6 573.0,527.4 574.0,525.9Z"/>
<path d="M569.0,520.0 C570.8,517.6 576.5,516.0 580.0,516.0 C583.4,516.0 587.9,518.0 589.9,520.0 C591.9,521.9 592.3,524.9 591.9,527.9 C591.6,530.9 589.9,535.6 587.9,537.9 C585.9,540.3 582.4,541.9 580.0,541.9 C577.5,541.9 574.8,539.9 573.0,537.9 C571.1,535.9 569.6,532.9 569.0,529.9 C568.3,526.9 567.1,522.3 569.0,520.0Z"/>
<path d="M563.0,517.0 C564.0,513.6 565.8,513.1 568.0,512.0 C570.1,510.8 573.0,510.6 576.0,510.0 C579.0,509.3 583.6,509.1 585.9,508.0 C588.3,506.8 588.4,504.3 589.9,503.0 C591.4,501.6 593.3,501.3 594.9,500.0 C596.6,498.6 598.8,495.5 599.9,495.0 C601.1,494.5 602.3,495.3 601.9,497.0 C601.6,498.6 598.9,502.0 597.9,505.0 C596.9,508.0 595.9,511.5 595.9,515.0 C595.9,518.5 597.6,522.1 597.9,525.9 C598.3,529.8 598.6,534.6 597.9,537.9 C597.3,541.3 596.1,544.1 593.9,545.9 C591.8,547.8 588.1,548.4 584.9,548.9 C581.8,549.4 578.1,550.1 575.0,548.9 C571.8,547.8 568.1,544.8 566.0,541.9 C563.8,539.1 562.5,536.1 562.0,531.9 C561.5,527.8 562.0,520.3 563.0,517.0Z"/>
<path d="M557.0,518.0 C558.1,514.6 561.5,510.5 564.0,508.0 C566.5,505.5 568.6,504.0 572.0,503.0 C575.3,502.0 581.1,503.0 583.9,502.0 C586.8,501.0 587.3,499.0 588.9,497.0 C590.6,495.0 592.4,492.3 593.9,490.0 C595.4,487.6 596.6,484.7 597.9,483.0 C599.3,481.3 600.9,479.7 601.9,480.0 C602.9,480.3 603.9,482.5 603.9,485.0 C603.9,487.5 602.1,491.6 601.9,495.0 C601.8,498.3 603.3,501.6 602.9,505.0 C602.6,508.3 599.9,511.5 599.9,515.0 C599.9,518.5 602.6,521.8 602.9,525.9 C603.3,530.1 602.8,535.9 601.9,539.9 C601.1,543.9 600.6,547.4 597.9,549.9 C595.3,552.4 590.1,554.1 585.9,554.9 C581.8,555.7 576.8,556.1 573.0,554.9 C569.1,553.7 565.3,550.8 563.0,547.9 C560.6,545.1 560.0,541.3 559.0,537.9 C558.0,534.6 557.3,531.3 557.0,527.9 C556.6,524.6 555.8,521.3 557.0,518.0Z"/>
<path d="M551.0,513.0 C552.1,512.0 555.1,509.5 558.0,507.0 C560.8,504.5 564.6,500.0 568.0,498.0 C571.3,496.0 575.0,496.1 578.0,495.0 C580.9,493.8 583.6,492.8 585.9,491.0 C588.3,489.1 590.3,486.2 591.9,484.0 C593.6,481.8 594.9,480.3 595.9,478.0 C596.9,475.7 597.6,471.3 597.9,470.0"/>
<path d="M541.0,510.0 C542.5,508.8 547.0,504.6 550.0,503.0 C553.0,501.3 556.3,501.3 559.0,500.0 C561.6,498.6 563.1,496.6 566.0,495.0 C568.8,493.3 573.0,491.5 576.0,490.0 C579.0,488.5 581.6,488.0 583.9,486.0 C586.3,484.0 588.6,480.7 589.9,478.0 C591.3,475.3 591.6,471.3 591.9,470.0"/>
<path d="M534.0,503.0 C535.7,501.8 540.5,497.8 544.0,496.0 C547.5,494.1 551.6,493.6 555.0,492.0 C558.3,490.3 560.8,487.8 564.0,486.0 C567.1,484.2 571.0,482.7 574.0,481.0 C577.0,479.3 579.6,477.8 581.9,476.0 C584.3,474.2 586.9,471.0 587.9,470.0"/>
<path d="M530.0,496.0 C531.0,495.3 533.3,493.5 536.0,492.0 C538.7,490.5 542.8,488.3 546.0,487.0 C549.1,485.7 552.1,485.0 555.0,484.0 C557.8,483.0 560.5,482.2 563.0,481.0 C565.5,479.8 567.6,478.2 570.0,477.0 C572.3,475.8 575.8,474.5 577.0,474.0"/>
<path d="M541.0,510.0 C541.3,512.0 542.3,518.3 543.0,521.9 C543.7,525.6 544.8,528.9 545.0,531.9 C545.2,534.9 543.8,536.9 544.0,539.9 C544.2,542.9 545.5,546.6 546.0,549.9 C546.5,553.3 546.8,558.3 547.0,560.0"/>
<path d="M551.0,513.0 C550.5,514.8 547.8,520.4 548.0,523.9 C548.1,527.4 551.6,530.9 552.0,533.9 C552.3,536.9 549.6,538.9 550.0,541.9 C550.3,544.9 553.1,548.9 554.0,551.9 C554.8,554.9 554.8,558.7 555.0,560.0"/>
<path d="M557.0,518.0 C556.8,519.3 555.6,522.9 556.0,525.9 C556.3,528.9 558.6,532.6 559.0,535.9 C559.3,539.3 557.5,542.6 558.0,545.9 C558.5,549.3 561.3,554.2 562.0,555.9"/>
<path d="M534.0,503.0 C533.8,504.1 532.3,507.1 533.0,510.0 C533.7,512.8 536.8,516.6 538.0,520.0 C539.2,523.3 540.0,526.6 540.0,529.9 C540.0,533.3 538.0,536.6 538.0,539.9 C538.0,543.3 539.3,546.6 540.0,549.9 C540.7,553.3 541.7,558.3 542.0,560.0"/>
<path d="M605.9,470.0 C606.1,471.7 605.8,479.5 606.9,480.0 C608.1,480.5 611.9,474.2 612.9,473.0"/>
<path d="M616.9,470.0 C616.7,472.2 617.1,479.3 615.9,483.0 C614.7,486.7 611.3,488.8 609.9,492.0 C608.6,495.1 608.6,498.6 607.9,502.0 C607.3,505.3 605.8,508.3 605.9,512.0 C606.1,515.6 608.4,520.3 608.9,523.9 C609.4,527.6 609.4,530.3 608.9,533.9 C608.4,537.6 605.8,541.6 605.9,545.9 C606.1,550.3 609.3,557.7 609.9,560.0"/>
<path d="M630.0,480.0 C629.3,481.2 627.6,483.7 625.9,487.0 C624.2,490.3 620.7,496.1 619.9,500.0 C619.1,503.8 619.9,506.6 620.9,510.0 C621.9,513.3 625.2,516.6 625.9,520.0 C626.6,523.3 624.2,526.6 624.9,529.9 C625.6,533.3 629.2,538.3 630.0,539.9"/>
<path d="M630.0,500.0 C629.5,501.6 626.9,507.0 626.9,510.0 C626.9,513.0 629.5,516.6 630.0,518.0"/>
</g>
</g></g>
<polyline points="557.8,577.2 560.3,589.7 562.4,600.0 556.1,614.6 549.9,627.1 546.8,640.0" fill="none" stroke="#777" stroke-width="0.7"/>
<g fill="none" stroke="#000" stroke-width="0.7" stroke-opacity="0.85"><ellipse cx="611" cy="371" rx="1.8" ry="1.3"/>
<ellipse cx="625" cy="388" rx="2" ry="1.4"/>
<ellipse cx="629.5" cy="387.6" rx="1.6" ry="1.2"/>
<ellipse cx="621" cy="381" rx="0.8" ry="0.8"/>
<ellipse cx="638" cy="393" rx="0.8" ry="0.8"/>
<ellipse cx="639.3" cy="398.6" rx="0.8" ry="0.8"/>
<ellipse cx="647" cy="365" rx="1.3" ry="1.1"/>
<ellipse cx="653" cy="363" rx="0.8" ry="0.8"/>
<ellipse cx="631" cy="369" rx="1" ry="0.8"/>
<ellipse cx="633" cy="370" rx="0.8" ry="0.7"/>
<ellipse cx="655.3" cy="380" rx="0.6" ry="0.6"/>
<ellipse cx="683.9" cy="414" rx="0.6" ry="0.6"/>
<ellipse cx="710" cy="434" rx="1" ry="0.8"/>
<ellipse cx="713" cy="436" rx="1" ry="0.8"/>
<ellipse cx="720" cy="444" rx="0.6" ry="0.6"/>
<ellipse cx="733.8" cy="448" rx="0.9" ry="2.2"/>
<ellipse cx="707" cy="383.7" rx="2.4" ry="1.8"/>
<ellipse cx="705.5" cy="392" rx="3" ry="2"/>
<ellipse cx="715.2" cy="388" rx="1.5" ry="3.3"/>
<ellipse cx="696.5" cy="403" rx="2.4" ry="1.5"/>
<ellipse cx="699.5" cy="389" rx="1.2" ry="1.2"/>
<ellipse cx="772.2" cy="388.2" rx="1" ry="1"/>
<ellipse cx="777.5" cy="391.2" rx="1.8" ry="1.8"/>
<ellipse cx="712" cy="435.5" rx="1" ry="0.8"/>
<ellipse cx="777.5" cy="444.5" rx="1.5" ry="1.5"/>
<ellipse cx="773" cy="456.4" rx="1.6" ry="2.6"/>
<ellipse cx="779" cy="457.2" rx="1.6" ry="2.6"/>
<ellipse cx="788" cy="450.4" rx="1.3" ry="1.3"/>
<ellipse cx="797" cy="444.5" rx="0.6" ry="0.6"/>
<ellipse cx="804.4" cy="465.4" rx="1.3" ry="2.6"/>
<ellipse cx="810.4" cy="464" rx="1.3" ry="2.6"/>
<ellipse cx="752" cy="464" rx="0.6" ry="0.6"/>
<ellipse cx="771.5" cy="465.4" rx="0.6" ry="0.6"/>
<ellipse cx="956" cy="191" rx="0.9" ry="0.9"/>
<ellipse cx="979" cy="181.8" rx="0.7" ry="0.7"/>
<ellipse cx="955" cy="230.7" rx="1" ry="1"/>
<ellipse cx="959.3" cy="241.7" rx="0.9" ry="0.9"/>
<ellipse cx="957.2" cy="245.2" rx="0.8" ry="0.8"/>
<ellipse cx="949.3" cy="258.8" rx="1" ry="1"/>
<ellipse cx="944" cy="264" rx="2.3" ry="3"/>
<ellipse cx="943.7" cy="274.3" rx="1.8" ry="2.6"/>
<ellipse cx="900.3" cy="530" rx="0.8" ry="1.6"/>
<ellipse cx="931.5" cy="560" rx="1.2" ry="0.9"/>
<ellipse cx="979.6" cy="596" rx="1.2" ry="0.9"/>
<ellipse cx="851.7" cy="449" rx="0.7" ry="0.7"/>
<ellipse cx="914.7" cy="437" rx="0.6" ry="0.6"/>
<ellipse cx="745" cy="479" rx="0.6" ry="0.6"/>
<ellipse cx="778.4" cy="481" rx="0.7" ry="0.7"/>
<ellipse cx="847.5" cy="464" rx="0.6" ry="0.6"/></g>
<g stroke="#fff" stroke-opacity="0.45" stroke-width="1">
<line x1="63" y1="207.5" x2="991" y2="189.1"/>
<line x1="63" y1="295.4" x2="991" y2="277.0"/>
<line x1="63" y1="383.3" x2="991" y2="364.9"/>
<line x1="63" y1="471.3" x2="991" y2="452.9"/>
<line x1="63" y1="559.2" x2="991" y2="540.8"/>
<line x1="63" y1="647.1" x2="991" y2="628.7"/>
<line x1="63" y1="735.0" x2="991" y2="716.6"/>
<line x1="63" y1="822.9" x2="991" y2="804.5"/>
<line x1="61.4" y1="146" x2="75.6" y2="823"/>
<line x1="244.8" y1="146" x2="259.0" y2="823"/>
<line x1="428.2" y1="146" x2="442.4" y2="823"/>
<line x1="611.6" y1="146" x2="625.8" y2="823"/>
<line x1="795.0" y1="146" x2="809.2" y2="823"/>
<line x1="978.4" y1="146" x2="992.6" y2="823"/>
</g>
<g fill="none" stroke="#000" stroke-width="2.2" stroke-linejoin="round">
<polyline points="412.7,824.1 417.9,806.7 417.9,783.3 429.5,769.6 493.9,722.2 511.4,704.1 517.5,694.2 515.7,676.8 524.0,665.9 522.3,659.3 524.5,656.0 519.0,652.8 520.0,648.4 519.7,637.0 531.2,633.3 536.4,629.2 531.2,620.9 527.0,614.6 528.0,608.4 535.3,604.2 538.5,598.0 537.4,585.5 533.3,577.2 520.8,573.0 515.0,568.9 515.0,558.5 518.7,553.3 529.1,550.2 534.3,537.7 533.3,523.2 526.0,510.7 523.9,500.3 526.0,496.1 533.3,494.0 537.4,488.9 531.2,481.6 534.3,478.5 533.3,471.2 539.5,465.0 549.9,458.7 564.0,451.9 567.0,437.9 576.0,421.9 581.0,415.9 590.0,407.9 598.0,402.0 607.0,400.0 610.0,396.0 608.0,390.0 610.0,376.0 614.0,373.0 618.0,374.0 630.0,370.0 642.0,367.0 659.0,365.0 668.0,367.0 675.0,377.0 686.7,380.7 693.5,374.0 717.5,368.0 743.0,359.7"/>
<polyline points="719.3,370.2 716.7,377.7 710.7,376.2 692.7,392.0 705.5,406.2 720.5,389.7 718.2,384.5 731.7,386.7 740.0,394.2 736.7,397.2 740.0,401.7 737.7,402.8 730.2,396.8 711.5,413.7 765.5,458.2 771.5,449.7 777.5,450.1 787.6,438.5 768.5,420.5 764.0,422.7 749.0,407.7 752.7,404.7 794.0,440.0 790.2,444.5 802.2,455.0 818.0,437.0 780.4,398.7 786.4,394.2 809.0,416.0 819.3,422.9 856.0,421.3 865.4,417.3 896.6,381.4 932.4,298.9 937.0,194.5 929.3,145.6"/>
</g>
<g class="st">
<circle cx="581.4" cy="418.5" r="3.3" fill="#000" stroke="#fff" stroke-width="0.8"/>
<circle cx="626.1" cy="449.9" r="3.3" fill="#000" stroke="#fff" stroke-width="0.8"/>
<circle cx="577.3" cy="541.2" r="3.3" fill="#000" stroke="#fff" stroke-width="0.8"/>
<circle cx="524.3" cy="563.1" r="3.3" fill="#000" stroke="#fff" stroke-width="0.8"/>
<circle cx="806.3" cy="591.3" r="3.3" fill="#000" stroke="#fff" stroke-width="0.8"/>
<circle cx="643.4" cy="636.4" r="3.3" fill="#000" stroke="#fff" stroke-width="0.8"/>
<circle cx="665.3" cy="644.3" r="3.3" fill="#000" stroke="#fff" stroke-width="0.8"/>
<circle cx="681.3" cy="774.3" r="3.3" fill="#000" stroke="#fff" stroke-width="0.8"/>
<text x="588.4" y="418.5" textLength="78" lengthAdjust="spacingAndGlyphs">SHL: 1131 m</text>
<text x="633.5" y="450.3" textLength="78" lengthAdjust="spacingAndGlyphs">SHT: 1427 m</text>
<text x="584.2" y="541.9" textLength="78" lengthAdjust="spacingAndGlyphs">LHT: 1255 m</text>
<text x="531.2" y="564.1" textLength="77" lengthAdjust="spacingAndGlyphs">LHL: 1007 m</text>
<text x="813.3" y="591.9" textLength="79" lengthAdjust="spacingAndGlyphs">BTO: 1687 m</text>
<text x="650.6" y="636.1" textLength="79" lengthAdjust="spacingAndGlyphs">GUT: 1507 m</text>
<text x="672.7" y="665.0" textLength="80" lengthAdjust="spacingAndGlyphs">TMT: 1521 m</text>
<text x="688.1" y="774.0" textLength="79" lengthAdjust="spacingAndGlyphs">OHT: 1366 m</text>
</g>
</g>
<rect x="62.5" y="145.5" width="930" height="679" fill="none" stroke="#000" stroke-width="1.1" shape-rendering="crispEdges"/>
<g font-size="11.3px">
<text x="54.2" y="211.6" text-anchor="end" textLength="42.6" lengthAdjust="spacingAndGlyphs">33.86°S</text>
<text x="54.2" y="299.5" text-anchor="end" textLength="42.6" lengthAdjust="spacingAndGlyphs">33.88°S</text>
<text x="54.2" y="387.4" text-anchor="end" textLength="35.5" lengthAdjust="spacingAndGlyphs">33.9°S</text>
<text x="54.2" y="475.4" text-anchor="end" textLength="42.6" lengthAdjust="spacingAndGlyphs">33.92°S</text>
<text x="54.2" y="563.3" text-anchor="end" textLength="42.6" lengthAdjust="spacingAndGlyphs">33.94°S</text>
<text x="54.2" y="651.2" text-anchor="end" textLength="42.6" lengthAdjust="spacingAndGlyphs">33.96°S</text>
<text x="54.2" y="739.1" text-anchor="end" textLength="42.6" lengthAdjust="spacingAndGlyphs">33.98°S</text>
<text transform="translate(79.7,834) rotate(-90)" text-anchor="end" textLength="42.6" lengthAdjust="spacingAndGlyphs">18.25°E</text>
<text transform="translate(263.1,834) rotate(-90)" text-anchor="end" textLength="35.5" lengthAdjust="spacingAndGlyphs">18.3°E</text>
<text transform="translate(446.5,834) rotate(-90)" text-anchor="end" textLength="42.6" lengthAdjust="spacingAndGlyphs">18.35°E</text>
<text transform="translate(629.9,834) rotate(-90)" text-anchor="end" textLength="35.5" lengthAdjust="spacingAndGlyphs">18.4°E</text>
<text transform="translate(813.3,834) rotate(-90)" text-anchor="end" textLength="42.6" lengthAdjust="spacingAndGlyphs">18.45°E</text>
</g>
<g font-size="14.1px">
<rect x="155.00" y="879" width="30.06" height="30" fill="#0000e6"/>
<rect x="184.76" y="879" width="30.06" height="30" fill="#0033e6"/>
<rect x="214.52" y="879" width="30.06" height="30" fill="#0070e6"/>
<rect x="244.28" y="879" width="30.06" height="30" fill="#00a0e6"/>
<rect x="274.04" y="879" width="30.06" height="30" fill="#00d2e6"/>
<rect x="303.80" y="879" width="30.06" height="30" fill="#00dcc8"/>
<rect x="333.56" y="879" width="30.06" height="30" fill="#00d4a0"/>
<rect x="363.32" y="879" width="30.06" height="30" fill="#00c070"/>
<rect x="393.08" y="879" width="30.06" height="30" fill="#00b030"/>
<rect x="422.84" y="879" width="30.06" height="30" fill="#10aa00"/>
<rect x="452.60" y="879" width="30.06" height="30" fill="#3cb800"/>
<rect x="482.36" y="879" width="30.06" height="30" fill="#70c800"/>
<rect x="512.12" y="879" width="30.06" height="30" fill="#a0d400"/>
<rect x="541.88" y="879" width="30.06" height="30" fill="#c8e000"/>
<rect x="571.64" y="879" width="30.06" height="30" fill="#e6e000"/>
<rect x="601.40" y="879" width="30.06" height="30" fill="#e8d200"/>
<rect x="631.16" y="879" width="30.06" height="30" fill="#e8c000"/>
<rect x="660.92" y="879" width="30.06" height="30" fill="#e8b000"/>
<rect x="690.68" y="879" width="30.06" height="30" fill="#e89800"/>
<rect x="720.44" y="879" width="30.06" height="30" fill="#e87800"/>
<rect x="750.20" y="879" width="30.06" height="30" fill="#e85a00"/>
<rect x="779.96" y="879" width="30.06" height="30" fill="#e83c00"/>
<rect x="809.72" y="879" width="30.06" height="30" fill="#e01c00"/>
<rect x="839.48" y="879" width="30.06" height="30" fill="#e00a0a"/>
<rect x="869.24" y="879" width="30.06" height="30" fill="#c00020"/>
<rect x="155" y="879" width="744" height="30" fill="none" stroke="#000" stroke-width="1.1"/>
<line x1="155.00" y1="909" x2="155.00" y2="913.8" stroke="#000" stroke-width="1.1"/>
<line x1="184.76" y1="909" x2="184.76" y2="912.0" stroke="#000" stroke-width="1.1"/>
<line x1="214.52" y1="909" x2="214.52" y2="913.8" stroke="#000" stroke-width="1.1"/>
<line x1="244.28" y1="909" x2="244.28" y2="912.0" stroke="#000" stroke-width="1.1"/>
<line x1="274.04" y1="909" x2="274.04" y2="913.8" stroke="#000" stroke-width="1.1"/>
<line x1="303.80" y1="909" x2="303.80" y2="912.0" stroke="#000" stroke-width="1.1"/>
<line x1="333.56" y1="909" x2="333.56" y2="913.8" stroke="#000" stroke-width="1.1"/>
<line x1="363.32" y1="909" x2="363.32" y2="912.0" stroke="#000" stroke-width="1.1"/>
<line x1="393.08" y1="909" x2="393.08" y2="913.8" stroke="#000" stroke-width="1.1"/>
<line x1="422.84" y1="909" x2="422.84" y2="912.0" stroke="#000" stroke-width="1.1"/>
<line x1="452.60" y1="909" x2="452.60" y2="913.8" stroke="#000" stroke-width="1.1"/>
<line x1="482.36" y1="909" x2="482.36" y2="912.0" stroke="#000" stroke-width="1.1"/>
<line x1="512.12" y1="909" x2="512.12" y2="913.8" stroke="#000" stroke-width="1.1"/>
<line x1="541.88" y1="909" x2="541.88" y2="912.0" stroke="#000" stroke-width="1.1"/>
<line x1="571.64" y1="909" x2="571.64" y2="913.8" stroke="#000" stroke-width="1.1"/>
<line x1="601.40" y1="909" x2="601.40" y2="912.0" stroke="#000" stroke-width="1.1"/>
<line x1="631.16" y1="909" x2="631.16" y2="913.8" stroke="#000" stroke-width="1.1"/>
<line x1="660.92" y1="909" x2="660.92" y2="912.0" stroke="#000" stroke-width="1.1"/>
<line x1="690.68" y1="909" x2="690.68" y2="913.8" stroke="#000" stroke-width="1.1"/>
<line x1="720.44" y1="909" x2="720.44" y2="912.0" stroke="#000" stroke-width="1.1"/>
<line x1="750.20" y1="909" x2="750.20" y2="913.8" stroke="#000" stroke-width="1.1"/>
<line x1="779.96" y1="909" x2="779.96" y2="912.0" stroke="#000" stroke-width="1.1"/>
<line x1="809.72" y1="909" x2="809.72" y2="913.8" stroke="#000" stroke-width="1.1"/>
<line x1="839.48" y1="909" x2="839.48" y2="912.0" stroke="#000" stroke-width="1.1"/>
<line x1="869.24" y1="909" x2="869.24" y2="913.8" stroke="#000" stroke-width="1.1"/>
<line x1="899.00" y1="909" x2="899.00" y2="912.0" stroke="#000" stroke-width="1.1"/>
<text x="155.00" y="930" text-anchor="middle" textLength="33.7" lengthAdjust="spacingAndGlyphs">2400</text>
<text x="214.52" y="930" text-anchor="middle" textLength="33.7" lengthAdjust="spacingAndGlyphs">3200</text>
<text x="274.04" y="930" text-anchor="middle" textLength="33.7" lengthAdjust="spacingAndGlyphs">4000</text>
<text x="333.56" y="930" text-anchor="middle" textLength="33.7" lengthAdjust="spacingAndGlyphs">4800</text>
<text x="393.08" y="930" text-anchor="middle" textLength="33.7" lengthAdjust="spacingAndGlyphs">5600</text>
<text x="452.60" y="930" text-anchor="middle" textLength="33.7" lengthAdjust="spacingAndGlyphs">6400</text>
<text x="512.12" y="930" text-anchor="middle" textLength="33.7" lengthAdjust="spacingAndGlyphs">7200</text>
<text x="571.64" y="930" text-anchor="middle" textLength="33.7" lengthAdjust="spacingAndGlyphs">8000</text>
<text x="631.16" y="930" text-anchor="middle" textLength="33.7" lengthAdjust="spacingAndGlyphs">8800</text>
<text x="690.68" y="930" text-anchor="middle" textLength="33.7" lengthAdjust="spacingAndGlyphs">9600</text>
<text x="750.20" y="930" text-anchor="middle" textLength="41.7" lengthAdjust="spacingAndGlyphs">10400</text>
<text x="809.72" y="930" text-anchor="middle" textLength="41.7" lengthAdjust="spacingAndGlyphs">11200</text>
<text x="869.24" y="930" text-anchor="middle" textLength="41.7" lengthAdjust="spacingAndGlyphs">12000</text>
<text x="527" y="949.8" text-anchor="middle" textLength="107" lengthAdjust="spacingAndGlyphs">Surface LCL [ft]</text>
</g>
</svg>
</body></html>
